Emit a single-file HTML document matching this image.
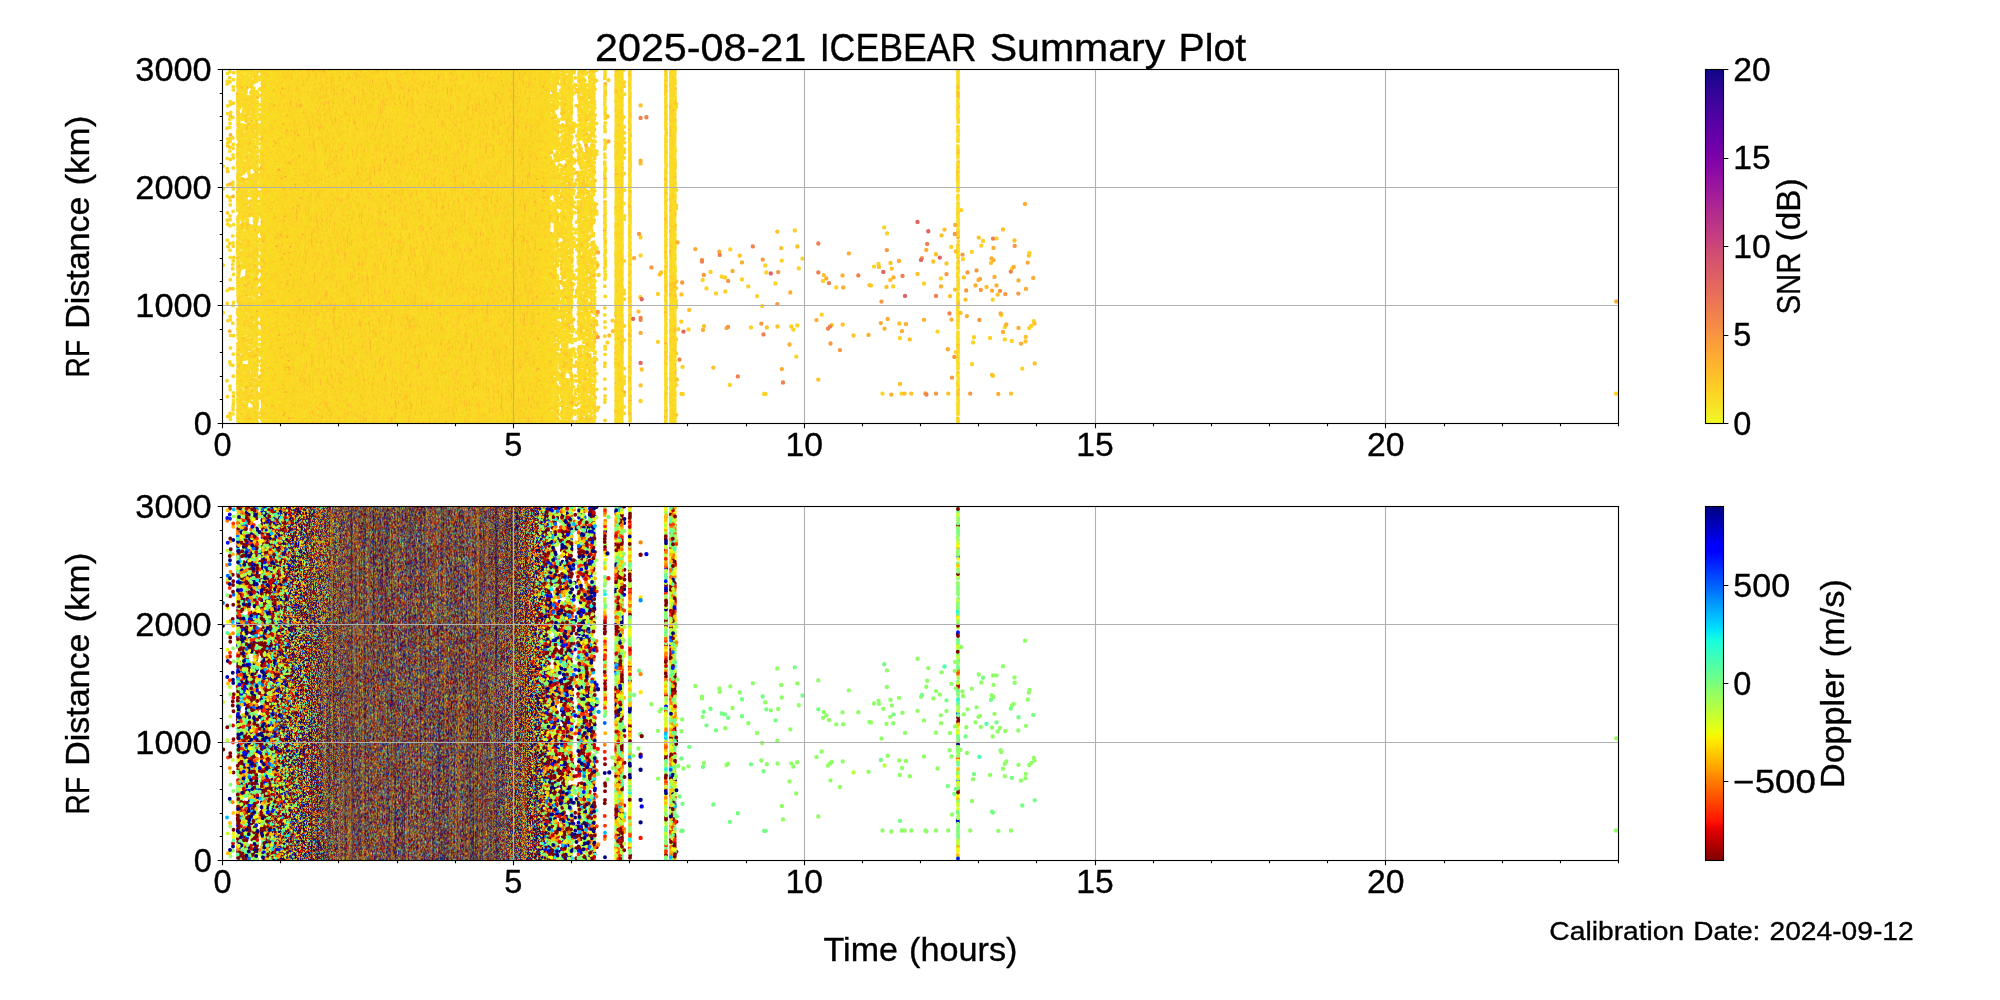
<!DOCTYPE html>
<html><head><meta charset="utf-8"><title>ICEBEAR Summary Plot</title>
<style>html,body{margin:0;padding:0;background:#fff;font-family:"Liberation Sans",sans-serif}svg{display:block}</style>
</head><body>
<svg width="2000" height="1000" viewBox="0 0 2000 1000" font-family="'Liberation Sans', sans-serif" fill="#000">
<rect width="2000" height="1000" fill="#fff"/>
<defs><clipPath id="c1"><rect x="222.5" y="69.5" width="1396.0" height="354.0"/></clipPath><clipPath id="c2"><rect x="222.5" y="506.5" width="1396.0" height="354.0"/></clipPath></defs>
<g clip-path="url(#c1)"><defs><filter id="nt" x="0" y="0" width="1" height="1" color-interpolation-filters="sRGB"><feTurbulence type="fractalNoise" baseFrequency="0.7 0.035" numOctaves="2" seed="4"/><feColorMatrix type="matrix" values="1 0 0 0 0 1 0 0 0 0 1 0 0 0 0 0 0 0 0 1"/><feComponentTransfer><feFuncR type="discrete" tableValues="0.981 0.98 0.983 0.99 0.976 0.978 0.973 0.988 0.973 0.994 0.99 0.976 0.974 0.989 0.983 0.984 0.98 0.98 0.973 0.988 0.988 0.994 0.983 0.983 0.98 0.988 0.992 0.978 0.978 0.994 0.973 0.985 0.98 0.983 0.981 0.981 0.974 0.984 0.981 0.973 0.983 0.978 0.981 0.993 0.985 0.995 0.99 0.976 0.987 0.983 0.98 0.985 0.976 0.974 0.976 0.993 0.98 0.985 0.983 0.974"/><feFuncG type="discrete" tableValues="0.848 0.855 0.842 0.803 0.868 0.861 0.881 0.816 0.881 0.717 0.797 0.868 0.875 0.81 0.842 0.835 0.855 0.855 0.881 0.816 0.816 0.705 0.842 0.842 0.855 0.816 0.784 0.861 0.861 0.747 0.881 0.829 0.855 0.842 0.848 0.848 0.875 0.835 0.848 0.881 0.842 0.861 0.848 0.778 0.829 0.729 0.803 0.868 0.822 0.842 0.855 0.829 0.868 0.875 0.868 0.778 0.855 0.829 0.842 0.875"/><feFuncB type="discrete" tableValues="0.142 0.142 0.142 0.147 0.143 0.143 0.145 0.144 0.145 0.177 0.148 0.143 0.144 0.145 0.142 0.143 0.142 0.142 0.145 0.144 0.144 0.183 0.142 0.142 0.142 0.144 0.151 0.143 0.143 0.164 0.145 0.143 0.142 0.142 0.142 0.142 0.144 0.143 0.142 0.145 0.142 0.143 0.142 0.153 0.143 0.172 0.147 0.143 0.144 0.142 0.142 0.143 0.143 0.144 0.143 0.153 0.142 0.143 0.142 0.144"/></feComponentTransfer><feConvolveMatrix order="3" kernelMatrix="0 2 0 1 4 1 0 2 0" edgeMode="duplicate" preserveAlpha="true"/></filter><filter id="nb" x="0" y="0" width="1" height="1" color-interpolation-filters="sRGB"><feTurbulence type="fractalNoise" baseFrequency="0.9 0.27" numOctaves="2" seed="11"/><feColorMatrix type="matrix" values="1 0 0 0 0 1 0 0 0 0 1 0 0 0 0 0 0 0 0 1"/><feComponentTransfer><feFuncR type="discrete" tableValues="0.5 0 1 0.5 0 0.971 1 0.5 1 0.794 0 0 0.5 0 0.5 1 0 0.5 0 0.705 0.452 1 0.5 0 0.5 0.895 0.785 0 1 0.5 1 0 1 0.225 0.5 1 0 0 0.5 1 0 0.5 0.617 0.465 0 0.5 0.794 0 0.5 1 0 0.5 1 0.91 0 0.5 0 1 0.5 0.607 0.427 0.5 0 1 0.5 0.794 1 0 0 0 0.5 0 0.981 0.5 0.655 0 0.5 1 1 0 0.5 0 0.781 1 0 0.5 0 0.49 0.643 0.225 0.767 0 0.5 0.338 0.5 0 0 1 0.541 0.5 0 0.971 0.908 0.5 0.047 0 0.5 1 1 0 0.5 1 0.5 0 0.5 0.528 0 1 1 0.5 0.718 0 0 0.66 0.5 0.781 0 1 0.963 0.5 0 0.5 1 1 0 0 0.5 0 0.5 0.5 0 0.465 0.908 0.085 0.785 0.3 1 0.981 0.693 0.5 0 1 0.5 0 1 0.5 0 0.5 0 0.781 1 0.5 0 1 0 0.414 0 0.5 0 0.5 0 1 0.5 1 1 0.832 0.693 0 0.946 0.5"/><feFuncG type="discrete" tableValues="0 0 0.654 0 0 0.959 0.146 0 0.335 1 0 0.222 0 0 0 0.625 0 0 0 1 1 0.829 0 0 0 1 0 0 0.582 0 0.117 0 0.378 1 0 0.872 0.629 0 0 0.596 0 0 1 1 0.833 0 1 0 0 0.843 0 0 0.64 0.001 0 0 0 0.291 0 0 1 0 0 0.683 0 1 0.872 0 0 0.206 0 0 0.059 0 1 0 0 0.32 0.567 0.645 0 0 1 0.916 0.849 0 0 1 0 1 0 0 0 1 0 0 0.222 0.567 1 0 0 0.959 1 0 0.959 0 0 0.146 0.349 0 0 0.567 0 0 0 1 0 0.858 0.669 0 1 0 0 0 0 1 0 0.436 0.044 0 0 0 0.858 0.625 0 0.676 0 0 0 0 0 1 1 1 0 1 0.916 0.059 1 0 0 0.553 0 0.175 0.436 0 0 0 0 1 0.829 0 0 0.582 0 1 0.598 0 0 0 0 0.654 0 0.393 0.858 1 1 0 0.03 0"/><feFuncB type="discrete" tableValues="0 0.5 0 0 0.5 0 0 0 0 0.174 0.5 1 0 0.5 0 0 0.5 0 0.857 0.262 0.515 0 0 0.5 0 0.073 0 0.5 0 0 0 0.5 0 0.743 0 0 1 0.5 0 0 0.5 0 0.351 0.503 1 0 0.174 0.5 0 0 0.5 0 0 0 0.5 0 0.5 0 0 0 0.541 0 0.5 0 0 0.174 0 0.5 0.928 1 0 0.5 0 0 0.313 0.5 0 0 0 1 0 0.5 0.187 0 1 0 0.5 0.478 0 0.743 0 0.5 0 0.629 0 0.5 1 0 0.427 0 0.5 0 0.06 0 0.92 0.5 0 0 0 0.5 0 0 0 0.5 0 0.44 0.5 0 0 0 0.25 0.857 0.5 0 0 0.187 0.5 0 0 0 0.5 0 0 0 0.5 1 0 0.5 0 0 0.5 0.503 0.06 0.882 0 0.667 0 0 0.275 0 0.5 0 0 1 0 0 0.5 0 0.5 0.187 0 0 0.5 0 0.928 0.553 1 0 0.5 0 0.5 0 0 0 0 0.136 0.275 0.5 0 0"/></feComponentTransfer><feColorMatrix type="matrix" values="1 0 0 0 0 0 1 0 0 0 0 0 1 0 0 0 0 0 1 0" result="a"/><feTurbulence type="fractalNoise" baseFrequency="0.9 0.27" numOctaves="2" seed="37"/><feColorMatrix type="matrix" values="1 0 0 0 0 1 0 0 0 0 1 0 0 0 0 0 0 0 0 1"/><feComponentTransfer><feFuncR type="discrete" tableValues="0 0.5 0.731 0.49 0.5 0 0.857 1 0.5 0 1 0 0.91 0.5 0 0 0.288 0.5 1 0 0.5 0.541 1 0 0.714 0.5 0 0.857 0.022 0.5 0 0.984 0.981 0.5 1 0.718 0 0.5 0 0.5 1 0 0.5 0.971 0 0.781 0.237 0.5 1 0 0.465 0.75 0.5 0 0 0.5 0 1 0.963 1 0.5 0 0.5 0 1 0.655 0.5 0 0.844 0.414 0.5 0 0.984 0.5 0 1 0 0.963 0.5 0 0.5 0.643 0.844 1 0.5 0 0 1 0.5 1 0.785 0.5 1 0 0 1 0.5 0 0.503 0.769 0.313 0.5 1 0 0.91 0.5 1 0 0.5 0 0 0 0.5 1 1 0.5 0 0.87 0.643 0.996 0.5 0 0 0.667 0.5 0.478 1 0 0.5 0 0 1 0.5 0.5 0 0.984 0.908 0.262 0.5 0 1 1 0.5 0 0 0.5 0.678 0 0.629 0.503 1 0.984 0.5 0.832 0 0.5 0.981 0 0 0.5 0.085 0.5 0 1 1 0.5 1 0 0.478 0.5 0 0.5 0.844 0 0.981 0.5 1 0 0.604 0.5"/><feFuncG type="discrete" tableValues="0 0 1 1 0 0 1 0.625 0 0 0.916 0 0.001 0 0.645 0 1 0 0.698 0 0 1 0.407 0.3 0 0 0 1 0.927 0 0 0.945 0.059 0 0.567 1 0 0 0 0 0.291 0 0 0.959 0 1 1 0 0.553 0 1 0 0 0.567 0 0 0 0.901 0.044 0.625 0 0 0 0.865 0.32 1 0 0 1 1 0 0 0.945 0 0.175 0.683 0 0.044 0 0 0 0 1 0.596 0 0 0 0.887 0 0.393 0 0 0.916 0.19 0 0.291 0 0 1 1 1 0 0.611 0 0.001 0 0.829 0 0 0 0 0.52 0 0.654 0.306 0 0 1 0 0.93 0 0 0.88 1 0 1 0.567 0 0 0.237 0 0.146 0 0 0 0.945 1 1 0 0 0.669 0.32 0 0 0.535 0 0 0 1 1 0.712 0.945 0 1 0 0 0.059 0 0 0 1 0 0 0.64 0.422 0 0.843 0 1 0 0 0 1 0 0.059 0 0.669 0 1 0"/><feFuncB type="discrete" tableValues="0.5 0 0.237 0.478 0 0.5 0.111 0 0 0.999 0 0.5 0 0 1 0.5 0.68 0 0 0.5 0 0.427 0 1 0 0 0.5 0.111 0.946 0 0.5 0 0 0 0 0.25 0.5 0 0.5 0 0 0.5 0 0 0.91 0.187 0.731 0 0 0.5 0.503 0 0 1 0.5 0 0.5 0 0 0 0 0.5 0 0.996 0 0.313 0 0.5 0.123 0.553 0 0.5 0 0 1 0 0.5 0 0 0.5 0 0 0.123 0 0 0.5 0.5 0 0 0 0 0 0 1 0.5 0 0 0.5 0.465 0.199 0.655 0 0 0.5 0 0 0 0.5 0 0.874 0.5 1 0 0 0 0 0.5 0.098 0 0 0 0.5 0.984 0.3 0 0.49 0 0.5 0 1 0.5 0 0 0 0.5 0 0.06 0.705 0 0.5 0 0 0 0.5 1 0 0 0.5 0.338 0.465 0 0 0 0.136 1 0 0 0.5 0.5 0 0.882 0 0.5 0 0 0 0 0.5 0.49 0 0.5 0 0.123 0.5 0 0 0 0.5 0.364 0"/></feComponentTransfer><feColorMatrix type="matrix" values="1 0 0 0 0 0 1 0 0 0 0 0 1 0 0 0 0 0 1 0" result="b"/><feTurbulence type="fractalNoise" baseFrequency="0.9 0.27" numOctaves="2" seed="53"/><feColorMatrix type="matrix" values="1 0 0 0 0 1 0 0 0 0 1 0 0 0 0 0 0 0 0 1"/><feComponentTransfer><feFuncR type="discrete" tableValues="0 0.5 0.908 0.452 1 0.5 0 1 1 0.5 0 0.696 0.5 0 0.5 0.857 0.958 0 0.5 1 0.503 0.3 0 1 0.5 0 0.5 0 0 1 0.705 1 0.5 0 1 0.5 0.06 0 0 0.5 0.781 1 0 0.767 0.5 0.553 1 0 0.5 1 0 0.5 1 0.5 0 0.882 0.5 0 1 0.5 1 0 0.275 0.5 0.999 0.629 0 0.553 0.5 0 1 0 0.5 0.5 1 0.607 0.781 0 0 1 0.5 0 0.5 0.999 0 0 0.5 0.693 1 0 0.714 0 0.5 0.035 1 1 0 0.5 0.895 0.5 0 0.5 1 0 1 0.5 0.503 0 0 1 1 0.25 0.5 0 0.5 1 0.5 0 0.857 1 0.714 0.5 0.68 0 0.5 0 1 0.5 1 1 0.857 0 0.5 0 0 0.49 0.5 0 1 0 0.5 0 0.91 0.5 1 0 0.68 0 0.781 0.5 0 1 0.5 0 0.971 0.5 0.225 0.643 1 0.541 0 0.5 0 0.5 0.5 0 1 0.996 0.5 1 0 0.806 0.5 0 0 1 0.5 0.478 0.718 0"/><feFuncG type="discrete" tableValues="0 0 1 1 0.843 0 0 0.335 0.654 0 0 0 0 0 0 1 0.974 0 0 0.088 1 1 0 0.683 0 0.253 0 0 0 0.872 1 0.364 0 0 0.683 0 0.975 0 0.551 0 1 0.117 0 0 0 1 0.916 0 0 0.683 0 0 0.291 0 0 1 0 0 0.596 0 0.901 0 1 0 0.073 1 0 1 0 0.331 0.306 0 0 0 0.567 0 1 0 0 0.829 0 0 0 0.073 0.645 0 0 1 0.611 0.896 0 0 0 0.943 0.843 0.596 0 0 1 0 0 0 0.088 0 0.669 0 1 0.676 0 0.843 0.335 1 0 0 0 0.683 0 0 1 0.117 0 0 1 0 0 0 0.872 0 0.625 0.393 1 0 0 0.222 0 1 0 0 0.901 0.567 0 0 0.001 0 0.611 0 1 0.849 1 0 0 0.335 0 0 0.959 0 1 0 0.625 1 0 0 0 0 0 0 0.131 0.93 0 0.698 0 1 0 0 0 0.407 0 1 1 0.237"/><feFuncB type="discrete" tableValues="0.5 0 0.06 0.515 0 0 0.5 0 0 0 0.5 0 0 0.5 0 0.111 0.009 0.5 0 0 0.465 0.667 0.5 0 0 1 0 0.5 0.892 0 0.262 0 0 0.5 0 0 0.908 0.5 1 0 0.187 0 0.5 0 0 0.414 0 0.5 0 0 0.5 0 0 0 0.5 0.085 0 0.5 0 0 0 0.5 0.693 0 0 0.338 0.5 0.414 0 1 0 0.5 0 0 0 0 0.187 0.5 0.874 0 0 0.5 0 0 1 0.5 0 0.275 0 0.971 0 0.5 0 0.933 0 0 0.5 0 0.073 0 0.5 0 0 0.5 0 0 0.465 1 0.5 0 0 0.718 0 0.5 0 0 0 0.5 0.111 0 0 0 0.288 0.5 0 0.5 0 0 0 0 0.111 0.5 0 1 0.5 0.478 0 0.999 0 1 0 0.5 0 0 0 0.5 0.288 1 0.187 0 0.5 0 0 0.5 0 0 0.743 0 0 0.427 0.5 0 0.5 0 0 0.5 0 0 0 0 0.5 0.161 0 0.91 0.5 0 0 0.49 0.25 1"/></feComponentTransfer><feColorMatrix type="matrix" values="1 0 0 0 0 0 1 0 0 0 0 0 1 0 0 0 0 0 1 0" result="c"/><feComposite in="a" in2="b" operator="arithmetic" k1="0" k2="0.64" k3="0.36" k4="0" result="ab"/><feComposite in="ab" in2="c" operator="arithmetic" k1="0" k2="0.8" k3="0.2" k4="0"/><feConvolveMatrix order="3" kernelMatrix="0 3 0 1 9 1 0 3 0" edgeMode="duplicate" preserveAlpha="true"/></filter><filter id="st" x="0" y="0" width="1" height="1" color-interpolation-filters="sRGB"><feTurbulence type="fractalNoise" baseFrequency="0.45 0.003" numOctaves="2" seed="9"/><feColorMatrix type="matrix" values="0 0 0 0 0.05 0 0 0 0 0.02 0 0 0 0 0.35 2.6 0 0 0 -1.3"/></filter><filter id="sy" x="0" y="0" width="1" height="1" color-interpolation-filters="sRGB"><feTurbulence type="fractalNoise" baseFrequency="0.45 0.003" numOctaves="2" seed="31"/><feColorMatrix type="matrix" values="0 0 0 0 0.95 0 0 0 0 0.62 0 0 0 0 0.05 2.6 0 0 0 -1.3"/></filter><filter id="nc" x="0" y="0" width="1" height="1" color-interpolation-filters="sRGB"><feTurbulence type="fractalNoise" baseFrequency="0.52 0.2" numOctaves="2" seed="71"/><feColorMatrix type="matrix" values="1 0 0 0 0 1 0 0 0 0 1 0 0 0 0 0 0 0 0 1"/><feComponentTransfer><feFuncR type="discrete" tableValues="0 0.5 0.275 1 0 0.5 0 0.882 0.705 1 0.5 0.591 0 1 0.047 0.478 0 0.5 1 0 0.66 0.5 0 0 0.5 1 1 0 0.857 0.5 0.958 0.5 0 0.553 1 0.5 0 0.5 1 0.892 0 0.678 1 0.5 0 0.92 0.617 0.5 0 0.604 1 0 0.5 0.262 0.49 0 1 0.5 0 1 0.5 0 0.607 0 0.946 0.047 0.5 1 0 1 0.5 0.655 0 0.806 1 0.566 0.5 0 0.5 0 0.999 1 0 0.5 0 1 0.5 0 0.844 0.465 0.49 0.5 0 1 0.5 0.767 0.958 1 0 0.5 1 0.199 0 0.5 0.767 0 0.604 0.5 0 0.515 0 0.5 1 0.946 0 0.5 1 1 0 0.5 0.806 0.5 0 0.604 1 0.996 0.732 0.5 0 0.604 0.5 1 0 0 0.5 0.882 1 0 0.5 1 0 1 0.5 0 0.503 0.5 0 0 0.022 0.262 0.49 0.5 1 1 0 0.5 1 0.731 0.832 0.678 1 0 0.5 0 0.5 0 1 0.5 0 1 0 0.49 0.5 0 1 0.5 1 0.895 0 0.643 0.528 0.5 0.984 0.5 0 0.047 1 0.5 0 0.68 0.503 0 0.882 1 0.5 0 1 0.5 1 0"/><feFuncG type="discrete" tableValues="0 0 1 0.131 0.551 0 0 1 1 0.596 0 1 0 0.916 0.959 1 0.316 0 0.436 0 0 0 0 0 0 0.64 0.146 0 1 0 0.974 0 0 1 0.364 0 0 0 0.64 0 0 0 0.843 0 0 1 1 0 0 1 0.901 0.206 0 1 1 0 0.64 0 0 0.407 0 0 0 0.598 0.03 0.959 0 0.669 0 0.901 0 1 0 1 0.436 1 0 0 0 0 0.073 0.625 0 0 0.222 0.887 0 0 1 1 1 0 0 0.669 0 0 0.974 0.32 0 0 0.64 1 0 0 0 0 1 0 0 1 0.269 0 0.553 0.03 0 0 0.829 0.393 0 0 1 0 0 1 0.567 0.93 0 0 0 1 0 0.131 0 0 0 1 0.436 0.269 0 0.901 0 0.712 0 0 1 0 0 0.661 0.927 1 1 0 0.306 0.872 0 0 0.102 1 1 0 0.553 0 0 0 0 0 0.916 0 0 0.625 0.331 1 0 0 0.407 0 0.146 1 0 0 1 0 0.945 0 0 0.959 0.567 0 0 1 1 0.551 1 0.306 0 0 0.146 0 0.916 0"/><feFuncB type="discrete" tableValues="0.5 0 0.693 0 1 0 0.5 0.085 0.262 0 0 0.376 0.5 0 0.92 0.49 1 0 0 0.5 0 0 0.963 0.5 0 0 0 0.5 0.111 0 0.009 0 0.5 0.414 0 0 0.5 0 0 0 0.5 0 0 0 0.5 0.047 0.351 0 0.5 0.364 0 1 0 0.705 0.478 0.946 0 0 0.5 0 0 0.5 0 1 0 0.92 0 0 0.5 0 0 0.313 0.5 0.161 0 0.402 0 0.5 0 0.928 0 0 0.5 0 1 0 0 0.5 0.123 0.503 0.478 0 0.5 0 0 0 0.009 0 0.5 0 0 0.769 0.5 0 0 0.5 0.364 0 0.5 0.452 1 0 0 0 0.5 0 0 0 0.5 0 0.161 0 0.5 0.364 0 0 0 0 0.5 0.364 0 0 0.857 0.5 0 0.085 0 1 0 0 0.5 0 0 0.5 0.465 0 0.5 1 0.946 0.705 0.478 0 0 0 0.5 0 0 0.237 0.136 0 0 0.5 0 0.5 0 0.981 0 0 0.5 0 1 0.478 0 0.5 0 0 0 0.073 0.5 0 0.44 0 0 0 0.5 0.92 0 0 0.5 0.288 0.465 1 0.085 0 0 0.5 0 0 0 0.91"/></feComponentTransfer><feConvolveMatrix order="3" kernelMatrix="0 1 0 0 10 0 0 1 0" edgeMode="duplicate" preserveAlpha="true"/></filter><linearGradient id="mgl" gradientUnits="userSpaceOnUse" x1="262" y1="0" x2="362" y2="0"><stop offset="0" stop-color="#fff" stop-opacity="1"/><stop offset="0.4" stop-color="#fff" stop-opacity="1"/><stop offset="0.68" stop-color="#fff" stop-opacity="0.5"/><stop offset="1" stop-color="#fff" stop-opacity="0"/></linearGradient><linearGradient id="mgr" gradientUnits="userSpaceOnUse" x1="470" y1="0" x2="549.5" y2="0"><stop offset="0" stop-color="#fff" stop-opacity="0"/><stop offset="0.55" stop-color="#fff" stop-opacity="0.6"/><stop offset="0.85" stop-color="#fff" stop-opacity="1"/><stop offset="1" stop-color="#fff" stop-opacity="1"/></linearGradient><mask id="mkl" maskUnits="userSpaceOnUse" x="262" y="506.5" width="100" height="354.0"><rect x="262" y="506.5" width="100" height="354.0" fill="url(#mgl)"/></mask><mask id="mkr" maskUnits="userSpaceOnUse" x="470" y="506.5" width="79.5" height="354.0"><rect x="470" y="506.5" width="79.5" height="354.0" fill="url(#mgr)"/></mask><path id="d0" d="m909 2708h0m42-18h0m1 21h0m0-219h0m1-63h0m5 969h0m1-356h0m5-764h0m13 363h0m1 418h0m26-492h0m1 868h0m10-637h0m1 467h0m34-1115h0m1 687h0m6-358h0m10 270h0m1-675h0m2 867h0m0-275h0m1127-285h0m5-196h0m19 642h0m12-793h0m4 1159h0m12-1066h0m6 844h0m3 385h0m9-420h0m17-779h0m1 1054h0m1-595h0m8 679h0m6-697h0m13-44h0m5-18h0m10 544h0m5-776h0m5 941h0m7-190h0m11-524h0m8 450h0m5-154h0m10-98h0m85-681h0m0 638h0m1-191h0m0 377h0m0-607h0m15 317h0m40 248h0m0-107h0m145-448h0m19 306h0m15-144h0m1 133h0m0 551h0"/><path id="d1" d="m919 3072h0m3-588h0m0-197h0m10 246h0m19-410h0m1 904h0m6-216h0m11 154h0m6-48h0m1 449h0m0-265h0m2-883h0m7 708h0m1-550h0m2-279h0m8 953h0m1 284h0m8-1101h0m1 1096h0m3-430h0m16 93h0m0-558h0m5 167h0m8 655h0m1-740h0m8 404h0m1 268h0m14-222h0m4-370h0m1 281h0m0-32h0m5-122h0m17-241h0m0 471h0m1103 154h0m5 58h0m4-541h0m1 567h0m1-509h0m1 195h0m5-9h0m2 567h0m0-514h0m0 158h0m3-964h0m0 865h0m10 146h0m6-849h0m6-26h0m4 198h0m9 567h0m2 358h0m4-1177h0m1 1017h0m2-862h0m0 583h0m7-528h0m3 973h0m1-1040h0m1-187h0m3 8h0m0 617h0m4 279h0m1-582h0m10 881h0m19-496h0m8-227h0m4-490h0m3-50h0m2 1294h0m2-611h0m3-294h0m9-212h0m0-70h0m6 126h0m1 6h0m0 875h0m3-922h0m10 890h0m1 174h0m1-249h0m4-53h0m2-443h0m11 593h0m2-120h0m1 260h0m39-668h0m1-207h0m1-379h0m43 1307h0m1-946h0m0 835h0m0-269h0m0 28h0m0 100h0m7-623h0m0-72h0m1 658h0m7 88h0m0 117h0m1-181h0m0-939h0m1 885h0m0-559h0m5 802h0m0-392h0m1-841h0m0 338h0m9 897h0m22-377h0m1 392h0m0 17h0m0-256h0m143-97h0m0-372h0m0 790h0m0-292h0m1 33h0m0-1085h0m19 475h0m0 380h0m1-333h0m0-300h0m7 1077h0m1-199h0m0-255h0m6 320h0m0-27h0m1-751h0m1-355h0m1132 868h0m0-272h0"/><path id="d2" d="m1116 2318h0m1 413h0m2-600h0m5-38h0m4 422h0m10-97h0m9-157h0m20 181h0m17 592h0m2 64h0m0 112h0m37-303h0m916-738h0m14 878h0m5 24h0m9-221h0m13 302h0m3-305h0m0 212h0m3-204h0m0 126h0"/><path id="d3" d="m1054 2400h0m11 929h0m10-827h0m4 15h0m0 591h0m4 214h0m3-709h0m7 325h0m6 218h0m7 30h0m3-481h0m1 497h0m3-370h0m16-761h0m1 822h0m5 214h0m18-1069h0m1 936h0m1014-33h0m3-429h0m1 695h0m2-945h0m1 954h0m5-159h0m3-281h0m2-39h0m10-425h0"/><path id="d4" d="m1101 3241h0m40-34h0m1039-1117h0m12 1028h0m4-87h0"/><path id="d5" d="m1084 2090h0m1 643h0m2 113h0m6-513h0m4-274h0m0 464h0m1 292h0m1 166h0m1-397h0m3-475h0m0 960h0m1-427h0m1-599h0m2 1049h0m2 264h0m2-390h0m1-500h0m3-187h0m5 910h0m3-695h0m1 354h0m1 553h0m1-477h0m1-119h0m0-17h0m3 381h0m0-70h0m0-516h0m0-244h0m2 408h0m1 100h0m0-357h0m1-147h0m0 1044h0m4-1165h0m1 950h0m1-976h0m3 578h0m0-648h0m0 1147h0m1-253h0m6 103h0m1-291h0m0 458h0m4-331h0m1 224h0m1-304h0m0-361h0m1 551h0m1-142h0m0-554h0m0 667h0m2 260h0m1-1197h0m2 422h0m1 828h0m0-497h0m2 151h0m0 88h0m0-144h0m2-759h0m0-41h0m2 899h0m0 288h0m6-372h0m4 188h0m0-1024h0m1 1300h0m5-880h0m1-491h0m1 712h0m1-726h0m1 665h0m1 329h0m0 395h0m4-376h0m2-792h0m0 267h0m2-252h0m0 607h0m0-86h0m5-684h0m0 92h0m0-81h0m2 395h0m2 267h0m5-203h0m1 60h0m4 224h0m6 410h0m0-575h0m14 239h0m900-516h0m0 430h0m1 503h0m2-1013h0m7 844h0m1-520h0m1 132h0m1-752h0m1 1226h0m4-471h0m0-290h0m1 414h0m3-896h0m2 1157h0m0-723h0m0 158h0m1 340h0m2-155h0m1 261h0m1 59h0m1-357h0m2-241h0m0-169h0m1-18h0m0-222h0m0-69h0m2 1272h0m1-214h0m1-868h0m2 412h0m0 588h0m2-738h0m2 803h0m0-1251h0m2 648h0m1 545h0m3 59h0m2-1085h0m1 450h0"/><path id="d6" d="m911 2331h0m1 699h0m7-309h0m32-97h0m2-10h0m2 479h0m0 77h0m2-352h0m1 99h0m1-192h0m5-653h0m0 820h0m3 340h0m1-512h0m6-63h0m5 452h0m0-156h0m5-214h0m2-430h0m1 303h0m1 58h0m0 658h0m6-864h0m1 367h0m1-101h0m3-562h0m16-10h0m9 577h0m1-212h0m2 396h0m20-132h0m10-38h0m1 131h0m8 339h0m11-350h0m1105-220h0m4 659h0m16-888h0m2 525h0m0-178h0m1 385h0m17-1012h0m0 1275h0m5-697h0m1-393h0m2 969h0m10-735h0m15-178h0m1 631h0m11-689h0m3 498h0m12-561h0m6 206h0m29 438h0m1-243h0m5-99h0m11-200h0m3 354h0m6 27h0m1 186h0m2-624h0m12 263h0m1 302h0m0-693h0m0 1138h0m5-971h0m4 605h0m6-310h0m1 481h0m11-528h0m34 711h0m1-513h0m0 11h0m43 200h0m1-18h0m0-597h0m1 237h0m7 765h0m0-1006h0m1 552h0m7 66h0m0-696h0m6 757h0m1 341h0m0-98h0m0-624h0m31 218h0m1-290h0m0-19h0m0-172h0m143 427h0m1-212h0m19 689h0m0 8h0m8-348h0m0-490h0m1-383h0m0 97h0m0 101h0m6 990h0m1-850h0m1 744h0m0-926h0m0 147h0m1132 622h0m0-344h0"/><path id="d7" d="m1060 3286h0m10-202h0m19 207h0m1-996h0m21-189h0m31 701h0m1 371h0m5-597h0m1022 148h0"/><path id="d8" d="m1052 3421h0m11-794h0m13 420h0m5-706h0m9 447h0m8 71h0m19-715h0m5 952h0m39-685h0m1013 825h0m6-269h0m0-179h0m3 151h0m2-98h0m1-775h0m1 398h0m2 260h0"/><path id="d9" d="m1059 2872h0m0 48h0m4-655h0m7 378h0m7-130h0m3-203h0m4 802h0m5 245h0m3-561h0m5 600h0m2-791h0m10 502h0m16 43h0m4-379h0m0-288h0m8-170h0m3-216h0m6 190h0m5 546h0m10-100h0m1006-390h0m11 428h0m2-637h0m13 157h0m1 342h0m2-270h0"/><path id="d10" d="m1054 3144h0m3-36h0m6 292h0m5 4h0m1-171h0m0-439h0m1-444h0m1 763h0m0-917h0m1 951h0m1-171h0m0-443h0m3-406h0m2 588h0m3 106h0m0-564h0m1-54h0m0 958h0m1-460h0m2-629h0m4 408h0m1-209h0m2 735h0m2-434h0m1 149h0m3 455h0m3-846h0m1 917h0m4 38h0m3-182h0m6-592h0m4 297h0m11 167h0m5-451h0m2 878h0m0-85h0m2-514h0m4 94h0m2-200h0m0 640h0m3-1058h0m7 947h0m8 94h0m1003-480h0m2 574h0m5-694h0m0-51h0m5 545h0m1-7h0m2-1082h0m3 1048h0m2-903h0m2 311h0m6-240h0m2 254h0m0-530h0m1 1023h0m0 89h0"/><path id="d11" d="m920 2075h0m31 471h0m4-322h0m0 546h0m14-669h0m27-34h0m11 1153h0m11 136h0m11-1002h0m30-224h0m1164 1131h0m25-541h0m40-56h0m18-196h0m41 250h0m12-683h0m113 620h0m1 581h0m0 57h0m8-703h0m6-127h0"/><path id="d12" d="m1061 2321h0m2-244h0m3 529h0m0-490h0m1 650h0m6 297h0m7 320h0m0-1266h0m9 1196h0m1-185h0m0-510h0m1 212h0m2-635h0m4 806h0m6-246h0m0 468h0m3-448h0m4-732h0m0 981h0m1-397h0m2 589h0m1 40h0m2-807h0m6 567h0m7 169h0m1-20h0m1-1020h0m2 440h0m0 273h0m2-553h0m3 773h0m1-212h0m2-213h0m0-393h0m1020 539h0m10 591h0m8-4h0m2-1267h0m4 174h0m1 1025h0m6-997h0m2 586h0m2 50h0m0 423h0m0-62h0"/><path id="d13" d="m1087 3228h0m8-1188h0m0 716h0m2-654h0m4 155h0m1 1052h0m7-369h0m2 85h0m2 393h0m3-958h0m2-216h0m2 667h0m1-842h0m4 1093h0m2-777h0m0 159h0m3 562h0m9-1010h0m5 882h0m3-191h0m1-162h0m0 174h0m3 436h0m5-135h0m3-240h0m2 441h0m1-1178h0m12 460h0m2 520h0m13-265h0m5 518h0m12-73h0m8-1115h0m16-124h0m5 436h0m887 837h0m17 91h0m1-808h0m4-194h0m12 104h0m3-395h0m2 599h0m1 96h0m5 376h0m8-535h0m3 352h0m2-875h0m10 363h0m2-42h0"/><path id="d14" d="m1058 2772h0m0-624h0m4 590h0m3 543h0m0-209h0m2 198h0m5-520h0m1-613h0m4 115h0m0 844h0m1-774h0m1 710h0m0 97h0m3-38h0m1-839h0m1 315h0m2 823h0m1-178h0m2-802h0m1-24h0m2 476h0m2 204h0m9-567h0m5-11h0m4 245h0m1-154h0m0-110h0m1 538h0m0-508h0m1 844h0m0 59h0m0-1213h0m2 1037h0m1-296h0m0-594h0m1 454h0m2-464h0m1 390h0m0 191h0m1 417h0m2-1240h0m3 1321h0m2-668h0m1-188h0m2 652h0m2 173h0m0-967h0m3 345h0m1-85h0m0 191h0m0-119h0m6-233h0m0-106h0m2 281h0m10-492h0m1005 860h0m1-33h0m5-243h0m5-679h0m1 112h0m5 974h0m1-302h0m0 473h0m1-331h0m0-44h0m0-112h0m3 53h0m1-47h0m3-211h0m1 628h0m1-88h0m0-935h0m1 248h0m0 151h0m1 688h0m0-626h0m1 462h0m0-40h0m1-490h0m2 743h0m0-1317h0m1 1326h0"/><path id="d15" d="m1061 3225h0m2-336h0m7 436h0m1-974h0m2 566h0m4 42h0m1-125h0m7-384h0m1 657h0m0-47h0m1-633h0m5 12h0m1 124h0m1-430h0m2 733h0m7-278h0m3-169h0m7-168h0m2 418h0m2 389h0m5-276h0m1-498h0m7-88h0m1 1042h0m1-641h0m3-188h0m17 123h0m1 141h0m7 10h0m1005 750h0m7-602h0m2 605h0m1-873h0m3 572h0m6-519h0m7 0h0m1 119h0m0 269h0m5 225h0"/><path id="d16" d="m1058 2290h0m1 687h0m7-511h0m37 794h0m24-615h0m8-385h0m1046 203h0"/><path id="d17" d="m1094 3433h0m9-1060h0m10 352h0m16 286h0m8-903h0m26 628h0m10 658h0m3-1135h0m20 358h0m3 426h0m941 254h0m9-84h0m1-499h0m10 337h0m9-448h0m2 282h0m4-191h0m10 171h0m2-509h0"/><path id="d18" d="m1100 2313h0m3 127h0m6 394h0m2-76h0m3-121h0m3 689h0m4 54h0m2-311h0m4-484h0m4-389h0m2 105h0m0 523h0m1-46h0m0 189h0m1 398h0m5-686h0m1-511h0m6 1038h0m0-27h0m2-993h0m3 116h0m2 661h0m4 185h0m2 217h0m1-287h0m2 24h0m5 129h0m1-69h0m6-520h0m1 171h0m1 592h0m1-1353h0m10 85h0m16 45h0m3 846h0m0 277h0m1-948h0m17-71h0m7 903h0m901-597h0m8 683h0m1-1056h0m3 1180h0m6-475h0m4 466h0m1-641h0m2 105h0m1-253h0m6 473h0m1 86h0m3 99h0m3-134h0m1-375h0m2-244h0m3 496h0m1-444h0m3 853h0m1-1307h0m2 910h0m6-2h0"/><path id="d19" d="m1098 2682h0m2-281h0m2-257h0m9 581h0m4-415h0m1 894h0m1 49h0m2-655h0m1-84h0m1-149h0m0 1003h0m1-1046h0m14 570h0m1-558h0m15 169h0m2-184h0m0 917h0m1-854h0m1-299h0m4 1263h0m1-635h0m1 215h0m6 428h0m7-1044h0m0 182h0m2 384h0m2-800h0m3 708h0m0-422h0m4 466h0m5-176h0m1-35h0m2 669h0m5-1045h0m5 53h0m922 865h0m13-516h0m5 454h0m2-227h0m3-808h0m1 683h0m6 363h0m0-532h0m4 368h0m1 286h0m1-11h0m3-308h0m5 361h0m2-171h0m1-159h0m3 441h0m1-708h0m0 408h0m5-933h0m6-31h0m3 909h0m1-857h0"/><path id="d20" d="m954 2417h0m1 379h0m3 640h0m0-608h0m6 557h0m3-118h0m7-976h0m2 836h0m8-351h0m14-13h0m7 108h0m12 178h0m2-996h0m6 998h0m3-1015h0m18 1228h0m1138 82h0m8-816h0m8 284h0m4 482h0m16-1121h0m3 369h0m19 524h0m22 143h0m12-254h0m11-254h0m48-68h0m4-566h0m1 486h0m34 636h0m0-134h0m5-12h0m40-153h0m54-40h0m210 252h0m1 78h0m1147-328h0m1 270h0"/><path id="d21" d="m1066 3388h0m10-460h0m15 46h0m1 345h0m0-214h0m3-1064h0m18 70h0m24 732h0m1048-591h0m1 384h0m6-102h0"/><path id="d22" d="m1139 2615h0m8 797h0m5-1191h0m2 239h0m11-331h0m8 930h0m9-391h0m42 76h0m928-3h0m8-15h0m1-627h0m18 874h0m8-834h0m1 46h0"/><path id="d23" d="m920 2626h0m12 276h0m1-111h0m19-497h0m1 781h0m2-228h0m3-716h0m6 824h0m0-45h0m14 300h0m16-1029h0m0 60h0m11 1142h0m3-292h0m7-230h0m0-275h0m1-172h0m2 187h0m6 109h0m1 301h0m1-458h0m2 288h0m0-89h0m11-199h0m7-494h0m3 1014h0m0-426h0m2 595h0m8-866h0m2 61h0m16 906h0m20-44h0m1096 124h0m1-1380h0m2 670h0m0-59h0m3-195h0m6 397h0m5-395h0m3 602h0m6 119h0m4 142h0m4-237h0m1-485h0m1 469h0m2 234h0m1 6h0m0 36h0m10-272h0m7 83h0m1-69h0m0 67h0m1-645h0m7 926h0m0-469h0m1 335h0m1-829h0m7-370h0m2 977h0m1-780h0m4 686h0m0-808h0m1 112h0m1 1050h0m0-488h0m2 543h0m1-1169h0m4 166h0m4 500h0m27-102h0m3 344h0m12-183h0m4 471h0m0-574h0m4 286h0m17-507h0m0 420h0m0-831h0m1 978h0m4-28h0m5-323h0m1-371h0m12 768h0m1-19h0m0-398h0m1 354h0m41-143h0m1-314h0m0 26h0m44 246h0m0-212h0m15 10h0m1 593h0m6-42h0m0-652h0m1-374h0m9 906h0m23-868h0m0 245h0m143-400h0m1 442h0m19 716h0m1-1016h0m0-150h0m7 243h0m0 850h0m1 35h0m0-168h0m7-248h0m0 445h0m1-1092h0m0 146h0m6 885h0"/><path id="d24" d="m1110 2983h0m21-122h0m8-473h0m4 846h0m3-259h0m6-170h0m4-500h0m16-41h0m1 365h0m3-190h0m2-324h0m44 914h0m925-985h0"/><path id="d25" d="m931 2476h0m0 346h0m0-523h0m1 41h0m2 617h0m0 133h0m1-313h0m16 102h0m1-416h0m0-21h0m0 965h0m1-39h0m0 30h0m0-896h0m2 426h0m0-457h0m2 143h0m2-303h0m0 751h0m5-617h0m2 425h0m1-221h0m0 373h0m1-265h0m0-726h0m6 1143h0m0-362h0m2 408h0m0-971h0m1 783h0m0 313h0m0-181h0m0-833h0m0 72h0m1 598h0m0-409h0m0-476h0m1 1308h0m0-1265h0m0 408h0m5 442h0m2-649h0m1 891h0m0-391h0m0 275h0m1-434h0m0 258h0m0-20h0m0-617h0m0 782h0m0-470h0m1 269h0m5-707h0m1 83h0m0 545h0m0-495h0m0 371h0m0-315h0m1-44h0m0 749h0m0-680h0m0 260h0m0-449h0m1 457h0m1 499h0m1-492h0m6 609h0m0-490h0m1-215h0m0 451h0m0-770h0m0 1155h0m1-975h0m1 962h0m0-814h0m1-380h0m0 32h0m0 25h0m0 1083h0m6-519h0m0-699h0m0 1149h0m1-1215h0m0 224h0m0 188h0m1-124h0m0-28h0m1-147h0m1 633h0m0-271h0m5 89h0m1 481h0m1-665h0m1-388h0m1 1316h0m0-1097h0m0 1062h0m1-956h0m1 180h0m8 717h0m0-688h0m0-296h0m1-56h0m0 583h0m0 154h0m6-415h0m0 691h0m0-13h0m1-632h0m0 246h0m0-207h0m1 375h0m0-930h0m1 447h0m1 52h0m1-362h0m1-57h0m0 1228h0m1-305h0m4-467h0m1 659h0m0 8h0m0-697h0m0-523h0m3 1106h0m0-990h0m0-130h0m1 1132h0m0-706h0m7 186h0m0 106h0m1 404h0m0-671h0m0 573h0m1-631h0m6 9h0m2 364h0m0 463h0m0-926h0m1 654h0m0 105h0m7 84h0m1 80h0m2-159h0m0 301h0m7-1027h0m5 181h0m1086-550h0m0 127h0m3 1041h0m1-1149h0m0 228h0m0 119h0m0 352h0m0 265h0m1-753h0m0 1089h0m0-437h0m4 421h0m4-1139h0m1 173h0m0 102h0m0-260h0m1 988h0m0 144h0m0-945h0m1 197h0m3-210h0m3-284h0m3 994h0m1-1046h0m1 700h0m0-671h0m1 1324h0m3-252h0m1-294h0m0-799h0m2 720h0m0-447h0m0 926h0m1-1102h0m0 819h0m0 372h0m1-398h0m1-537h0m0-138h0m0 427h0m3 514h0m2-772h0m0-386h0m1 1080h0m1 242h0m1-338h0m0-718h0m0 37h0m1 147h0m0 384h0m0 140h0m1-562h0m7 189h0m1 343h0m0 252h0m1 19h0m0-507h0m3-290h0m0 325h0m0 152h0m0-278h0m1-256h0m0-224h0m1 231h0m0-316h0m0 1278h0m0-814h0m0 296h0m1-741h0m0 871h0m1-401h0m1 313h0m1 106h0m3-135h0m0-528h0m0 65h0m1 565h0m2-698h0m1-166h0m0 336h0m1 378h0m0-77h0m4 278h0m0-958h0m1 805h0m0-343h0m1 575h0m0-562h0m0 539h0m0 241h0m0-429h0m1-684h0m0 303h0m1 438h0m0-733h0m0 821h0m0 3h0m1 216h0m1-629h0m0-125h0m0 501h0m0-761h0m3-122h0m0 578h0m1-325h0m2 268h0m1-353h0m1 273h0m0 230h0m0-313h0m1-142h0m5 236h0m2-390h0m2 283h0m0 862h0m1-587h0m0 295h0m6-479h0m0 273h0m6 404h0m0-1192h0m4 1374h0m1-898h0m1 374h0m0 397h0m6-161h0m1-769h0m1 846h0m1-1014h0m0 1183h0m1-209h0m0-688h0m1-280h0m5 7h0m1-162h0m0-34h0m1 1189h0m0 143h0m0-640h0m0-209h0m0 471h0m1 453h0m0-851h0m0 419h0m0-405h0m1 702h0m0 102h0m2-1172h0m4 288h0m1 10h0m0 500h0m1-997h0m1 950h0m1-759h0m1-121h0m5 145h0m0-138h0m1 855h0m0-529h0m0-199h0m0 185h0m0 559h0m1 167h0m1-257h0m1-70h0m1 7h0m0 55h0m1 395h0m1-249h0m3 9h0m1-220h0m0-26h0m3-359h0m0 351h0m1-141h0m0 626h0m0-221h0m1-348h0m0 643h0m4-1044h0m1 573h0m0 95h0m0-373h0m1-151h0m3 694h0m0-345h0m1-262h0m1-240h0m4 397h0m1 607h0m1-192h0m1-529h0m1 845h0m0-976h0m1 140h0m0 650h0m1-1019h0m7 1181h0m33-256h0m0 67h0m0-708h0m44 561h0m0-401h0m0 412h0m1-209h0m0-672h0m0 590h0m0-25h0m0-574h0m0 331h0m1 305h0m6-391h0m2-102h0m6 574h0m0-274h0m1-9h0m1 268h0m5-718h0m0 820h0m0-906h0m0 365h0m0 568h0m0-129h0m1-708h0m0 698h0m0 282h0m8-846h0m2 749h0m0-772h0m21 387h0m1 240h0m0-624h0m1 1139h0m142-934h0m0-331h0m1 424h0m0 689h0m0-789h0m0 544h0m0-520h0m0 917h0m0-640h0m19-143h0m0 477h0m0-87h0m1-407h0m7-58h0m0-419h0m0 399h0m0 27h0m1 222h0m0-741h0m0 1215h0m0 147h0m6-501h0m1 138h0m0-127h0m0-178h0m6 219h0m1127-224h0m0 130h0m0-768h0m1 778h0"/><path id="d26" d="m1052 3328h0m2-1163h0m3 493h0m2 53h0m2 673h0m0-1014h0m1 81h0m3 399h0m2 405h0m0 141h0m1-1069h0m0 540h0m1-763h0m2 1247h0m0-359h0m4-543h0m2 825h0m1-54h0m3-868h0m1 791h0m0-1003h0m0 1289h0m1-1297h0m1 349h0m0 174h0m1 682h0m1-1309h0m0 511h0m0 254h0m0-211h0m1-286h0m2 555h0m0-822h0m1 973h0m0 115h0m2 145h0m0-931h0m1 47h0m0 839h0m1-526h0m1 363h0m1 202h0m1-215h0m0-342h0m2 258h0m0-340h0m0 564h0m1-231h0m2 242h0m3-328h0m1-425h0m0 254h0m1-11h0m0-138h0m6 439h0m0 429h0m2-1107h0m0 1002h0m1-459h0m2 522h0m1-1038h0m4 774h0m2-473h0m1 241h0m0-317h0m1-442h0m4 1297h0m1-649h0m0 200h0m2 430h0m6 4h0m0-1287h0m0 19h0m7 406h0m1 132h0m0-507h0m1 1009h0m4-772h0m4-203h0m1009 343h0m1-227h0m0 894h0m2-278h0m1-869h0m1 1209h0m2-213h0m0-184h0m1 430h0m3-304h0m1-390h0m0 707h0m2-56h0m0-460h0m1-720h0m1 1283h0m1-309h0m0-832h0m0 696h0m0-265h0m0 233h0m1-532h0m0 81h0m1-284h0m1 842h0m0-144h0m1-284h0m1 520h0m0-328h0m0 522h0m3-387h0m0-344h0m0 704h0m3-261h0m2-914h0m2 734h0"/><path id="d27" d="m922 3089h0m12 259h0m21-245h0m3-957h0m6 1168h0m4-1055h0m0 1179h0m1-808h0m6 294h0m3-404h0m6 767h0m10-583h0m3-94h0m2 817h0m7-1137h0m0 827h0m1-768h0m2 564h0m6-302h0m0 142h0m1-307h0m22-279h0m7 120h0m1 388h0m1 182h0m0-272h0m4 125h0m6-167h0m0 399h0m0 337h0m4-611h0m1 591h0m4-788h0m2 163h0m10-292h0m1 486h0m0-193h0m1 568h0m0-1177h0m7 1073h0m3 327h0m1095-1327h0m9 943h0m1-577h0m0-262h0m2 1161h0m0-1192h0m2 748h0m2 152h0m3 17h0m2-1042h0m8 165h0m1-137h0m3 374h0m4 215h0m2 101h0m3-473h0m2-170h0m4 535h0m0-116h0m9 679h0m5-962h0m3-158h0m1 191h0m6 1076h0m1-170h0m1-514h0m8 4h0m2-470h0m7 961h0m2-146h0m1-269h0m4 239h0m3-960h0m0 1114h0m21-235h0m9-781h0m0 708h0m2-131h0m4 85h0m3 453h0m2-579h0m6 231h0m4-363h0m1-268h0m1 780h0m5 90h0m3-42h0m1-746h0m7 827h0m1-312h0m1 63h0m0-355h0m6 751h0m4-1117h0m1 1108h0m0-776h0m7-65h0m2 917h0m42-962h0m1-173h0m1-43h0m43 1212h0m1-1209h0m0 1187h0m0-1248h0m7 559h0m0-612h0m0 808h0m0 349h0m0-433h0m0-268h0m1-85h0m0 669h0m0-1112h0m1 701h0m6-383h0m0 344h0m0-445h0m1 735h0m0-890h0m0 842h0m0-224h0m1-118h0m0-489h0m5 1284h0m1-1141h0m0 511h0m0-107h0m0-204h0m9 170h0m22-182h0m0 214h0m0-418h0m0 501h0m0-661h0m1 90h0m0 985h0m0-1027h0m0 1117h0m1-832h0m0 725h0m142-400h0m0 484h0m1-1181h0m0 838h0m19-559h0m0 50h0m0 497h0m1-441h0m0-152h0m0 1042h0m0-823h0m0 162h0m1 514h0m0 211h0m6-1012h0m0 881h0m0-372h0m0 249h0m0-538h0m1 745h0m0-704h0m0 465h0m0 137h0m6-123h0m0-887h0m1 19h0m1 239h0m1131 712h0m0-607h0m1 460h0m0-136h0m0 308h0m0 190h0"/><path id="d28" d="m1103 2035h0m1 1391h0m1-177h0m1-779h0m18 394h0m8-409h0m9 101h0m9-186h0m0 29h0m3 550h0m0-374h0m2 429h0m2-896h0m3 513h0m1-599h0m4 490h0m7-206h0m8-265h0m3 464h0m1 692h0m3-1107h0m13 869h0m16-66h0m918-359h0m32 331h0m11-552h0m1 301h0m5-204h0m5-318h0m2 201h0m2 790h0"/><path id="d29" d="m1080 2654h0m10 287h0m3-646h0m0 807h0m4-802h0m0 216h0m2 476h0m2-530h0m2 969h0m3-1073h0m8 412h0m3-696h0m4 556h0m7 497h0m0 302h0m2-533h0m2-206h0m5 647h0m3 72h0m0-254h0m0 273h0m2-1169h0m8-25h0m3 1077h0m0-593h0m3-219h0m3 791h0m2-543h0m4 690h0m5-363h0m0-664h0m10 815h0m6-138h0m6-960h0m11 1047h0m3-637h0m2-495h0m1 27h0m3 172h0m1 449h0m3 514h0m6-233h0m9-913h0m901 436h0m5 598h0m4-736h0m5 274h0m20 477h0m2-379h0m0 398h0m1-557h0m3 843h0m2-982h0m2-219h0m1 713h0m2-544h0m0-8h0m10 935h0m1-259h0"/><path id="d30" d="m1083 2416h0m2-267h0m0 72h0m3 681h0m2 71h0m2-479h0m1 516h0m4-893h0m1 213h0m1 857h0m4-619h0m0 639h0m0-869h0m3 419h0m1-350h0m0 165h0m0 711h0m2-1107h0m0 447h0m1 115h0m0-144h0m3-470h0m0 356h0m1-342h0m1 334h0m1 567h0m1-930h0m0 564h0m0-81h0m0-416h0m0 795h0m1-40h0m0-779h0m0 190h0m0 592h0m3-806h0m0 518h0m1-227h0m1 882h0m1-448h0m0-779h0m1 449h0m1-321h0m1 36h0m0 1044h0m0-505h0m0 368h0m0-118h0m2-953h0m0 982h0m0-261h0m1 352h0m2-528h0m4-175h0m0 456h0m1-644h0m0-221h0m1 886h0m0-825h0m1-61h0m0 280h0m3 714h0m0-934h0m0 988h0m1-768h0m1 997h0m0 52h0m1-15h0m0-1226h0m1 805h0m1-720h0m0 285h0m0 528h0m1-371h0m0 213h0m1 94h0m0-245h0m1-413h0m0 814h0m1 223h0m0-1290h0m0 39h0m1 726h0m1-364h0m1 873h0m0-1094h0m2 312h0m0-357h0m0 897h0m1-1015h0m0 205h0m3-151h0m0 1003h0m1-923h0m2 692h0m2-775h0m0 167h0m1 281h0m1 570h0m0-382h0m1-661h0m0 1107h0m3-521h0m1 18h0m0-11h0m1-70h0m0 560h0m3-319h0m0-630h0m1 220h0m1 939h0m0-171h0m1 35h0m0-48h0m3-768h0m2 0h0m0-58h0m9 390h0m1 31h0m0-523h0m3-175h0m8 619h0m1-222h0m0-31h0m1 88h0m0 849h0m5-636h0m0 156h0m4 403h0m8-1195h0m2-21h0m1 878h0m0-305h0m1-382h0m0-197h0m906 306h0m1 242h0m2 469h0m0-93h0m3 186h0m0-768h0m1 950h0m4 28h0m1-1295h0m2-16h0m0 807h0m2-319h0m1-23h0m1 744h0m4-921h0m1 1010h0m1-37h0m1-1286h0m1 671h0m0 301h0m0-607h0m0-245h0m4 705h0m0 277h0m1-831h0m0 485h0m1 209h0m0 308h0m0-148h0m2-852h0m1 144h0m0 356h0m1-25h0m0-249h0m1-212h0m1 184h0m0 181h0m1 80h0m2 385h0m2 10h0m2-44h0m0-449h0m2-38h0m0 44h0m1 93h0m1 224h0m2-287h0m1 591h0m0-1149h0m0-129h0m1 732h0m1-190h0m0-251h0m3-316h0m0 1149h0"/><path id="d31" d="m1087 2339h0m6-71h0m3 136h0m2 234h0m1 60h0m1-607h0m10 667h0m2 476h0m2-82h0m1-167h0m4-945h0m1 123h0m1 850h0m1-292h0m2-62h0m2-513h0m1 226h0m6 793h0m1-294h0m1 432h0m1-569h0m0 589h0m0-235h0m5-155h0m1 267h0m3 33h0m2-1148h0m5 817h0m1 3h0m7-459h0m0 106h0m1-324h0m4 1189h0m3-6h0m1-540h0m1-49h0m2 606h0m4-396h0m12-719h0m0 653h0m2 18h0m1 151h0m2-924h0m8 158h0m3 962h0m0-547h0m11-580h0m2 514h0m2-231h0m2 433h0m914 214h0m6-207h0m7 206h0m1 258h0m1 42h0m9-255h0m0-859h0m1 1074h0m2-34h0m4 16h0m2-98h0m1-591h0m2-650h0m1 683h0m0-616h0m5 740h0m3 111h0m0-557h0m0 627h0m0-245h0m5 95h0"/><path id="d32" d="m1105 2788h0m1-299h0m5 242h0m4-115h0m3 764h0m2-676h0m2 514h0m15-884h0m37 163h0m2 847h0m12-574h0m3 521h0m17-685h0m13-456h0m908 588h0m23-131h0m6-311h0m22-248h0m4 689h0m7 410h0"/><path id="d33" d="m1056 2501h0m1 558h0m5 134h0m3-751h0m1 271h0m1-146h0m2 389h0m2-907h0m8 155h0m0 855h0m2 253h0m0-323h0m1-826h0m1 884h0m1-757h0m7 247h0m8 851h0m0-133h0m1 111h0m2-1136h0m4 262h0m5 840h0m10-541h0m2-64h0m9-356h0m3 49h0m1 161h0m2 749h0m4-230h0m9-85h0m6-321h0m1009-587h0m5 1065h0m7-349h0m0-354h0m6 168h0m1 511h0m4 195h0m0-1108h0m7 22h0"/><path id="d34" d="m921 3306h0m0-529h0m1 648h0m10-832h0m0 810h0m20-664h0m0 106h0m1-10h0m1-308h0m0 673h0m1-318h0m0-401h0m1-182h0m8 901h0m0-302h0m2-651h0m0 1043h0m1-891h0m1 922h0m6 74h0m1-889h0m0-467h0m1 1256h0m2-1027h0m0 459h0m0 72h0m1-711h0m7 269h0m1 672h0m1 190h0m1-473h0m6-244h0m10 570h0m2-600h0m1-345h0m1-50h0m6 1021h0m2 27h0m0-220h0m1-53h0m1 83h0m1-263h0m5 215h0m0 332h0m3 216h0m10-429h0m1-293h0m7 200h0m1-636h0m2 215h0m7 874h0m0-1041h0m0 894h0m2-420h0m0 262h0m0-611h0m2-20h0m2-197h0m0 58h0m3 38h0m1-224h0m1 689h0m2-413h0m3-63h0m5 790h0m2-824h0m9 939h0m0-479h0m4 602h0m0-310h0m1095 193h0m0-362h0m0-661h0m6 769h0m0-419h0m1 356h0m2-478h0m3 149h0m1-368h0m0 544h0m1 608h0m2-315h0m2-757h0m1 1034h0m3-237h0m1-571h0m1 725h0m0-292h0m2-655h0m0 269h0m0 828h0m1-384h0m1 284h0m7-486h0m2 404h0m3-7h0m0-172h0m1-272h0m1-617h0m0 1230h0m4-1239h0m4-88h0m8 1173h0m1-599h0m2-514h0m2 363h0m1 586h0m4-103h0m2 135h0m1 97h0m2 49h0m7 97h0m2-1272h0m1 752h0m3-566h0m1 433h0m0 21h0m3-15h0m2 316h0m3-482h0m1-286h0m0 111h0m1-258h0m2 1083h0m2-1098h0m1 420h0m11-104h0m1 786h0m5-345h0m1-163h0m8 327h0m3-302h0m1-163h0m4 906h0m5-335h0m1-408h0m0-145h0m4-487h0m3 1230h0m0-83h0m3-365h0m1 81h0m4 439h0m3-869h0m2 59h0m9 576h0m0-478h0m1-29h0m7-506h0m2 874h0m5-170h0m1-508h0m0 300h0m0-434h0m0 794h0m1-340h0m0-392h0m1 91h0m0 5h0m1 456h0m0-669h0m0 1242h0m0-444h0m1 436h0m42-1323h0m1 824h0m43-268h0m0 129h0m0-12h0m0 677h0m0-1260h0m0 1072h0m1-457h0m0-340h0m0 715h0m0-176h0m0-56h0m7 474h0m1-1116h0m0 298h0m0 361h0m0 293h0m0-12h0m0-1025h0m1-34h0m6 367h0m0-147h0m0 442h0m0 199h0m1 364h0m0-793h0m0 849h0m0-906h0m0 532h0m6-464h0m0 68h0m1 118h0m0-340h0m0-65h0m8 219h0m23-79h0m0 25h0m0 198h0m0-208h0m1 694h0m0-335h0m0-582h0m0 1049h0m0-118h0m0-574h0m143 597h0m0-134h0m0-650h0m0 801h0m0-161h0m0-630h0m1-165h0m0 182h0m0 101h0m1 387h0m0-718h0m18-93h0m0 562h0m0-545h0m0 709h0m1 257h0m0-391h0m0 401h0m7-729h0m0 781h0m0 226h0m0-409h0m0-488h0m1-11h0m0 458h0m0-161h0m0-523h0m1 1092h0m0-1180h0m5 436h0m0 445h0m0-277h0m0-9h0m1 50h0m0 162h0m0-691h0m0 858h0m1132-841h0m0-181h0m0 61h0m1 269h0m0 832h0m0 46h0m0-869h0m0-81h0m0 972h0m0-543h0m0-341h0m0-337h0m0 794h0m0-300h0m1 698h0m0-520h0m0-689h0"/><path id="d35" d="m1060 3352h0m2-1136h0m4 602h0m7 520h0m2-439h0m1-593h0m2 1036h0m0 17h0m13-1082h0m17-51h0m8-170h0m2 825h0m3-218h0m10 48h0m26 626h0m1011-20h0m14-795h0m11-384h0"/><path id="d36" d="m908 3270h0m27-1232h0m19 255h0m2 580h0m2-556h0m39-54h0m41 162h0m0 159h0m23 105h0m29 375h0m0-189h0m1101-719h0m13 834h0m11-837h0m4 1253h0m12-490h0m28-646h0m65 605h0m2-734h0m1 921h0m7-383h0m2-547h0m27 446h0m12 259h0m90-142h0m198 256h0m22 146h0m6-822h0m0-109h0"/><path id="d37" d="m922 3139h0m0 67h0m11-42h0m18-407h0m0 240h0m0-544h0m1 692h0m0-556h0m0 46h0m1 415h0m1 131h0m4-237h0m1-281h0m0 450h0m5 289h0m4-1242h0m0 702h0m1-56h0m5-263h0m2 595h0m1 92h0m7-1099h0m1 678h0m2 417h0m2-841h0m6-250h0m1 230h0m8-127h0m1 83h0m2 849h0m8-626h0m1-328h0m2 755h0m9-184h0m0 495h0m1-57h0m1 146h0m0-598h0m19 524h0m3 68h0m4-898h0m3 820h0m0-142h0m1-434h0m1 163h0m8-397h0m1 726h0m0-639h0m8-37h0m1 755h0m3 51h0m0-664h0m5-135h0m2 76h0m1099-314h0m6 398h0m0 111h0m1 41h0m2-345h0m0-448h0m4 1263h0m0-385h0m4 51h0m1-258h0m0-649h0m1 269h0m2 252h0m2 569h0m1-984h0m1-129h0m6 465h0m1 709h0m3-583h0m7 728h0m2-695h0m2 214h0m0-543h0m1 561h0m0 188h0m7-39h0m9 69h0m5-1031h0m4 6h0m10 1247h0m1-199h0m3 136h0m1-923h0m0 539h0m2-816h0m0 1150h0m10-145h0m2-347h0m6 141h0m12-153h0m11-331h0m1 896h0m0-993h0m5 481h0m1-266h0m1 577h0m1 247h0m0 38h0m7-985h0m1 509h0m1-120h0m0 392h0m0-60h0m1 229h0m0-375h0m7-101h0m5 124h0m0 415h0m10-447h0m1-766h0m6 676h0m2 503h0m0-762h0m1-384h0m9 536h0m8 269h0m34-690h0m46 135h0m0 442h0m0 396h0m0-711h0m7-336h0m0-223h0m1 1300h0m0-146h0m1-1108h0m0 129h0m6 705h0m0-731h0m0 487h0m1 729h0m0-546h0m0-535h0m6-212h0m0 769h0m1-461h0m0 515h0m1-670h0m0-8h0m31 453h0m0 695h0m0-786h0m143 773h0m0-1297h0m0 1263h0m0-36h0m1-259h0m0-18h0m19-937h0m1 663h0m1-478h0m6 729h0m0-212h0m0-393h0m0 52h0m1 598h0m6-749h0m1 615h0m0-325h0m0-17h0m0 132h0m0-621h0m1 536h0m0-520h0m0 62h0m1131 68h0m1-225h0m0 284h0m0 771h0m0 344h0m0-869h0m0-186h0m0 6h0m1 413h0m0-667h0"/><path id="d38" d="m955 2167h0m12 781h0m8 389h0m4-1242h0m9 789h0m1-404h0m77 55h0m2-508h0m1160 956h0m5-48h0m13-563h0m10 430h0m9-143h0m5-345h0m3 987h0m3 48h0m3-562h0m7-690h0m33 814h0m24 327h0m13-263h0m1 274h0m22 169h0m7-176h0m79 121h0m219 77h0"/><path id="d39" d="m1099 3208h0m4-242h0m2-707h0m2 331h0m0 698h0m4-701h0m4-335h0m5 658h0m0-622h0m3 19h0m0 667h0m0-867h0m1 1156h0m1-910h0m7-175h0m3 374h0m0 401h0m22 176h0m12-533h0m1-174h0m0-330h0m2 27h0m2 175h0m7 175h0m19 663h0m5-571h0m940-67h0m2 774h0m16-154h0m4-780h0m2-134h0m11 629h0m3-404h0m0-254h0m2 483h0"/><path id="d40" d="m1089 2873h0m1-329h0m1-43h0m2 756h0m2 78h0m0-289h0m3-44h0m1 82h0m3-129h0m5 432h0m4-76h0m1-643h0m1-111h0m1 777h0m0-425h0m0 397h0m0-932h0m5 1008h0m1-646h0m0-325h0m0 579h0m2-834h0m1 519h0m0-120h0m0 16h0m2 190h0m2-701h0m0 355h0m2 951h0m1-135h0m1-1158h0m2 907h0m1 251h0m3-484h0m1 194h0m1-81h0m4 573h0m1-294h0m1-1082h0m2 280h0m0 507h0m1 191h0m0-978h0m0 55h0m0 1098h0m1-131h0m0-301h0m0-591h0m1 1204h0m1-1327h0m1 532h0m0-56h0m1-13h0m0 524h0m0-571h0m1 135h0m1-289h0m7 660h0m1 239h0m1-71h0m3-973h0m0 961h0m1-552h0m1 379h0m1-56h0m1 312h0m3-934h0m1 173h0m2 533h0m0-649h0m2 1010h0m0-1274h0m1 1082h0m1-187h0m1 352h0m2-726h0m0 634h0m5-500h0m2 142h0m2 143h0m3-225h0m0 589h0m0-511h0m4-59h0m2 152h0m3-569h0m21 787h0m1-261h0m9-13h0m3-794h0m884 277h0m1 1009h0m9 30h0m12-1292h0m9 702h0m0-512h0m4 107h0m0 279h0m2-644h0m1 158h0m3 327h0m0 83h0m2-614h0m2 593h0m2 187h0m1 488h0m1-70h0m1-912h0m0 788h0m0 321h0m1-1044h0m1 29h0m1 831h0m1-310h0m0-452h0m1 927h0m2-497h0m2-585h0m1 816h0m1-590h0m2 866h0m0-345h0m1 32h0m1-600h0m0 553h0m1-344h0m0-20h0m3 241h0m0 290h0"/><path id="d41" d="m952 2984h0m0 171h0m6 198h0m6-371h0m4 292h0m1-921h0m15-122h0m3 662h0m1 518h0m0-1353h0m11 1110h0m5-182h0m0-435h0m0 208h0m14-15h0m7-93h0m1 211h0m13 37h0m11 504h0m30-302h0m11-942h0m1140 567h0m25-241h0m3-69h0m18 579h0m2-487h0m7 742h0m31-1175h0m18 1007h0m1-793h0m7 514h0m0-576h0m4 287h0m1-161h0m15 614h0m109-282h0m1-361h0m14 1097h0m0-300h0m1 10h0m176-817h0m0 1005h0m20-559h0m0 8h0m0-515h0m7 632h0m8-307h0m0 82h0m1-9h0"/><path id="d42" d="m1101 2427h0m2 837h0m1-661h0m0 263h0m2-445h0m4 217h0m4 532h0m1-157h0m2 163h0m0 89h0m1-321h0m5 471h0m0-1225h0m3 1185h0m1-1263h0m5 602h0m11-492h0m3 314h0m4-251h0m1 1001h0m0-146h0m5-898h0m0 1108h0m1-756h0m6 282h0m2-628h0m8 480h0m8-217h0m1 841h0m3-458h0m15-857h0m1 1182h0m30-822h0m920 599h0m8-453h0m1 63h0m1 541h0m5-856h0m5 1137h0m8-834h0m1 763h0m5-135h0m1-589h0m2 354h0"/><path id="d43" d="m1064 3027h0m3 168h0m1-611h0m3 126h0m3-424h0m3 553h0m2-78h0m4-303h0m1 833h0m1-25h0m4-183h0m2-611h0m1-21h0m0 977h0m3-1196h0m3 819h0m1-968h0m3 856h0m1-36h0m2-589h0m4-276h0m13 116h0m1 414h0m4-226h0m2 314h0m27-15h0m0 344h0m3-764h0m1025 577h0m1 107h0m3-516h0m0 38h0m0 82h0m1 166h0m5 118h0m4 575h0"/><path id="d44" d="m893 2808h0m17-606h0m10 1212h0m31-847h0m0-291h0m1 371h0m2 696h0m0-183h0m0-1021h0m2 1150h0m10-962h0m0 677h0m10 327h0m2-72h0m0 115h0m0-334h0m6-610h0m1 723h0m1-858h0m3 501h0m6 145h0m3 456h0m1-46h0m5-1295h0m1 812h0m10 251h0m2-49h0m1-299h0m0-362h0m7 383h0m13-528h0m0 482h0m1 295h0m6 242h0m2-330h0m1-646h0m0 1079h0m1-627h0m1 126h0m0-711h0m1 1262h0m1-1209h0m7-126h0m6 1194h0m11-51h0m0-212h0m2-37h0m3-701h0m9 717h0m1092-482h0m1 498h0m8-44h0m3-315h0m1 164h0m1 52h0m3 419h0m1-1273h0m1 1353h0m2-829h0m7-457h0m2 1134h0m3-733h0m6-124h0m1-332h0m1 140h0m1 886h0m1-829h0m3 891h0m2-826h0m1 568h0m2-309h0m6 90h0m4 337h0m0-307h0m5-529h0m3-68h0m4 1295h0m2-755h0m3 780h0m1-1247h0m13 405h0m1 104h0m4-613h0m3 789h0m4 225h0m1-681h0m9 169h0m0 833h0m18-186h0m0-478h0m0-166h0m22 164h0m3 280h0m4 251h0m4-143h0m1-1001h0m0 369h0m1-223h0m17 641h0m4 371h0m5-553h0m44 52h0m45 362h0m0-84h0m1 325h0m0-1140h0m1 18h0m6 618h0m1-238h0m0-54h0m0 333h0m0 110h0m0 40h0m1-706h0m6-281h0m0 173h0m0 104h0m1 388h0m0 325h0m0-940h0m6 711h0m0 101h0m1 292h0m31 28h0m0-1100h0m1 322h0m0-144h0m0 103h0m1 537h0m142-459h0m0 387h0m0 435h0m0-1207h0m0 266h0m1 459h0m0-60h0m0 92h0m0-693h0m0 617h0m0 485h0m1-31h0m18-284h0m0-565h0m0 845h0m1-594h0m0-277h0m7 633h0m0-519h0m0 546h0m1 393h0m0-1227h0m6-120h0m1 941h0m0-472h0m1-178h0m0-110h0m1131 662h0m1-113h0"/><path id="d45" d="m1055 2236h0m6 330h0m0 254h0m2 421h0m0-27h0m7-692h0m0 374h0m1-754h0m3 246h0m5 1045h0m3-308h0m1-118h0m12-901h0m2 265h0m3 164h0m1-246h0m4 441h0m2-410h0m0 1067h0m2-866h0m2 437h0m4-83h0m0 256h0m6 287h0m3-661h0m2-33h0m5 21h0m13 63h0m1-569h0m19 218h0m1004 261h0m3-650h0m0 1136h0m3-1163h0m5 1046h0m4-759h0m4 915h0m6-1078h0m0 274h0m1 416h0m1-279h0m1 36h0m1 650h0"/><path id="d46" d="m911 3413h0m1-679h0m7-196h0m14 714h0m19-47h0m4-595h0m0 350h0m9 138h0m2-830h0m0 224h0m1 618h0m7 163h0m3 109h0m10-571h0m0 496h0m8-915h0m2 565h0m8-267h0m1-605h0m0 804h0m8 267h0m11-683h0m2-316h0m0 558h0m0 232h0m10 392h0m11 14h0m6-112h0m3-1149h0m2 253h0m2 1006h0m0-613h0m6 321h0m2 302h0m11-598h0m1 166h0m7-10h0m1107-818h0m4 147h0m10 521h0m1-479h0m2 535h0m0-391h0m2 320h0m3 91h0m0-729h0m2 970h0m3-273h0m7-199h0m3 332h0m9-483h0m1 24h0m2 336h0m11-318h0m3-442h0m1 976h0m4-366h0m10-135h0m1 381h0m7-475h0m1 545h0m1-655h0m1 909h0m1-58h0m1 111h0m0-611h0m7 48h0m1 410h0m10-973h0m1 1101h0m1-980h0m7-16h0m1 975h0m1-1197h0m9 141h0m2 672h0m6 449h0m0 10h0m4-565h0m1 202h0m1-10h0m0 210h0m1-1127h0m3 332h0m0 855h0m5-160h0m11-855h0m0 153h0m4 331h0m1-592h0m1 826h0m54-475h0m1-176h0m44 178h0m1-20h0m1 406h0m0-352h0m6 589h0m0-1046h0m0 1257h0m1-556h0m0 73h0m0 625h0m1-965h0m6 736h0m1-38h0m0-945h0m1 880h0m0-575h0m5-335h0m1 827h0m0-155h0m0-83h0m9 16h0m22-404h0m0 987h0m1-586h0m0-652h0m0 796h0m0-529h0m143 602h0m0-920h0m0 1112h0m1-518h0m19 511h0m0-297h0m0-247h0m0 528h0m8 128h0m0-1214h0m0 1315h0m0-768h0m0 714h0m1-1281h0m0 799h0m0-249h0m0-243h0m6 711h0m1 348h0m0-111h0m1-192h0m0-647h0m5 97h0m1-417h0m0 736h0m1125-435h0m0 955h0"/><path id="d47" d="m952 2581h0m0 310h0m3-114h0m1-690h0m1 850h0m1 56h0m6 133h0m2-397h0m0-183h0m0-213h0m0 190h0m0 617h0m0 84h0m3-942h0m5 1039h0m0-923h0m2 117h0m1 454h0m0-407h0m1-248h0m6 719h0m1-498h0m0-312h0m1 291h0m0 631h0m1 19h0m0-329h0m1-124h0m0 10h0m0 126h0m1-598h0m5 1142h0m0-156h0m2 57h0m2-737h0m0-238h0m6 824h0m3-534h0m0-471h0m0 643h0m0-425h0m1-192h0m7 491h0m1-618h0m1 490h0m0-274h0m0 532h0m1 461h0m1-677h0m0 310h0m0 534h0m1-1347h0m5 1207h0m0-1217h0m1 141h0m1 1215h0m0-1296h0m2 258h0m0 768h0m0-136h0m0-175h0m10 327h0m7-798h0m1 851h0m2-999h0m1-131h0m0 1264h0m1-1071h0m4 376h0m2 793h0m2-1391h0m0 437h0m2-229h0m1 837h0m4-885h0m0-150h0m0 117h0m3 553h0m1 261h0m0-157h0m2-419h0m4-231h0m1 596h0m1-635h0m9 618h0m2-730h0m0 56h0m1095 965h0m4-920h0m6 213h0m2 888h0m0-876h0m1 601h0m2-330h0m1 505h0m0-313h0m0 198h0m3-515h0m5-373h0m1 648h0m1 367h0m2-246h0m1-42h0m0-544h0m1-4h0m1 714h0m4-767h0m1 375h0m0 499h0m1-996h0m0 164h0m1 686h0m1-768h0m7 302h0m2 437h0m1-318h0m9 609h0m3-102h0m0-807h0m1 1021h0m1-1004h0m1-325h0m0 849h0m1-322h0m0-368h0m1 57h0m5 347h0m1 314h0m1-288h0m1-539h0m1 250h0m0 718h0m0 9h0m1-380h0m0 179h0m5 409h0m0 152h0m0-1165h0m1 905h0m1-912h0m1 557h0m1-750h0m0 699h0m1 194h0m4 272h0m0-936h0m1 58h0m2 817h0m0-846h0m1 792h0m5-356h0m3-553h0m0-13h0m1 1216h0m1-615h0m0 49h0m0 199h0m1-673h0m10-26h0m1-86h0m7 1097h0m5-131h0m2-690h0m9 489h0m0-826h0m2 372h0m1-420h0m2 526h0m1 661h0m6-432h0m2-409h0m1 294h0m15-314h0m1-352h0m2 115h0m0 159h0m1 1042h0m0-34h0m0-840h0m1 366h0m5-873h0m0 1030h0m2 241h0m0-100h0m1-576h0m1 287h0m0-667h0m2-229h0m4 173h0m1-92h0m3 627h0m2-672h0m41 1362h0m1-1304h0m43 237h0m0 9h0m1-17h0m16 411h0m6-286h0m10-122h0m0-265h0m23 746h0m143 326h0m1-807h0m0 81h0m28-121h0m0 860h0m0 27h0m1139 76h0"/><path id="d48" d="m1050 2787h0m2-69h0m3 437h0m0-1084h0m3 469h0m1-449h0m0 108h0m1 949h0m1-182h0m2 402h0m0-946h0m2 946h0m1-709h0m1 490h0m3-142h0m0-17h0m1 14h0m0 43h0m3 376h0m0-1023h0m1 334h0m1-501h0m0 351h0m0 368h0m4-760h0m1 210h0m0 532h0m3-223h0m0 31h0m1-420h0m0 167h0m1 857h0m0-378h0m3 183h0m0-721h0m2 793h0m0-915h0m0 222h0m3 412h0m1 433h0m2-1142h0m1 464h0m1 296h0m1-966h0m1 1178h0m1 234h0m1-889h0m2-426h0m1 890h0m2-13h0m1 304h0m4-195h0m1-412h0m1 279h0m0-660h0m1 438h0m5 675h0m4-738h0m2-335h0m0 818h0m1-1152h0m3 1281h0m1-631h0m5-460h0m0-38h0m6-118h0m8 813h0m0 134h0m4 43h0m3 194h0m1010 188h0m3-1214h0m2 330h0m0-84h0m4 914h0m1-892h0m2 210h0m1 496h0m2-1085h0m1 885h0m4-461h0m1 867h0m1-305h0m0 190h0m1-110h0m2-584h0m0-464h0m3 633h0m1 629h0m1-305h0"/><path id="d49" d="m922 2165h0m9 52h0m2-110h0m18 1281h0m4-1133h0m1 764h0m1-860h0m8 902h0m3 62h0m7-632h0m13 163h0m1-309h0m8 640h0m1 210h0m0-438h0m7-447h0m3-110h0m7 716h0m1 97h0m1-87h0m2-279h0m8-409h0m0 850h0m2-106h0m9-182h0m7-692h0m3 1281h0m1-639h0m6 85h0m5 276h0m8-824h0m1 635h0m1-391h0m0-300h0m1 654h0m1-209h0m6 628h0m1-97h0m7 184h0m11-862h0m1085 550h0m21 140h0m7-731h0m5 475h0m0 304h0m4-900h0m2 994h0m2 29h0m9-964h0m14 676h0m6 168h0m4-269h0m1-488h0m1 194h0m2 446h0m0 167h0m5-314h0m0-157h0m3-491h0m1 848h0m1-24h0m0-563h0m4 579h0m1-992h0m2 701h0m8-28h0m3-770h0m0 826h0m11-447h0m2 242h0m12 168h0m5 297h0m0-520h0m16-215h0m3 103h0m2 57h0m5 154h0m3 556h0m7-1018h0m12 225h0m8-21h0m2 617h0m2-183h0m2-636h0m39 505h0m0-758h0m2 872h0m43-168h0m0-87h0m0 394h0m0-968h0m1-10h0m0 1239h0m8-164h0m1-413h0m6-383h0m0-196h0m0 757h0m0 109h0m1-807h0m1 489h0m0 47h0m5-177h0m1-369h0m0 808h0m0-943h0m0 422h0m0 763h0m0-1166h0m9 1218h0m22-209h0m1-170h0m0-702h0m0-46h0m0 811h0m0 8h0m0-800h0m0 662h0m0-118h0m143-515h0m0-130h0m1 489h0m19 696h0m1-257h0m0-40h0m0 392h0m0-485h0m0 496h0m7-461h0m1-44h0m0-651h0m0 426h0m6-625h0m1 308h0m1 470h0m1132-640h0m0 1005h0m0 190h0"/><path id="d50" d="m1108 3395h0m2-684h0m2 37h0m24 389h0m3-511h0m36 695h0m35-260h0m931-769h0m3 297h0m5 565h0m8-681h0m2-79h0m9 837h0m3-346h0m7 485h0"/><path id="d51" d="m921 2385h0m30 362h0m1 374h0m4 12h0m0-689h0m2-344h0m6 1205h0m1-59h0m0-713h0m19 725h0m10-222h0m4 23h0m0-711h0m0 461h0m8 217h0m0 155h0m3 48h0m18-810h0m1 112h0m1 829h0m0-152h0m10-602h0m8 521h0m3-286h0m8-416h0m1 699h0m0-367h0m2 320h0m29-354h0m0 453h0m1106-179h0m1-859h0m14 1103h0m1-552h0m0-418h0m1-8h0m2 730h0m13-937h0m1 676h0m19 563h0m0 107h0m1-1240h0m1 875h0m11-205h0m3-709h0m1 80h0m1 832h0m0-57h0m1-215h0m7-668h0m4 159h0m1-35h0m3 416h0m5 403h0m18-932h0m13 62h0m0-66h0m4 1047h0m7-947h0m15 560h0m3 551h0m7-246h0m1-767h0m1 560h0m3-263h0m4 817h0m5-818h0m1 122h0m1 577h0m3-1008h0m3 340h0m1 352h0m3-234h0m7 301h0m32-407h0m1-439h0m1 401h0m44-281h0m8 719h0m8-403h0m0 471h0m0-72h0m6 17h0m11-108h0m21-856h0m1 284h0m164 240h0m14 89h0m1 669h0m0-354h0m7 391h0"/><path id="d52" d="m1053 3430h0m17-1265h0m1 1037h0m2-1030h0m7 1219h0m12-1318h0m9 85h0m4 624h0m10 607h0m7-1h0m1052-1179h0m6 621h0m4-643h0m0 835h0"/><path id="d53" d="m1098 3421h0m1-95h0m3-944h0m15 564h0m15-504h0m1 881h0m4-187h0m3-659h0m3-344h0m21 888h0m36 142h0m32-846h0m933 1056h0m0-599h0m12 106h0m0-856h0m1 726h0m6 123h0"/><path id="d54" d="m1052 2673h0m6-62h0m13-515h0m1 480h0m1-315h0m1 1152h0m0-1006h0m4 262h0m3 165h0m2-163h0m1 741h0m2-102h0m0-866h0m1 704h0m2-797h0m10 961h0m1-600h0m1-25h0m0 524h0m2 131h0m2-356h0m1-622h0m2 565h0m0 132h0m6-692h0m0 825h0m3-967h0m1 538h0m7 573h0m4-1147h0m3 898h0m0-949h0m20 654h0m1012 454h0m1-1034h0m1 79h0m1 389h0m5 608h0m2-148h0m2 163h0m3-669h0m5-447h0m2 621h0m3 602h0m2-394h0m6-683h0m1 585h0"/><path id="d55" d="m910 2599h0m1-166h0m0 54h0m23 846h0m17-937h0m0 383h0m0-264h0m2-177h0m0 879h0m11-756h0m5 183h0m7-498h0m2 842h0m7-425h0m4 515h0m0 32h0m5-338h0m3-527h0m0 471h0m0-113h0m12-111h0m0 817h0m7-934h0m1 435h0m0 459h0m1-798h0m1 832h0m6-493h0m0 434h0m1-986h0m0 613h0m0 423h0m0-1050h0m2 796h0m0 42h0m18 225h0m0-892h0m2-21h0m2 758h0m1-1026h0m7 1274h0m1-392h0m0-605h0m1 164h0m1 161h0m5 299h0m2-122h0m1 77h0m1 105h0m8-180h0m1116-451h0m6 320h0m2 462h0m1 138h0m7-432h0m10 84h0m1-116h0m11-227h0m15-156h0m0 291h0m0 168h0m1-716h0m2 383h0m0 261h0m1 322h0m1-1030h0m0 646h0m9-713h0m5 1058h0m1 195h0m1-973h0m2 859h0m4 41h0m1-255h0m10 244h0m1-428h0m1-341h0m0 249h0m7 235h0m5-632h0m2 715h0m13-935h0m0 215h0m1 77h0m1-349h0m1 945h0m7-132h0m1-511h0m2 1001h0m0-847h0m1 164h0m7 570h0m0-836h0m8 876h0m0-550h0m1-307h0m1 348h0m1-494h0m1 645h0m0 429h0m1-879h0m17 883h0m4-526h0m8 411h0m1-1041h0m41 346h0m1-56h0m1 156h0m0-596h0m43 221h0m0 865h0m0-18h0m1-971h0m0-146h0m0 964h0m0-121h0m0-717h0m7 399h0m1-228h0m0 430h0m7-587h0m1-180h0m0 442h0m6-21h0m0 130h0m1-359h0m0 1069h0m0-502h0m31 430h0m0-259h0m0-81h0m0 387h0m1-84h0m0-108h0m0-859h0m0 304h0m1-225h0m142 466h0m0-727h0m1 787h0m0-159h0m0 526h0m0 21h0m0-313h0m0-798h0m0 816h0m0-799h0m19 821h0m0-705h0m1 678h0m0-669h0m0 338h0m0-371h0m8 940h0m7-589h0m0 599h0m1-648h0m0-277h0m0-76h0m6 722h0m1126 257h0m0 108h0m0-967h0m1-96h0"/><path id="d56" d="m1090 3215h0m5-1136h0m5 527h0m1-314h0m35 496h0m13-167h0m3 138h0m2-517h0m2 86h0m1 389h0m7 40h0m33 617h0m20-1185h0m935 150h0m36 133h0"/><path id="d57" d="m1060 2207h0m9 82h0m0-2h0m1 441h0m5 603h0m1-964h0m1 818h0m0-149h0m5-38h0m7-28h0m5-241h0m4 678h0m1-826h0m4 518h0m2-380h0m11-68h0m5 327h0m14-91h0m11-566h0m1034-289h0m2 777h0m6-351h0m8-419h0"/><path id="d58" d="m1090 2774h0m2-649h0m4-94h0m1 419h0m0-81h0m2 943h0m1-31h0m6-394h0m1-364h0m0 820h0m1-218h0m2-721h0m1-256h0m1 498h0m1-584h0m0 1306h0m1-1044h0m2 509h0m1-804h0m3 640h0m1 311h0m5 195h0m1-1038h0m0 138h0m1 44h0m5 188h0m4-152h0m3-153h0m1 482h0m4 679h0m1-193h0m1-1020h0m1 261h0m2 837h0m3-1046h0m1 304h0m2-188h0m2 367h0m1 736h0m4-253h0m0-359h0m2-185h0m0 151h0m2 554h0m1-294h0m0-201h0m1 34h0m3 36h0m2 35h0m7-742h0m1 503h0m1-222h0m1-260h0m1 74h0m3 835h0m1-793h0m0 220h0m1 611h0m1 59h0m2-210h0m1-795h0m7 709h0m13-591h0m1 452h0m14-751h0m901 345h0m2 525h0m6-287h0m4 182h0m1 600h0m1-1136h0m0 183h0m2 487h0m6-666h0m5 1080h0m7-625h0m2-248h0m1 500h0m5 215h0m1-552h0m1-529h0m3 48h0m1 478h0m2 267h0m1 353h0m3-981h0m0 415h0m1-436h0m1 926h0m2-1022h0m1 272h0"/><path id="d59" d="m1094 2373h0m7 675h0m4-239h0m3-332h0m6 325h0m0-245h0m0 98h0m6 346h0m2-503h0m1-460h0m2 1319h0m1-1018h0m8 455h0m0 56h0m0-538h0m4 544h0m6-287h0m0 236h0m1-729h0m0 1049h0m1 73h0m4-344h0m5-802h0m12 513h0m1 768h0m2-410h0m4 421h0m11-947h0m11 1017h0m8-216h0m16-226h0m15-366h0m897 35h0m2-266h0m1-117h0m11 779h0m7-342h0m4 65h0m7-275h0m0 718h0m4-989h0m6 879h0m0-485h0m8 74h0m2-215h0m2 291h0m0 651h0"/><path id="d60" d="m920 2302h0m14-236h0m17 470h0m0-457h0m1 849h0m1 450h0m1-803h0m0 103h0m0 564h0m0 93h0m0-476h0m2-366h0m0-61h0m1-350h0m1 1234h0m6-1179h0m1 483h0m0 311h0m2-713h0m7 82h0m0-107h0m0 190h0m1 551h0m0-495h0m1-380h0m8 934h0m1-74h0m0-370h0m2 142h0m1-424h0m1 359h0m8 299h0m2 259h0m5-244h0m2-892h0m0 22h0m8 635h0m2 685h0m1-211h0m1 19h0m7-1065h0m1 563h0m1-113h0m11 145h0m0-245h0m0 471h0m0-768h0m1-83h0m6 907h0m1-974h0m1 1387h0m3-1357h0m9 1355h0m2-493h0m1 320h0m4-274h0m3-12h0m0 247h0m2 33h0m6 189h0m1-710h0m0-58h0m0-92h0m4-26h0m8 392h0m1096-205h0m8 474h0m0-665h0m9-298h0m2 766h0m1-173h0m9-499h0m0 976h0m3-1028h0m1 394h0m1-150h0m4 34h0m4-222h0m0 362h0m4-575h0m0 1037h0m6-685h0m4-101h0m1 979h0m3-356h0m3-65h0m1 347h0m6-39h0m0 68h0m1-392h0m3-429h0m4 78h0m2 815h0m4-1229h0m7 31h0m2-143h0m0 1346h0m0-1055h0m3-17h0m1 359h0m0-467h0m1-45h0m2 893h0m8-724h0m1-214h0m11 516h0m8 162h0m1 355h0m2-803h0m0 419h0m1 174h0m0-912h0m1 616h0m7 234h0m1 327h0m1-835h0m0-270h0m6 538h0m0-563h0m3 611h0m1-190h0m0 338h0m8 83h0m3 240h0m1-28h0m0-733h0m5-230h0m1 557h0m3-458h0m0 955h0m4 220h0m2-640h0m4-283h0m6-270h0m3 750h0m0-203h0m0-631h0m1 14h0m0 665h0m7-604h0m33 165h0m1 273h0m1-500h0m43 200h0m0 36h0m1 46h0m0 264h0m0 600h0m7-992h0m0 734h0m1-77h0m0-352h0m0-494h0m7 269h0m1-281h0m0-70h0m0 1169h0m1-377h0m5 382h0m0-148h0m0-271h0m1 134h0m0 18h0m0-168h0m0 639h0m0-535h0m0-615h0m0 549h0m31 238h0m0 202h0m0-714h0m1 15h0m0 415h0m0-657h0m143 721h0m0 226h0m0-614h0m0 758h0m1-1212h0m0-80h0m0 1218h0m0-861h0m1 304h0m18 38h0m0-653h0m0 212h0m0 574h0m1 232h0m0-520h0m0 568h0m0-402h0m7 583h0m0-393h0m0 26h0m1-669h0m0 434h0m6 478h0m0-681h0m1 353h0m0-905h0m0 95h0m1 326h0m0-318h0m6 331h0m1125-395h0m1-28h0m0 1252h0m0-327h0m0-386h0m0 401h0m0-378h0m0 609h0m0-141h0m0-15h0m0 174h0m0-909h0m1-288h0m0 636h0m0 435h0m0 117h0"/><path id="d61" d="m1054 2076h0m9 37h0m1 1232h0m19-58h0m17-269h0m3 212h0m14-941h0m1 944h0m23 152h0m9-1188h0"/><path id="d62" d="m1071 2219h0m8-109h0m0 588h0m1 299h0m3-693h0m1 106h0m3-198h0m4 1154h0m24-1110h0m9 525h0m1052-216h0m2 816h0m10-31h0"/><path id="d63" d="m1086 2312h0m0 1061h0m2-493h0m5-433h0m1 458h0m2 40h0m1-512h0m3-186h0m0 78h0m1 599h0m1 379h0m2-1270h0m1 1381h0m1-744h0m1 130h0m2-702h0m0 794h0m2 115h0m5-30h0m1 67h0m0-177h0m0-482h0m2 472h0m1-789h0m0 346h0m0-187h0m7 200h0m0 605h0m1-185h0m1-233h0m2 656h0m3 76h0m2-85h0m1-350h0m4-112h0m0-349h0m2 139h0m2 563h0m0-402h0m0-593h0m1 903h0m0-387h0m1 416h0m1-658h0m0-273h0m1 16h0m1 1234h0m1-705h0m1-152h0m1 421h0m5 432h0m1-376h0m1 75h0m0-450h0m1-532h0m0 1040h0m2 195h0m0-947h0m0 62h0m1 470h0m1-239h0m0-204h0m0 849h0m0-1016h0m1 702h0m1-393h0m1-96h0m4-337h0m0-48h0m1 575h0m0 355h0m1-710h0m1-134h0m0 9h0m0 1013h0m1-454h0m1-124h0m0 327h0m1-420h0m0-78h0m3 131h0m0 465h0m0-929h0m0 56h0m2 215h0m6 913h0m1-147h0m0-442h0m1 552h0m2-139h0m0-762h0m2-5h0m4 889h0m3-950h0m2 1077h0m2-1016h0m1 938h0m0-268h0m2-189h0m5 458h0m2-1154h0m2 900h0m5-442h0m6 370h0m13 400h0m5-607h0m884-716h0m7 353h0m2 447h0m0 403h0m2-786h0m0 483h0m2-782h0m6-199h0m2 1080h0m1-929h0m1 605h0m0-435h0m3 1065h0m1-391h0m0 113h0m0 255h0m0-999h0m1 365h0m0-88h0m0-61h0m0-348h0m4 556h0m1 577h0m1-943h0m0 779h0m0 75h0m1-66h0m0-110h0m0-979h0m1 472h0m0-241h0m2 722h0m1 129h0m1-600h0m0 760h0m0-174h0m1 127h0m2-777h0m6 605h0m1-607h0m2 57h0m3 727h0m0-312h0m1-103h0m2-37h0m2 478h0"/><path id="d64" d="m1055 3210h0m6-259h0m0-880h0m1 1087h0m4-619h0m2-511h0m1 472h0m1-205h0m3 981h0m0-82h0m2-44h0m0 288h0m0-354h0m1-886h0m1 186h0m1 862h0m1 152h0m3-513h0m0 520h0m1-236h0m0-615h0m5 200h0m2 443h0m5 153h0m0-324h0m1-69h0m2-435h0m2-140h0m0 1049h0m1-1105h0m1 344h0m3-457h0m5 190h0m2 631h0m7-951h0m0 275h0m2 783h0m1-937h0m3 837h0m1-368h0m1 263h0m2 448h0m2-991h0m1 184h0m1-508h0m2 1179h0m7 111h0m3-51h0m8-877h0m1 957h0m1012-1213h0m2 943h0m3-546h0m3 372h0m1-47h0m0 59h0m1-758h0m3 79h0m3 459h0m0-535h0m1 370h0m2 263h0m0 335h0m1-349h0m1 495h0m0-724h0m0 425h0m2 318h0m0 91h0m0-160h0m1-775h0m3-34h0m0-366h0m2 777h0"/><path id="d65" d="m1067 3060h0m0-483h0m4-31h0m3 113h0m1 60h0m1 292h0m0-793h0m2-52h0m13 472h0m0-432h0m3 443h0m0-528h0m4 48h0m4 738h0m1 259h0m3-618h0m12 575h0m7-579h0m41 228h0m1008 417h0m1-683h0m11 720h0m3 7h0m3-361h0m2 333h0m3-363h0"/><path id="d66" d="m1110 2815h0m5 410h0m19-247h0m15-421h0m26 796h0m45-1213h0m953 839h0"/><path id="d67" d="m952 2680h0m3-446h0m11 335h0m2-55h0m10 303h0m6-712h0m4 88h0m0 1160h0m18-525h0m2 236h0m20-598h0m38 847h0m2-1242h0m21 661h0m1105-422h0m6 1111h0m2-509h0m2-781h0m1 125h0m9 306h0m4-235h0m6 105h0m6 196h0m17 434h0m14 323h0m33-1111h0m5 1077h0m18-265h0m47-779h0m102 555h0m14 492h0m204-803h0m1148 883h0"/><path id="d68" d="m1050 2882h0m5-202h0m5 115h0m1 298h0m0 88h0m6-629h0m1-136h0m1 872h0m0-1079h0m1 491h0m0 131h0m0 211h0m1-727h0m0 961h0m0-1205h0m2 526h0m0 184h0m1 209h0m0-402h0m1 233h0m1 375h0m1-743h0m1-104h0m0 935h0m0-475h0m4-376h0m0 696h0m1 127h0m0-575h0m0 134h0m1-634h0m0 645h0m1-746h0m2 523h0m0 793h0m2-644h0m0-267h0m0-146h0m0 1072h0m2-22h0m2-251h0m1-1089h0m1 774h0m4-427h0m0 531h0m0-683h0m1 722h0m0-185h0m1-228h0m0-148h0m0 688h0m0 183h0m1-929h0m0 986h0m0-256h0m0-634h0m1 687h0m0-504h0m0 180h0m2 314h0m0-885h0m2-32h0m2 357h0m0 109h0m4 355h0m0-729h0m0 599h0m1 61h0m1 192h0m1-872h0m1-173h0m0 941h0m4 201h0m2-127h0m1 236h0m0-1330h0m1 576h0m2 548h0m0-349h0m1 116h0m1-526h0m0 1032h0m0-1180h0m5 989h0m0-503h0m1-636h0m3 950h0m0-561h0m1 715h0m1-1107h0m0 327h0m10 996h0m0-706h0m1 502h0m7-447h0m7-54h0m1000 332h0m3-252h0m2 68h0m1 470h0m2-82h0m3-437h0m2 601h0m2-822h0m1 183h0m0 428h0m0-773h0m1-116h0m0 316h0m1-492h0m1 1306h0m0-893h0m4-144h0m0 459h0m0 103h0m1 82h0m0-93h0m0-540h0m1 661h0m1-448h0m0 649h0m3-884h0m1 27h0m0 538h0m1-504h0m1 970h0"/><path id="d69" d="m1084 2355h0m13 451h0m15-437h0m2-233h0m3 1098h0m4-973h0m1 1166h0m4-138h0m4-717h0m1 670h0m0-540h0m2-663h0m4 609h0m4-456h0m2 886h0m0 107h0m2-379h0m9-554h0m1 1014h0m6-1217h0m2 1314h0m1-722h0m1 48h0m2 605h0m4-505h0m4 303h0m10-152h0m4 405h0m20-376h0m9-643h0m10 1026h0m8-723h0m907-519h0m5 584h0m1 442h0m0-47h0m1-967h0m25 276h0m9-210h0m0 624h0m5-621h0m0 15h0m1-125h0m0 1220h0"/><path id="d70" d="m952 2195h0m15 1211h0m1-942h0m9-255h0m12 1132h0m0-698h0m6 5h0m14 686h0m9-130h0m8-808h0m30 392h0m12-209h0m10-390h0m12 939h0m1095-559h0m9 70h0m12-282h0m14 734h0m9 305h0m1-821h0m30 210h0m24 405h0m0-782h0m5 499h0m0 526h0m40-1394h0m47 360h0m2 715h0m103 94h0m0-1164h0m202 1025h0m16-401h0m1133 132h0"/><path id="d71" d="m892 2412h0m42-33h0m17-234h0m8 118h0m10 421h0m17 305h0m0-706h0m23 997h0m0-746h0m1-16h0m6 312h0m11 325h0m0-817h0m18 200h0m5 201h0m8 349h0m2-190h0m12 34h0m0-280h0m1122-565h0m28 146h0m9-189h0m17 938h0m25-101h0m9 353h0m7-966h0m33 917h0m15-81h0m11-942h0m11 1138h0m5-45h0m4-527h0m19 23h0m85-86h0m8-511h0m204 408h0m15 655h0m1134-990h0"/><path id="d72" d="m1087 2404h0m12 480h0m2-826h0m2 1154h0m3-233h0m1 454h0m1-1326h0m3 1305h0m2-1249h0m4 1050h0m1 189h0m2-1121h0m1 818h0m1-24h0m0 161h0m5 86h0m2-453h0m0-157h0m3 538h0m1-110h0m2-385h0m1 525h0m1-598h0m10-431h0m1 209h0m1 79h0m3-211h0m8 413h0m4-395h0m0 490h0m2 561h0m1-178h0m3-455h0m3-389h0m0 187h0m3-229h0m2 120h0m3 125h0m6-37h0m0 720h0m11-655h0m13 320h0m0 489h0m6-865h0m6-113h0m5 297h0m904 493h0m3-791h0m2 146h0m8 570h0m4-851h0m6-181h0m3-12h0m6 228h0m1 697h0m2 310h0m1-125h0m1-205h0m1-317h0m2 74h0m0-410h0m6 81h0m1 412h0m3-362h0m5 235h0m1 82h0m1-460h0"/><path id="d73" d="m920 2611h0m12 359h0m1-876h0m22 358h0m2 632h0m1-908h0m1 794h0m18-489h0m0 313h0m2 518h0m5-77h0m3-449h0m7-637h0m2 714h0m0-658h0m0 813h0m23 26h0m7-116h0m2-617h0m0-158h0m0 341h0m1 127h0m9-344h0m0 688h0m8-187h0m2 261h0m1-1007h0m0 860h0m10-476h0m2 1015h0m5-421h0m11-280h0m1-691h0m1109 1105h0m15-172h0m1 370h0m2-1037h0m0 741h0m3-201h0m5 268h0m5 326h0m2-559h0m1-186h0m2 363h0m8 206h0m1-518h0m4-205h0m7-431h0m3-62h0m4 1132h0m0 134h0m4-54h0m11-1148h0m0 220h0m4 256h0m7-14h0m2-453h0m1-98h0m3 1398h0m2-408h0m2-952h0m13 26h0m2 848h0m13 132h0m1-936h0m1 307h0m11 608h0m1-935h0m9 259h0m0 493h0m1-548h0m0-136h0m0 1040h0m6-179h0m4-629h0m2 605h0m4-110h0m2-243h0m11-471h0m0 176h0m3-283h0m8 1359h0m1-505h0m7 144h0m1 223h0m0-940h0m32-232h0m1 568h0m0-71h0m44-318h0m1 157h0m0 874h0m7 65h0m1 28h0m0-1263h0m0 948h0m0-179h0m0-746h0m1 833h0m7 106h0m0-706h0m6-397h0m1 1290h0m0-1016h0m9 136h0m22 481h0m0 468h0m0-710h0m1-583h0m0 1242h0m0-977h0m0 253h0m143-52h0m1 423h0m0-265h0m0 408h0m0-864h0m20 187h0m0 344h0m7 513h0m1-1212h0m1 825h0m12-747h0"/><path id="d74" d="m1086 2638h0m1 573h0m5-84h0m5 76h0m0-1115h0m8 128h0m3-10h0m2 561h0m1-116h0m1 147h0m2 633h0m1-475h0m5-296h0m0-92h0m3 255h0m1-417h0m1 436h0m0-129h0m5 393h0m1-184h0m4 33h0m7-165h0m5-619h0m0 189h0m1 918h0m3-522h0m1 125h0m1 341h0m4 30h0m1-396h0m12-144h0m3-237h0m1 284h0m1 166h0m2-158h0m0-286h0m6 733h0m11-33h0m0 47h0m2-1034h0m6 129h0m5-42h0m2 1045h0m9-756h0m4 80h0m905 234h0m6-411h0m4-209h0m1 234h0m13-96h0m4-306h0m0 277h0m2 719h0m2 21h0m0-178h0m4 362h0m3-586h0m0 247h0m1 200h0m0-252h0m0-365h0m8 488h0m0 107h0m0 166h0m8-322h0m3-480h0m0 219h0m4-310h0m1-289h0"/><path id="d75" d="m908 2260h0m1 368h0m22 581h0m20-1076h0m0-98h0m4 523h0m0 843h0m3-176h0m6-735h0m2 872h0m1-781h0m7-263h0m1 21h0m0-285h0m2 1091h0m1-1035h0m8 447h0m1-59h0m0-218h0m18 113h0m0 426h0m2-111h0m2-301h0m5-231h0m4 901h0m1-832h0m7-201h0m0 777h0m1-189h0m12 641h0m0 127h0m11-290h0m5-557h0m1 262h0m2 335h0m1-629h0m1-160h0m1-250h0m0 153h0m1 774h0m7-142h0m2 499h0m8-779h0m1-416h0m2 1180h0m9-1212h0m6 919h0m1099-37h0m1 171h0m3-267h0m2-673h0m2 410h0m5 509h0m3-313h0m1-187h0m0 198h0m1-647h0m4 377h0m5 41h0m1 626h0m6-230h0m0 297h0m9-615h0m7 580h0m0-21h0m3-1266h0m1 732h0m4-132h0m6 539h0m6-683h0m2 811h0m0-642h0m5 43h0m4 305h0m2-460h0m3 426h0m1-548h0m0 40h0m13 247h0m19-132h0m1 590h0m10 155h0m1-133h0m1-559h0m7-536h0m1 474h0m1 681h0m7-1130h0m3 806h0m0 331h0m1-886h0m7 326h0m4 307h0m4 189h0m1-961h0m1 42h0m0 1081h0m1-261h0m0-706h0m20 168h0m33 792h0m0-377h0m1-319h0m44 171h0m0-539h0m1 682h0m0-918h0m0 27h0m0 815h0m8 521h0m0-1215h0m1 846h0m0 322h0m7-932h0m1-19h0m0 696h0m0-948h0m0 793h0m6 253h0m0-881h0m0 199h0m0 136h0m1 401h0m30-621h0m0 224h0m1-293h0m143 332h0m0 479h0m0-505h0m1-71h0m0 311h0m0-667h0m0 658h0m19 120h0m1-904h0m0 687h0m0-662h0m0 629h0m0-735h0m0 1368h0m7-126h0m1-400h0m0 66h0m0-226h0m0 382h0m6-246h0m1-754h0m0 189h0m1 415h0m0 141h0m0-8h0m6-284h0m1127 113h0"/><path id="d76" d="m920 2902h0m2-691h0m29 509h0m1 95h0m0 350h0m3-372h0m0 355h0m2 62h0m0-14h0m0-504h0m1 67h0m9-665h0m0 562h0m1 710h0m6-900h0m3 278h0m0 302h0m1-158h0m7 410h0m1-1038h0m8 619h0m4-559h0m0 1100h0m1-844h0m6 737h0m1-29h0m0-268h0m1 90h0m8 64h0m1 169h0m2-109h0m2-563h0m5 501h0m0-660h0m1 807h0m0-1090h0m3 921h0m1-1009h0m16 284h0m2 391h0m1-178h0m1-333h0m1 422h0m6 186h0m2-106h0m7 111h0m0 409h0m5-13h0m8-45h0m11 109h0m2-820h0m5-384h0m1089 1188h0m14-744h0m3 228h0m5-444h0m2-176h0m1 511h0m1 543h0m1-672h0m4 250h0m0 519h0m3-785h0m0-127h0m9-381h0m0 539h0m14 255h0m4 372h0m1-711h0m3 817h0m0-567h0m4 379h0m0-1094h0m1 1134h0m1-593h0m4-443h0m7 999h0m0-713h0m6-58h0m0 245h0m0 404h0m0-109h0m3-449h0m1 873h0m4-138h0m2-298h0m2 51h0m1-408h0m1 801h0m17-930h0m10 159h0m3 383h0m0 181h0m0 261h0m5-349h0m1 96h0m1-443h0m8-52h0m4 590h0m9 161h0m2-256h0m0-46h0m11-986h0m1 1094h0m4 57h0m2-294h0m0-198h0m0-385h0m9 440h0m5-381h0m7 538h0m77 152h0m0-583h0m1-546h0m0 82h0m1 312h0m0 727h0m6-1079h0m0 176h0m1 638h0m0 321h0m0-562h0m0-368h0m1 938h0m6 43h0m1-11h0m0 86h0m0-68h0m6-153h0m1-976h0m0 959h0m31-11h0m0-513h0m0-308h0m0-217h0m1 758h0m0 596h0m0-395h0m0-28h0m0 326h0m143-840h0m1 924h0m0-867h0m19 363h0m0-133h0m0-79h0m0-497h0m1 89h0m0 466h0m1-38h0m7-39h0m1-465h0m5 705h0m0 168h0m1-457h0m0-445h0m0 1084h0m0-172h0m1-140h0m0 476h0m0-526h0m1131-439h0m1-9h0m0 345h0m0-422h0m0 963h0m0-902h0m0-285h0m0-13h0m0 608h0m0 599h0m0-509h0m0-218h0m0-250h0m0 324h0m0-579h0m1 866h0m0 345h0m0-910h0"/><path id="d77" d="m892 2503h0m27 692h0m1-954h0m11 450h0m1 28h0m19 147h0m1-681h0m0 640h0m1-354h0m0 185h0m1 326h0m1-779h0m0 483h0m2-404h0m1 587h0m0 507h0m0-1336h0m6 11h0m1 501h0m1 829h0m0-819h0m0-437h0m1 6h0m8 531h0m0 356h0m0-831h0m1 506h0m1-434h0m1 294h0m1 217h0m8-720h0m0-26h0m7 1050h0m1-71h0m0-700h0m0-244h0m0 1021h0m1 227h0m1-1082h0m0 684h0m0-41h0m0-832h0m1 882h0m1-762h0m0 1049h0m6-726h0m0-180h0m1 376h0m1-144h0m1-318h0m1 485h0m7-374h0m2 101h0m0 564h0m1 36h0m6 100h0m2-167h0m0-665h0m0 1104h0m2-1278h0m9 335h0m0-326h0m1 91h0m0 752h0m6-172h0m1 135h0m1-614h0m1 621h0m0 222h0m2-1080h0m0 176h0m2 1170h0m4-1192h0m1 1153h0m0-750h0m1 279h0m0 30h0m2-889h0m1-26h0m0 1286h0m1-1138h0m4 626h0m2 268h0m0 77h0m3 78h0m1-487h0m8 217h0m1-579h0m1 475h0m8-577h0m1095 616h0m2-698h0m0 388h0m4 250h0m0-187h0m3 487h0m2-693h0m1 840h0m0-1213h0m3 640h0m0 573h0m0-161h0m1 49h0m0-856h0m1 916h0m0-196h0m0 361h0m1-439h0m0 146h0m0-688h0m0-126h0m1 601h0m5 367h0m0-215h0m2-232h0m3 409h0m0 120h0m4-605h0m0 688h0m2-861h0m0 715h0m0-124h0m1 36h0m2-427h0m0-261h0m5 905h0m0-651h0m0 564h0m1-65h0m0 166h0m0-868h0m0-174h0m2-221h0m1 615h0m6-330h0m0 730h0m0 146h0m0-232h0m1-828h0m2 701h0m1-234h0m3-282h0m0 288h0m2 112h0m1-208h0m1-493h0m1-79h0m0 1282h0m2-175h0m4-61h0m0-885h0m5 302h0m3-437h0m1 1346h0m1-661h0m2-161h0m2-143h0m0 172h0m3 233h0m2 422h0m1 128h0m1-44h0m0-1005h0m1 774h0m0 80h0m1-390h0m1-606h0m4 967h0m1-690h0m0-393h0m0 416h0m4-291h0m0 1050h0m6-908h0m1 100h0m3 855h0m1-69h0m16-589h0m0-639h0m2 1296h0m5-847h0m0-82h0m3 115h0m2 224h0m1 94h0m4-302h0m0-315h0m1 1153h0m1-1267h0m3 1028h0m1-888h0m1 7h0m3 988h0m0 192h0m3-1315h0m0 1095h0m1-269h0m1-165h0m5-197h0m1 335h0m3-667h0m1 189h0m0 325h0m1 51h0m1-70h0m3 371h0m2-34h0m0-684h0m0-16h0m0 110h0m2 415h0m0 441h0m0-125h0m1-1123h0m1 55h0m5 1133h0m1-873h0m3-46h0m1 525h0m0 63h0m7-934h0m1 790h0m78-561h0m0-216h0m0 779h0m1 450h0m7-427h0m7-450h0m2 454h0m5-359h0m11-412h0m21 1024h0m1-37h0m144-698h0m0-201h0m20 1067h0m7-123h0m0 280h0m2-1060h0m1139 649h0"/><path id="d78" d="m1094 2546h0m5 491h0m16 122h0m13-678h0m8 760h0m2-92h0m7-64h0m15-554h0m0 749h0m13-342h0m5-99h0m3-227h0m960-215h0m16 314h0m21 707h0"/><path id="d79" d="m1091 2893h0m6 449h0m6-404h0m4 289h0m4 95h0m5-782h0m0 65h0m3-509h0m8 967h0m12 48h0m1-50h0m1 118h0m6-224h0m2 9h0m0-223h0m13 665h0m3 25h0m3-731h0m2-629h0m14 177h0m4 949h0m6-472h0m0 139h0m10 320h0m22-167h0m915-501h0m5 881h0m7-194h0m2 88h0m3-1258h0m4 296h0m17 664h0m3 394h0m3-1267h0m0 326h0m3 841h0"/><path id="d80" d="m919 2058h0m32 270h0m1 528h0m0 447h0m2-51h0m13-514h0m18 279h0m1-258h0m1-590h0m10 993h0m9-905h0m10 631h0m12-126h0m19-711h0m0 167h0m9 1191h0m2-690h0m2 660h0m11-1118h0m8 195h0m3 58h0m1105 317h0m4 599h0m39-548h0m2 114h0m6-589h0m4 999h0m4-197h0m3 223h0m15-854h0m10 698h0m3-1144h0m39-62h0m8 1341h0m13-541h0m1 118h0m6 387h0m1-465h0m12-73h0m9-687h0m9-16h0m2 214h0m1 33h0m94 865h0m8-684h0m7-91h0m177-121h0m1168 939h0"/><path id="d81" d="m1059 3263h0m7-1032h0m1 904h0m6-391h0m0 56h0m2 221h0m2-783h0m2 635h0m2-723h0m0 179h0m2 1005h0m2-306h0m1-334h0m5 67h0m4-558h0m2 626h0m0 64h0m2-596h0m4 1003h0m3-922h0m4-210h0m5 576h0m0 26h0m3 328h0m11-987h0m3-30h0m17 395h0m1025 500h0m4 119h0m2-483h0m1-81h0m9 627h0m3-1043h0m3 714h0"/><path id="d82" d="m909 2961h0m1 373h0m1-1015h0m10 547h0m10 174h0m20-667h0m1-133h0m6 268h0m18-478h0m0 867h0m3-520h0m5 956h0m1 39h0m0-502h0m10 247h0m1 16h0m0-328h0m0-616h0m3 371h0m7 324h0m0-857h0m2 126h0m7 54h0m1-81h0m13 779h0m9 241h0m0-476h0m0 746h0m0-92h0m13-818h0m1-314h0m7 1037h0m0 105h0m1-1059h0m16 662h0m2 68h0m1 396h0m0-982h0m3 368h0m3-137h0m1101-620h0m1 910h0m5-774h0m3 409h0m0-445h0m6 1119h0m1-1099h0m0 40h0m3 255h0m7 734h0m0-547h0m1-502h0m1 592h0m0 488h0m8-292h0m1-857h0m1 734h0m4 392h0m0-1009h0m2 1160h0m6-1279h0m6 81h0m1 1160h0m12-151h0m14-357h0m1-390h0m5 1032h0m2-17h0m2-1380h0m5 1291h0m17-117h0m5-1123h0m8 945h0m0-328h0m4 25h0m5-129h0m0-438h0m1 725h0m1-505h0m3 443h0m0-556h0m6 148h0m0 192h0m0 625h0m1-523h0m1-202h0m0 525h0m7 44h0m2-1041h0m1 114h0m0 679h0m2 256h0m6 268h0m0 80h0m1-191h0m3-154h0m0-797h0m6 916h0m3-700h0m12 1h0m7-440h0m1 282h0m32 44h0m2-75h0m43 321h0m0 574h0m1-7h0m7 47h0m1 52h0m0-531h0m0-642h0m0 77h0m7 1180h0m1-942h0m0-127h0m0 385h0m1 264h0m5-467h0m0 98h0m0 574h0m1 118h0m0-645h0m0 142h0m0-584h0m0 345h0m31-10h0m0 228h0m1 463h0m0-683h0m0 634h0m143-1137h0m0 381h0m0 811h0m0 101h0m1-1116h0m0 504h0m0 140h0m1 432h0m0-1018h0m0 264h0m18-171h0m0 865h0m0-712h0m1 594h0m7-418h0m0-302h0m1-107h0m7 1035h0m0-1294h0m0 171h0m1 1067h0m0-133h0m0-1060h0m1131 651h0m1-222h0m0 627h0m0 227h0m0-142h0m0-1055h0m0 137h0"/><path id="d83" d="m1064 2033h0m5 1004h0m1-283h0m6-186h0m13 613h0m3 116h0m1 85h0m10-898h0m0-272h0m5-157h0m0 119h0m3 220h0m38-314h0m1022 1294h0"/><path id="d84" d="m1063 2944h0m0-160h0m1-258h0m2 112h0m4-449h0m1 699h0m1-476h0m0-185h0m3 1094h0m3-892h0m1-334h0m2 373h0m2 430h0m2 150h0m0-658h0m4 159h0m2 446h0m2-83h0m7-137h0m6 193h0m3-359h0m12-198h0m4 520h0m26 361h0m1021-1238h0m6 905h0m3-57h0m6 357h0m0-776h0m2-393h0m2 977h0m4 264h0"/><path id="d85" d="m909 2532h0m43 383h0m5 213h0m19-444h0m10-99h0m10 630h0m0-193h0m24-406h0m5-22h0m3 467h0m10-594h0m0-262h0m0 50h0m8 620h0m5 322h0m0 173h0m6-914h0m5-157h0m0-157h0m8 283h0m2 571h0m7-132h0m7 530h0m1106-271h0m17 2h0m2 243h0m4-956h0m6-25h0m19 191h0m3-304h0m12-97h0m5 487h0m29 67h0m25 127h0m2-242h0m7 566h0m3-548h0m3-557h0m8 44h0m2 533h0m25 412h0m2-507h0m0 558h0m13-204h0m40-549h0m46 803h0m7-1067h0m1 1126h0m1 154h0m15-484h0m9 359h0m23 110h0m143-1059h0m20-181h0m1 1027h0m6-1017h0m1 213h0m7-151h0m1 760h0m0 10h0m1132-159h0"/><path id="d86" d="m954 2715h0m1 557h0m4-1157h0m0 130h0m7 545h0m1 19h0m19-653h0m31 310h0m1 272h0m7 240h0m44 444h0m19-1198h0m1095 160h0m26-237h0m0 1176h0m1-1152h0m5 700h0m3 349h0m0-497h0m11 80h0m4-308h0m9-110h0m9 997h0m6-1062h0m9 973h0m1-588h0m29-608h0m11 154h0m10 1077h0m20-238h0m7 229h0m136-95h0m0-1188h0m1 16h0m202 1377h0m17-203h0"/><path id="d87" d="m1055 2052h0m4 1367h0m3-80h0m4-152h0m1-415h0m1-285h0m0 20h0m0 622h0m1-887h0m2 451h0m3-136h0m1-403h0m1 266h0m1 438h0m4 370h0m1-503h0m0 572h0m1-287h0m1-945h0m0 878h0m0-841h0m0 141h0m8-184h0m0 680h0m2 135h0m1-287h0m0-21h0m3 546h0m1 29h0m1-620h0m6-65h0m0 912h0m0-50h0m1-1042h0m4 228h0m4-82h0m11 826h0m3-173h0m5-846h0m12 838h0m0 166h0m1-733h0m4-12h0m8 563h0m1006-71h0m5-656h0m3 567h0m0 364h0m2-721h0m7 308h0m7-788h0m2 379h0m1 169h0m0-336h0m3 107h0m1 303h0m1-573h0m0 49h0"/><path id="d88" d="m1083 2668h0m3 452h0m2-235h0m3-545h0m11 993h0m11-642h0m5-267h0m2 657h0m1 215h0m2-969h0m7 875h0m8-161h0m2 194h0m3-239h0m0-126h0m0-625h0m2 724h0m8-441h0m6 912h0m2-246h0m0 122h0m2-856h0m2 8h0m6 292h0m7-569h0m10 334h0m14 463h0m949-436h0m2 108h0m1 210h0m2-504h0m1 604h0m2-458h0m2 881h0m0-774h0m5-410h0m5 1104h0m4 7h0m5-616h0m0 650h0m3-1047h0m1 757h0m2 8h0"/><path id="d89" d="m1088 2779h0m6 143h0m2-176h0m0-517h0m3 703h0m3-74h0m3-381h0m0-64h0m1 532h0m3-116h0m2-209h0m0-336h0m1 414h0m0 275h0m1-658h0m0-115h0m0 1069h0m0-723h0m1-439h0m0 1144h0m0-483h0m0 59h0m1 283h0m0-415h0m1-90h0m2 415h0m1-260h0m1 129h0m1 447h0m0-25h0m0-160h0m1-848h0m0 1101h0m1-709h0m0 694h0m1-268h0m1-177h0m1-805h0m0 883h0m1-881h0m1-42h0m2 827h0m2 68h0m0-544h0m0 77h0m0 823h0m1 15h0m1-776h0m1 243h0m1 177h0m0-200h0m0-353h0m0 121h0m0-124h0m2-208h0m1 772h0m0-357h0m0 326h0m0-606h0m0 389h0m1 187h0m0-681h0m1 457h0m1-357h0m1 523h0m2 402h0m0-34h0m1-756h0m0 258h0m1 625h0m0-1343h0m1 674h0m1-135h0m0 683h0m2-922h0m0 1012h0m1-1318h0m3 935h0m0-161h0m1-657h0m1 1067h0m0-132h0m2-1061h0m0 454h0m1 168h0m1-573h0m0 856h0m1 435h0m1-203h0m0-542h0m0 550h0m2-561h0m1 131h0m2-225h0m2 75h0m0-402h0m2 774h0m5-356h0m4 426h0m0-580h0m1 468h0m0 139h0m2-497h0m2-417h0m0 128h0m1 755h0m2-351h0m2 641h0m1-1034h0m2 808h0m2 245h0m2-1098h0m1 1079h0m0-35h0m4-663h0m1-188h0m9 153h0m1 24h0m8-72h0m1-248h0m1 265h0m10 97h0m6-381h0m1 154h0m4 122h0m882-82h0m3 637h0m3 209h0m0-216h0m1-909h0m4 511h0m1 726h0m0-1081h0m0 828h0m3-1074h0m2 230h0m1 817h0m1-680h0m1-444h0m1 1379h0m1-125h0m1-1045h0m1 250h0m2 16h0m1-54h0m0-154h0m0 379h0m1-214h0m1 529h0m3 87h0m0-620h0m0-182h0m1 626h0m1 483h0m1-123h0m3-315h0m1-758h0m1 47h0m2-97h0m2-82h0m1 981h0m2-587h0m1 491h0m1-382h0m2-431h0m0 359h0m1-284h0m0 573h0m3 149h0m1 173h0m1-534h0m1 632h0m1-870h0m0 524h0m0 52h0m1 524h0m0-449h0m1-761h0m2 1221h0m0-877h0m2-446h0"/><path id="d90" d="m1089 2277h0m9-79h0m6 84h0m0-203h0m1 906h0m1 216h0m1-550h0m1-254h0m2-123h0m2 577h0m3 563h0m1-80h0m5-1199h0m6 345h0m0 859h0m3-988h0m0 1065h0m0-1079h0m5 57h0m2 1032h0m2-137h0m0-293h0m1 262h0m0-1228h0m2 383h0m2-142h0m0 508h0m6-400h0m5 915h0m2-498h0m10 527h0m1-58h0m3-955h0m2 638h0m8-23h0m7 417h0m5-1014h0m15 327h0m10-400h0m10 21h0m8 815h0m887 134h0m6-160h0m4-191h0m13-787h0m2 1090h0m1-650h0m0-170h0m6 703h0m6-88h0m3-548h0m2 897h0m2-1067h0m2 545h0m0-29h0m3 65h0m6-421h0m0 465h0m0-629h0m4-36h0m0 672h0m1 202h0m1 27h0m1-576h0m4 249h0"/><path id="d91" d="m1050 2037h0m23 629h0m1 629h0m4-132h0m9-217h0m5 71h0m8 367h0m1-531h0m5 35h0m0-234h0m3-505h0m49 655h0m3-464h0m1008-149h0m8 929h0m9-799h0m4 580h0m1-618h0m1 489h0m3 235h0"/><path id="d92" d="m1087 2572h0m5 237h0m2 547h0m10-632h0m3-658h0m1 909h0m0 116h0m3-849h0m0 1040h0m2-88h0m2-454h0m0-204h0m1 856h0m1-815h0m1-145h0m2 258h0m2-111h0m2 149h0m1 353h0m1-199h0m6 384h0m0-235h0m2-81h0m1-285h0m7-23h0m14-488h0m10 187h0m1 969h0m5-656h0m5 413h0m4 233h0m1-459h0m2-587h0m2 637h0m5-688h0m3 244h0m5-330h0m2 461h0m5-248h0m18 681h0m910-528h0m6 408h0m6-390h0m2 78h0m6 668h0m3-270h0m2-914h0m0 814h0m3-833h0m1 1015h0m0-612h0m1-128h0m1 1104h0m0-880h0m7-365h0m6 107h0m1 755h0m3-942h0m0 888h0m3-43h0m2-125h0m5-382h0"/><path id="d93" d="m1054 2708h0m8-17h0m38-371h0m7 413h0m8-307h0m6 258h0m1065-304h0m2 157h0"/><path id="d94" d="m909 2909h0m10-685h0m1-190h0m1 979h0m0-859h0m11 213h0m2 478h0m17 436h0m0-479h0m1 491h0m0 138h0m0-666h0m0 26h0m0-125h0m1 35h0m1-672h0m1 879h0m0-544h0m0 931h0m0-284h0m0 65h0m1 347h0m1-13h0m1-1051h0m0 875h0m1-182h0m7-438h0m2 441h0m0 288h0m0-1118h0m6 1208h0m1-826h0m0-385h0m1 1138h0m2-493h0m1 378h0m0-299h0m0 125h0m5-955h0m0 67h0m1 1206h0m1-437h0m0-619h0m0 1028h0m2-1298h0m1 760h0m5-798h0m1 403h0m0 162h0m2 722h0m0-943h0m1-277h0m0 1044h0m1-880h0m5 81h0m1 501h0m0-261h0m0 351h0m3-891h0m1 1203h0m0-399h0m0 293h0m0-768h0m0 420h0m5 399h0m0 99h0m0-573h0m1-134h0m1 510h0m1-552h0m0 615h0m1-255h0m0 332h0m0 177h0m0 19h0m1-1024h0m0 911h0m0 42h0m0-659h0m5-7h0m0-465h0m1 879h0m1-929h0m0-98h0m1 118h0m1 71h0m0 42h0m0 305h0m1 269h0m0-74h0m9-32h0m1 311h0m0-761h0m6 51h0m1 604h0m0 40h0m0-544h0m0 842h0m0-737h0m0 592h0m0-650h0m1-62h0m0 687h0m1-711h0m1-298h0m2 488h0m0-19h0m1-127h0m0-360h0m4 57h0m0 1139h0m1 59h0m0-109h0m2-93h0m0-314h0m1-549h0m0 46h0m0 183h0m0 36h0m6 445h0m0 250h0m0-999h0m0 129h0m0 208h0m1 87h0m1-106h0m1 575h0m2-1028h0m0 578h0m1 469h0m4-1030h0m1 383h0m1 453h0m1-229h0m0 139h0m0-55h0m1-778h0m1 433h0m1 816h0m3-148h0m1097-625h0m5 720h0m1-585h0m3 579h0m1-570h0m0-195h0m1 691h0m1-411h0m1 641h0m0-587h0m0 420h0m1-846h0m0 461h0m1 86h0m3-375h0m0 10h0m1 519h0m1-927h0m0 1270h0m0-282h0m0-833h0m1 1073h0m1-531h0m0 246h0m1 301h0m0-1079h0m4 148h0m5 939h0m4-818h0m1 286h0m0-583h0m1-218h0m1 859h0m0-821h0m0 339h0m2 732h0m4-914h0m2-213h0m4 1050h0m3-819h0m1 739h0m1 141h0m0-816h0m1 134h0m1 410h0m0-391h0m1 646h0m2-119h0m2-496h0m1 560h0m1-656h0m2 776h0m1 186h0m1-924h0m3 452h0m2-124h0m0 429h0m2 79h0m1-1120h0m0 1186h0m0-361h0m0-297h0m0 403h0m1-345h0m0 20h0m1-555h0m3 344h0m1 379h0m2-699h0m1 414h0m2 370h0m0-938h0m3 956h0m0 223h0m1-477h0m0-237h0m1-484h0m0 319h0m4 300h0m3-651h0m2 228h0m0-84h0m0 424h0m1 72h0m1-291h0m1 718h0m1-287h0m0-407h0m0 257h0m1 365h0m7 31h0m9 242h0m0 46h0m1-687h0m8 608h0m0-356h0m1-92h0m1 212h0m0-885h0m1 1064h0m0-237h0m0 323h0m2-331h0m3 1h0m1 224h0m0-535h0m2 95h0m0-644h0m0 1159h0m1-1073h0m1 1116h0m0-1274h0m7 217h0m3 780h0m1-1035h0m1 1292h0m0-337h0m5-275h0m2-433h0m0 353h0m0-381h0m1-86h0m1 854h0m0-842h0m1 392h0m1 711h0m7 88h0m1-1136h0m0 654h0m0-739h0m1-107h0m0 403h0m0 151h0m1 807h0m3-933h0m2 794h0m0 70h0m1-1286h0m0 1343h0m0-769h0m2 464h0m2-663h0m0-294h0m3 310h0m0 480h0m0 213h0m1-615h0m0-436h0m0 374h0m0 559h0m0-832h0m1 170h0m1 704h0m0-175h0m0-475h0m1-19h0m0-367h0m0 1182h0m1-859h0m1 990h0m40-129h0m0-697h0m0-348h0m1 358h0m0 208h0m0 323h0m0-554h0m0-315h0m1 955h0m43-814h0m0 775h0m0-313h0m0-35h0m0 484h0m1-7h0m0 16h0m0-1048h0m1 326h0m6-117h0m1-103h0m0 553h0m0-461h0m1-218h0m0 1156h0m0-1039h0m7 355h0m0-571h0m0 1194h0m0 40h0m0-652h0m1 219h0m0-790h0m5 616h0m0 542h0m0-256h0m0-819h0m1 548h0m0-8h0m0 644h0m0-1000h0m0-299h0m0 1290h0m31-1054h0m0 902h0m0-1127h0m1 387h0m0 505h0m143 70h0m1 244h0m0-176h0m0-682h0m1-9h0m18 220h0m0-272h0m0-300h0m1 541h0m0 350h0m1 68h0m6-568h0m0 807h0m0-45h0m1-457h0m0-288h0m0-203h0m0-87h0m6 578h0m0 585h0m1-1007h0m0 360h0m0 687h0m0 8h0m0 38h0m1-717h0m0 57h0m1131-230h0m1 624h0m0-864h0m0 207h0"/><path id="d95" d="m1062 2458h0m2-259h0m2 827h0m7-58h0m1 195h0m0-386h0m1-249h0m3 736h0m4-166h0m2-327h0m2-676h0m1 671h0m0-34h0m2-668h0m1 646h0m3-351h0m0-143h0m1 126h0m3 335h0m0-107h0m3 170h0m3-268h0m3 41h0m2 726h0m0-969h0m1-162h0m5 422h0m2 441h0m0-731h0m7 1014h0m8-270h0m0 347h0m1-1041h0m0 265h0m3-399h0m8 74h0m3 930h0m1018-168h0m2-445h0m5-64h0m3 164h0m3-509h0m2 210h0m0 42h0m5 799h0m1-887h0m3 523h0m1 310h0m5-360h0"/><path id="d96" d="m1087 3268h0m1 13h0m1 146h0m5-413h0m3-323h0m1 612h0m3-270h0m2-288h0m0-642h0m1 1014h0m3-562h0m1 784h0m0-837h0m0 571h0m1-546h0m3-42h0m1-199h0m2-197h0m0 247h0m0 63h0m1 51h0m1 73h0m3-327h0m0-25h0m1 80h0m0 103h0m0-9h0m2 214h0m0 391h0m1 402h0m1-145h0m0-1030h0m0 250h0m2 683h0m0-531h0m0 364h0m0-271h0m1 406h0m0-561h0m1-295h0m0 853h0m2-321h0m0-110h0m0 400h0m1-148h0m0-568h0m0-207h0m2 524h0m1-363h0m0-66h0m1 144h0m0 48h0m1-20h0m1 55h0m2-297h0m0 141h0m1 807h0m0-415h0m1-438h0m0-68h0m1 208h0m1 754h0m2 191h0m1-1024h0m0-31h0m1 720h0m1-8h0m2-95h0m0 506h0m1-931h0m0-171h0m1-150h0m1 24h0m0 1042h0m0-436h0m0-462h0m0 747h0m0-801h0m2 310h0m0 284h0m1-682h0m2 1097h0m1 108h0m1-408h0m1-789h0m0 100h0m2 974h0m0 133h0m0-1239h0m1 405h0m0 104h0m1 174h0m0 485h0m0-247h0m1-994h0m1 72h0m1 1254h0m1-1076h0m1 956h0m3-638h0m0-489h0m0 122h0m0 904h0m2-458h0m2-667h0m0 1101h0m2-931h0m1 405h0m1 260h0m1 514h0m0-1268h0m1 651h0m1-667h0m4 946h0m1-1027h0m3 1371h0m1-1147h0m0 118h0m3 869h0m1-202h0m1-768h0m3-23h0m1 516h0m0-101h0m2 329h0m1-257h0m2-152h0m0-125h0m2 925h0m2-1157h0m0 659h0m1 444h0m8-872h0m4 557h0m2 230h0m11-1110h0m883 564h0m2 564h0m2-614h0m5 612h0m0-578h0m8-263h0m4-332h0m0 1193h0m2 53h0m3-384h0m0-364h0m3-240h0m0 773h0m1-329h0m0-368h0m0 630h0m2 222h0m0-659h0m0 696h0m1-727h0m0 317h0m0 509h0m1-945h0m2-273h0m2 1130h0m0-915h0m0 241h0m0 160h0m0 302h0m0-96h0m2-926h0m1 1113h0m3-25h0m2-139h0m0-707h0m0 343h0m1-193h0m0 537h0m0-496h0m1 677h0m3-1054h0m2-16h0m1 211h0m0-88h0m1 904h0m0-582h0m1-187h0m1 463h0m0-337h0m3 766h0m1-879h0m0-34h0m1 63h0m1 371h0m1-382h0m1 914h0m0-703h0m1 324h0m1-910h0m1 10h0m1 1294h0m1-1321h0m1 1138h0m0-80h0"/><path id="d97" d="m954 2538h0m35 518h0m5 46h0m11 99h0m24-880h0m28 778h0m1147 43h0m17 287h0m2-1353h0m25 94h0m37-30h0m33 1136h0m6-336h0m5 87h0m18 253h0m10-787h0m9-68h0m54-48h0m60 634h0m17 259h0m22 88h0m1-187h0m143-227h0m1 133h0m35-131h0m1132-497h0"/><path id="d98" d="m1096 3109h0m11 53h0m2-1005h0m4 63h0m0-169h0m4 666h0m1 96h0m5 321h0m4-243h0m3 508h0m1-1012h0m4 704h0m0-574h0m2-332h0m6 695h0m2 231h0m4-1087h0m12 949h0m0-183h0m6 50h0m1 0h0m16-179h0m2 473h0m1-925h0m0 863h0m2 341h0m2-1160h0m8-190h0m1 763h0m6 17h0m8 224h0m4-804h0m5 231h0m12 871h0m905-1203h0m5 554h0m4 523h0m5-280h0m3-467h0m7-189h0m1-244h0m0 1217h0m1 12h0m1-535h0m1 341h0m1-1015h0m3-31h0m0 635h0m1 464h0m0-416h0m1-575h0m7 50h0m0 410h0m6 59h0m2 58h0"/><path id="d99" d="m1115 2550h0m1 518h0m4 73h0m7 34h0m9-672h0m2 619h0m4-233h0m0 217h0m5 60h0m13 258h0m5-204h0m5 198h0m7-1111h0m2 115h0m6 891h0m1-305h0m0-832h0m17 522h0m18 726h0m911-1171h0m19 1162h0m9-580h0m2 252h0m1 247h0m3-47h0m2-798h0m6 924h0m1-1179h0m1 430h0"/><path id="d100" d="m909 2083h0m42 9h0m1 84h0m0 42h0m0 914h0m1-1032h0m1 453h0m3 147h0m7-408h0m0 888h0m0-504h0m1-304h0m1-324h0m9 1364h0m0-1272h0m0 1109h0m2-964h0m1 143h0m8-28h0m1 566h0m7-894h0m5 782h0m5-736h0m2-23h0m1 51h0m1 592h0m6 224h0m1-471h0m0-378h0m1 647h0m1-470h0m11 745h0m10-506h0m9-88h0m3 55h0m0 562h0m0-605h0m6-375h0m1 85h0m0 697h0m0 347h0m1-989h0m13 327h0m4-289h0m2-132h0m3 554h0m8 517h0m2-1008h0m2 54h0m1101 38h0m1 864h0m2-959h0m7 817h0m0-911h0m1 939h0m2 307h0m8-290h0m1-883h0m3 1220h0m0-939h0m5-338h0m1 669h0m3 21h0m3 14h0m0-542h0m3 122h0m1-158h0m14-153h0m2 290h0m9 373h0m0-397h0m8 155h0m4 592h0m3-267h0m1-204h0m0-94h0m0 803h0m4-405h0m1 40h0m3-99h0m1 516h0m2-548h0m0-582h0m9 189h0m0-16h0m1-387h0m19 1322h0m4-1024h0m4 941h0m3-878h0m1 215h0m2 346h0m0-306h0m8-502h0m8 479h0m0-414h0m1 443h0m4 200h0m0-125h0m3 95h0m0-489h0m2 937h0m3-904h0m5 864h0m3-614h0m1 122h0m1 558h0m7-437h0m3 235h0m1 286h0m7-202h0m34-607h0m0-528h0m44 751h0m0-649h0m0 1198h0m1-258h0m0-819h0m7 677h0m0 207h0m0-75h0m0 315h0m1-1270h0m0 482h0m0-139h0m0 203h0m1 139h0m7 426h0m0-96h0m0-54h0m0 127h0m1-1073h0m5 54h0m0 85h0m0-181h0m1 421h0m0 519h0m0-642h0m31-208h0m0 1080h0m0-236h0m1-641h0m0-366h0m0 396h0m143 555h0m0-205h0m0-220h0m1-346h0m0 931h0m19-420h0m0-411h0m0 1031h0m0-1060h0m1 529h0m0 580h0m0-1284h0m0 954h0m7-826h0m1 151h0m0-322h0m1 160h0m7 131h0m0 68h0m0-285h0"/><path id="d101" d="m1093 2667h0m3 549h0m12-881h0m2 919h0m19-989h0m4 420h0m5 18h0m7 586h0m3 11h0m3-371h0m1-491h0m28 560h0m5-206h0m11 136h0m38-360h0m936 91h0m8-363h0"/><path id="d102" d="m1112 2507h0m12-440h0m6 1269h0m4-9h0m1-840h0m23 889h0m1 59h0m0-1043h0m15-267h0m7 1017h0m8 215h0m14-1078h0m6 396h0m13-155h0m908-466h0m4 229h0m14 484h0m12-228h0m10-278h0"/><path id="d103" d="m951 2406h0m1 12h0m1 622h0m1-141h0m1 484h0m0-1110h0m1 794h0m2-684h0m6-318h0m1 1090h0m0 33h0m1-482h0m0-559h0m1 1140h0m1-1202h0m0 261h0m6-177h0m1 364h0m10 233h0m2 276h0m11-48h0m1 262h0m5-604h0m1 271h0m2 73h0m1-49h0m7-870h0m4 561h0m7 629h0m0-247h0m3-575h0m9 213h0m0 626h0m1-838h0m10 649h0m0-933h0m1 535h0m1 369h0m8-48h0m1-893h0m5 579h0m3 64h0m10 401h0m4-80h0m9-942h0m1101 526h0m4 340h0m3-485h0m6 902h0m4-744h0m5-100h0m0-183h0m13 758h0m2-626h0m1 573h0m0-437h0m16 665h0m1-990h0m3 318h0m4-447h0m2 885h0m1-1049h0m0 1235h0m4-1003h0m3 345h0m1-257h0m0 100h0m3 517h0m3 415h0m4-1203h0m10 175h0m11-346h0m18 1204h0m2-351h0m3-408h0m4 666h0m5-1098h0m0 21h0m1 1307h0m0-940h0m0 853h0m5-518h0m0 45h0m2-219h0m0-6h0m7 380h0m1-396h0m12 83h0m3 145h0m10-232h0m0 491h0m1-317h0m5 62h0m1-708h0m0 489h0m0-506h0m3 1197h0m42-1036h0m0 571h0m43 488h0m0 103h0m0-438h0m1-415h0m7 276h0m0-769h0m0 821h0m0 452h0m0-543h0m1-84h0m0-359h0m0 935h0m7-1050h0m0 156h0m1 669h0m1 100h0m5 35h0m0-340h0m0-22h0m0 435h0m0-937h0m0 220h0m0-493h0m1 1145h0m0 73h0m31-1230h0m0 878h0m0-227h0m0-528h0m1 1221h0m0-492h0m0-366h0m0 10h0m0 690h0m1-476h0m142-150h0m0 261h0m0 155h0m20-25h0m0-664h0m0-283h0m0 785h0m0-424h0m0-192h0m1 122h0m7 524h0m0 501h0m0 38h0m0-394h0m0-924h0m1 768h0m0 146h0m0 63h0m7-760h0m0-10h0m0-239h0m0 1351h0m1132-1214h0m1 744h0m0 469h0m0-217h0m0-1125h0m0 1052h0m0-635h0m1-235h0"/><path id="d104" d="m919 2352h0m39 111h0m6 419h0m0 93h0m1-276h0m2-675h0m1 970h0m1-614h0m0 362h0m5-28h0m0-633h0m1 825h0m19-7h0m4-448h0m8 109h0m1-384h0m8-76h0m5 458h0m8-381h0m10 343h0m13-376h0m6 697h0m0-13h0m0-53h0m5 271h0m4 1h0m3-795h0m3 920h0m4 179h0m11-661h0m2 92h0m1107 504h0m8-538h0m1-300h0m4 266h0m9-301h0m3 832h0m1-246h0m0-123h0m2-623h0m4 940h0m1-776h0m3 592h0m5-251h0m10 194h0m1-430h0m0 123h0m8-86h0m2 13h0m1 699h0m0-288h0m6-558h0m10 650h0m0-441h0m1-358h0m12 329h0m0 207h0m1-313h0m25 918h0m2-1153h0m1 556h0m0-211h0m1 494h0m5-393h0m3 274h0m1-128h0m0-598h0m2 101h0m8 793h0m2-493h0m4-70h0m2 808h0m0-550h0m3 51h0m9-493h0m1 676h0m1-982h0m8 80h0m10 43h0m3 650h0m39 392h0m0-257h0m1-441h0m0 779h0m0-724h0m0 211h0m0-791h0m0 64h0m1 366h0m44-338h0m0 168h0m0 104h0m1 819h0m6-457h0m0 159h0m2 35h0m6 119h0m1-407h0m0 700h0m0 49h0m1-730h0m6-544h0m32 549h0m143-462h0m0 140h0m1 1006h0m0 24h0m19-1309h0m1 367h0m7-432h0m0 694h0m8 634h0m0-74h0m1-941h0"/><path id="d105" d="m1093 2322h0m2-214h0m3 513h0m4-229h0m2 453h0m13 242h0m3-245h0m0-793h0m1 1091h0m5-680h0m1 322h0m2-682h0m3 143h0m0 483h0m1-363h0m0 923h0m1 120h0m2-644h0m2-130h0m0-20h0m3-158h0m1 772h0m3 89h0m2-367h0m0-679h0m1-61h0m2 487h0m0 187h0m4 537h0m0-202h0m1-28h0m1 36h0m1-312h0m1-155h0m1-358h0m2 445h0m1-111h0m4 70h0m0 280h0m6-506h0m9-93h0m0 12h0m6 620h0m4-547h0m2-283h0m2-140h0m2 224h0m4 576h0m1-408h0m0-373h0m1 6h0m7 512h0m6 445h0m924-575h0m3 47h0m3 333h0m0-553h0m2 82h0m5 539h0m0 102h0m0 118h0m4 47h0m5-522h0m8-255h0m0 96h0m2-495h0m0 417h0m4 27h0m1-76h0m1 51h0m3 503h0m2 287h0m2-515h0"/><path id="d106" d="m1054 2514h0m4-254h0m0 642h0m3-863h0m4 473h0m1-89h0m1 297h0m0 660h0m2 54h0m1-756h0m0-615h0m0 115h0m4 289h0m3-423h0m1 725h0m1 47h0m0-700h0m5 52h0m2 1188h0m0-137h0m6-563h0m2 385h0m3-533h0m4-398h0m1 731h0m3-372h0m0-237h0m1 335h0m4 175h0m1-487h0m5-91h0m1-60h0m1 576h0m1-192h0m6-115h0m0-295h0m0 53h0m2 263h0m1 57h0m1 495h0m5 190h0m5-441h0m0-180h0m8-473h0m0 1162h0m2 42h0m0-481h0m1016-197h0m4 838h0m1-1289h0m7-78h0m1 1005h0m1-366h0m6 541h0m8-15h0m3-308h0m0 409h0m1-27h0"/><path id="d107" d="m1063 2444h0m21-407h0m2 711h0m14-381h0m0 551h0m3 432h0m2-436h0m4-336h0m0-249h0m16 1067h0m1056-798h0m6 607h0m4-13h0"/><path id="d108" d="m931 2488h0m33 111h0m23-516h0m10 655h0m11 508h0m16-703h0m15 189h0m0 462h0m20-861h0m2 346h0m25-546h0m1105 15h0m2 1249h0m7-1295h0m2 1164h0m40-620h0m15 130h0m18-318h0m20 400h0m11-279h0m12 259h0m5 127h0m3 264h0m10-182h0m22 153h0m15-510h0m7-586h0m7 693h0m33 534h0m45-671h0m54 368h0m144-94h0"/><path id="d109" d="m1105 3330h0m5-643h0m3 557h0m3-836h0m0-187h0m3 761h0m2-771h0m1 981h0m1-686h0m5 505h0m0-408h0m4 653h0m16-617h0m3 31h0m0-35h0m2 802h0m2-1123h0m0-246h0m4 1271h0m5-749h0m12-480h0m4 1125h0m6-398h0m1 138h0m1-174h0m1-437h0m1 364h0m2 391h0m7-932h0m1 566h0m3 417h0m2-814h0m3-18h0m1 95h0m10 494h0m915-247h0m5 48h0m0 339h0m1-847h0m3 145h0m4-141h0m11 160h0m3 475h0m6 309h0m3-863h0m2 402h0m3 606h0m2-128h0m0-764h0m2 510h0m0 499h0m2-1320h0m1 1329h0m9-1042h0"/><path id="d110" d="m1098 3047h0m4-412h0m12 387h0m6-708h0m15 459h0m10 225h0m0-369h0m13-280h0m3 940h0m10-1112h0m1-122h0m2 476h0m6 367h0m23 355h0m5-866h0m1 826h0m10-140h0m929-921h0m33 615h0m8 448h0m1-757h0m0 907h0"/><path id="d111" d="m909 2381h0m25 265h0m17-298h0m1 177h0m1-479h0m0 11h0m0 1042h0m2-1036h0m1 521h0m1-62h0m0 211h0m7-315h0m0 502h0m0-494h0m1 642h0m1-57h0m9-943h0m0 808h0m0 401h0m1-699h0m0-214h0m1 418h0m2-423h0m6 1074h0m1-36h0m0-132h0m3 116h0m7-635h0m1-458h0m1 494h0m7-63h0m0-389h0m3 1075h0m1-242h0m0-974h0m7 797h0m0 381h0m1-980h0m0-269h0m1 882h0m8-622h0m1 873h0m1-177h0m0-513h0m10-337h0m0 367h0m1-561h0m0 1095h0m6-567h0m3-223h0m1-13h0m9 678h0m2-620h0m1 129h0m1 836h0m4-88h0m4-765h0m7-84h0m5 570h0m14 47h0m1089-123h0m11 471h0m4-574h0m3-100h0m1-225h0m0 43h0m2 79h0m2 419h0m2-545h0m1 322h0m2 579h0m2-859h0m4 189h0m3 372h0m0 230h0m0-284h0m0 122h0m2-600h0m4 427h0m0-189h0m2 457h0m2-1069h0m0 1012h0m2-952h0m6 1204h0m7 7h0m0-1113h0m0 1086h0m5-947h0m7 760h0m1-781h0m6-148h0m1 218h0m1-124h0m1-189h0m1 526h0m5-111h0m1 243h0m1-67h0m1 476h0m1-827h0m0 72h0m0 893h0m4-586h0m0 127h0m1 428h0m1-1320h0m0 364h0m2 542h0m2-366h0m0-44h0m5 600h0m7 160h0m12-1060h0m1 107h0m1 384h0m1-461h0m0 525h0m0 144h0m1-890h0m1 698h0m8 488h0m1-575h0m0-138h0m1-283h0m6 1189h0m1-1350h0m0 1274h0m1-83h0m1 127h0m0-601h0m1-633h0m5 1025h0m3-758h0m1-353h0m0 563h0m0-46h0m1-461h0m5 532h0m2-553h0m1 879h0m0 148h0m1-663h0m1 58h0m0 437h0m5-199h0m1 247h0m1-948h0m2 588h0m1 516h0m1-150h0m5-774h0m1 761h0m3 234h0m41-1003h0m1 82h0m1 85h0m0 230h0m0 196h0m43 461h0m0-223h0m0-136h0m0-350h0m1-252h0m0-104h0m0 325h0m1 65h0m6-74h0m1 453h0m0-750h0m0 194h0m0 92h0m0 202h0m7-216h0m0 269h0m0 494h0m0-1011h0m1 616h0m0 16h0m1-456h0m5-71h0m0-260h0m0 1038h0m1-526h0m0 274h0m0-304h0m0 413h0m0-215h0m8-593h0m1 39h0m1-131h0m21 921h0m0 269h0m0-168h0m0-587h0m1 729h0m0-1104h0m0 595h0m143-239h0m0 716h0m0 92h0m1 26h0m0-990h0m1-328h0m18 1291h0m0-873h0m0-404h0m1 466h0m0 676h0m1-1070h0m6 1042h0m1-1065h0m0 526h0m1 50h0m5-322h0m0 878h0m0-573h0m1 417h0m0 67h0m0 105h0m0-70h0m1-172h0m0-881h0m0 674h0m0-232h0m0-55h0m1131 456h0m0 7h0m0 99h0m0-92h0m0-575h0m1 869h0m0-1225h0m0 208h0m0 338h0m0 589h0m0-986h0m0-18h0m0 953h0m0-814h0m0 430h0m1 246h0m0-262h0m0-467h0"/><path id="d112" d="m1060 2544h0m0 218h0m5 327h0m2-146h0m4 266h0m0-421h0m12-289h0m3-101h0m4-4h0m3 695h0m2-964h0m5 1232h0m3-540h0m4-673h0m2 1227h0m2-959h0m3-203h0m2 1219h0m2-770h0m1 698h0m3-438h0m0-607h0m3 1092h0m4-1081h0m6 26h0m1036 511h0m4-429h0m6-1h0m1 432h0m4-662h0m2 7h0m9 555h0"/><path id="d113" d="m1065 2736h0m2 183h0m3 203h0m3 179h0m1-619h0m1 490h0m5-925h0m1 272h0m0 406h0m6-608h0m6 538h0m7-67h0m3-221h0m5 610h0m5-576h0m1-447h0m5 1051h0m2-621h0m1-74h0m1-296h0m3 601h0m3 11h0m11-363h0m0 24h0m9 74h0m1021 711h0m5-200h0m11-95h0m1-739h0m0 260h0m1-340h0m1 546h0m5-474h0m1-22h0m2 730h0"/><path id="d114" d="m1063 3010h0m7-744h0m16 356h0m5 11h0m2-387h0m0 964h0m25-245h0m1-734h0m5-6h0m0-155h0m26 1274h0m1021-971h0"/><path id="d115" d="m1050 3341h0m4-1012h0m1 217h0m4 6h0m3 152h0m0 75h0m3-623h0m0 455h0m1-202h0m1 218h0m1 442h0m7 173h0m0-1101h0m0 762h0m0 505h0m0-285h0m1-779h0m1-67h0m0 342h0m2-351h0m1 213h0m2-327h0m0 366h0m2 198h0m2-241h0m0-191h0m0 867h0m3-910h0m3 806h0m2-796h0m0 1188h0m1-635h0m2-155h0m0 666h0m1-960h0m0 78h0m0 206h0m1-221h0m1 242h0m0 54h0m1-537h0m1 415h0m3 675h0m2-450h0m2-108h0m0-86h0m2-553h0m3 516h0m1-150h0m1 84h0m0-383h0m0 1187h0m5-1282h0m2 354h0m2-59h0m6 818h0m1-247h0m0-42h0m1 193h0m0 196h0m5-710h0m2 478h0m0-703h0m3 634h0m5 409h0m0-624h0m8-228h0m1007 415h0m3-53h0m3-398h0m1-209h0m0 10h0m12 734h0m2-300h0m0 619h0m0-1209h0m2 850h0m1-558h0m0 698h0m2-1036h0m1 479h0m0 209h0m1-456h0m0-135h0m2 230h0m0 154h0m1 408h0m0 29h0m0-897h0m0 1062h0m0-109h0m2-904h0m0 802h0m0-526h0m1 888h0m1-183h0"/><path id="d116" d="m952 3007h0m0 80h0m0-859h0m0 57h0m0 198h0m0 247h0m0 457h0m4-433h0m3 608h0m7-217h0m0-361h0m1-378h0m9 1001h0m2-223h0m7-59h0m2 57h0m0-771h0m7 431h0m11-425h0m1 792h0m0-203h0m1-150h0m2-190h0m5-353h0m1 1121h0m2-751h0m1-445h0m6 248h0m3-129h0m11-291h0m1 1101h0m0-171h0m0 109h0m0-610h0m10 311h0m3 376h0m15-44h0m1 205h0m1 39h0m0-1288h0m2 1181h0m5-578h0m1 39h0m2-251h0m3-178h0m5 73h0m1098 361h0m1-117h0m4 447h0m3-591h0m1-157h0m0 18h0m1 993h0m4-1236h0m9 181h0m3 298h0m1 710h0m1-962h0m2 866h0m2-1142h0m1 429h0m11 381h0m2-602h0m1 878h0m0-132h0m0-310h0m10-607h0m5 607h0m8-42h0m2 227h0m1-280h0m1 127h0m5 289h0m6 350h0m3-179h0m3-210h0m2 47h0m0-645h0m4 731h0m2-484h0m0 73h0m5-570h0m5 537h0m1 402h0m5 338h0m0-242h0m1-913h0m13 1184h0m3-951h0m6 677h0m0-984h0m1 747h0m0-21h0m5 136h0m0-917h0m6 618h0m2-304h0m2 314h0m4-301h0m0-251h0m2 313h0m0 667h0m3-172h0m8-916h0m3-15h0m6 1322h0m2-205h0m1-377h0m0-476h0m7 222h0m44 305h0m0-556h0m2 120h0m51-199h0m1 750h0m0-358h0m0-556h0m1 934h0m0-916h0m6 746h0m0 352h0m0-1020h0m1 747h0m0 110h0m6-399h0m0 813h0m0-1196h0m0 146h0m1 722h0m31-307h0m0 365h0m1-906h0m0 212h0m143 969h0m0-126h0m0-1011h0m0 230h0m1 513h0m19-966h0m0 625h0m1 387h0m1 195h0m6-1158h0m0 590h0m0-28h0m1 112h0m0 540h0m0-763h0m6 420h0m1 261h0m0 57h0m1-328h0m1131-224h0m0 484h0m1-1202h0m0 528h0m0 372h0m0-380h0m0 485h0m0 9h0m0-393h0m0 678h0m1-704h0m0 221h0"/><path id="d117" d="m1061 2269h0m20 622h0m2-297h0m5 258h0m17-269h0m12 815h0m6-914h0m1041 480h0m18 434h0m5-1363h0m3 63h0"/><path id="d118" d="m1087 2914h0m11-10h0m4 161h0m1-400h0m4 352h0m6-122h0m1-443h0m4-181h0m3 204h0m0-94h0m6-119h0m6 396h0m1-602h0m1 1312h0m1-485h0m3 274h0m1-622h0m7 107h0m0 494h0m1-43h0m0-238h0m5-380h0m5-33h0m1 476h0m1 495h0m3-267h0m1-823h0m5-290h0m2 32h0m7 851h0m2 64h0m2 149h0m2-443h0m2-220h0m3 953h0m2-1349h0m0 906h0m1-350h0m1-135h0m1 339h0m3-343h0m1-397h0m3 436h0m12 568h0m1-267h0m6-52h0m10 346h0m7-444h0m899-227h0m0 224h0m4-295h0m13-68h0m2 326h0m2 366h0m2-439h0m0 135h0m0-320h0m4 998h0m4-476h0m5-270h0m3 635h0m1 19h0m9-627h0m3 461h0m1 153h0m1-582h0m0-453h0m2 294h0m0-187h0"/><path id="d119" d="m1060 2725h0m1-596h0m0 31h0m5 753h0m2 406h0m1-440h0m6-89h0m1 153h0m1-650h0m6 507h0m0 168h0m2-9h0m4 116h0m0 199h0m0-679h0m2 656h0m2-475h0m4 194h0m5 301h0m1-649h0m3 505h0m0-88h0m3 385h0m0-85h0m1-443h0m0 484h0m1-533h0m6-500h0m1-178h0m5 1176h0m2-644h0m9-659h0m11 879h0m13-831h0m1004 795h0m4 302h0m10-614h0m3 432h0m3-908h0m0 1318h0m1-1081h0m10 76h0m1-206h0m1 43h0m1 994h0m0-722h0m1 391h0"/><path id="d120" d="m893 2998h0m16-576h0m12 145h0m0-17h0m0 476h0m2-829h0m8 609h0m2-481h0m0 94h0m1 900h0m17 36h0m0-292h0m0 115h0m0 94h0m0-12h0m1-309h0m0 276h0m0 88h0m0-758h0m1-253h0m0 892h0m0-1082h0m1 293h0m0 592h0m1 28h0m0 284h0m1-1100h0m0 214h0m0 835h0m1 23h0m2-904h0m0 219h0m5 72h0m0-77h0m0-118h0m0 615h0m1-697h0m0 815h0m1-1037h0m0 335h0m0 917h0m0-377h0m1 288h0m1-1021h0m1 125h0m0-233h0m0 1209h0m6-815h0m1 365h0m0-340h0m2-445h0m0 556h0m6-573h0m0 1273h0m2-925h0m1-90h0m0-348h0m0 505h0m1 695h0m0-61h0m1-815h0m5-315h0m1 892h0m0-445h0m0 746h0m1-1131h0m0 1123h0m0-318h0m2-58h0m1 432h0m6-569h0m1 46h0m1 252h0m1-74h0m0-247h0m0 356h0m0 170h0m6-972h0m0 744h0m2-303h0m0 604h0m1-536h0m1-751h0m1 910h0m0-442h0m0 552h0m0-560h0m0-48h0m0 680h0m0 81h0m0-1068h0m5 1242h0m2-47h0m0-228h0m3 217h0m0-1058h0m0 696h0m1-67h0m0 37h0m9-364h0m0 340h0m6 411h0m2-331h0m1 139h0m0-48h0m0-703h0m0 279h0m3-415h0m6 915h0m0-570h0m0 398h0m0-404h0m2-375h0m1-59h0m2 1030h0m0-418h0m5-4h0m1 579h0m0-54h0m0-660h0m1 190h0m0-436h0m1 656h0m0 321h0m1-708h0m6-381h0m1 182h0m1 808h0m0-105h0m1-647h0m2-410h0m5 900h0m1-526h0m8-250h0m3 988h0m1082-321h0m2 47h0m2-320h0m0 389h0m2-484h0m0-469h0m3 561h0m1 420h0m0 231h0m1-1034h0m0-108h0m1 968h0m1-875h0m0 299h0m1-38h0m0-103h0m1 690h0m5-320h0m1-310h0m0-160h0m4 516h0m0-294h0m3 815h0m0-172h0m1 267h0m1-606h0m0 290h0m0-854h0m1 385h0m1-548h0m0 376h0m0 730h0m2-975h0m3 704h0m0 199h0m0-366h0m1-127h0m0 500h0m1 59h0m1-515h0m1-75h0m0-547h0m0 936h0m1 368h0m1-396h0m0-344h0m3 423h0m1-170h0m0 479h0m1-971h0m2 617h0m1 107h0m4-762h0m0 470h0m2-182h0m0 486h0m2 110h0m2-1040h0m0 165h0m0 596h0m0 191h0m3-503h0m1 592h0m1-605h0m1-303h0m0 205h0m0 238h0m0-670h0m0 860h0m1-345h0m0 694h0m1-967h0m0 785h0m0-236h0m2 272h0m4-378h0m0 666h0m0-72h0m1-812h0m0-413h0m1 24h0m0 1277h0m0-84h0m1-218h0m1-681h0m0 684h0m0-226h0m4-157h0m1-551h0m1 160h0m0 387h0m1-293h0m1 873h0m0-437h0m0-392h0m2-319h0m0 757h0m0-57h0m4 339h0m1-476h0m0-567h0m1 254h0m0 526h0m1 144h0m1-643h0m2 302h0m3 274h0m1 295h0m2-367h0m0-658h0m0-120h0m1 402h0m1-279h0m0 986h0m6-760h0m1-281h0m1 268h0m16 63h0m1-249h0m1 1063h0m2-1018h0m1 286h0m0-206h0m1 790h0m5-791h0m0 18h0m2-110h0m0-148h0m2 289h0m0 335h0m0 302h0m0-743h0m2 518h0m4 33h0m1 71h0m1-804h0m3 1220h0m0-368h0m0 129h0m0-306h0m0 345h0m6-614h0m1 55h0m0-497h0m1 503h0m1-585h0m0 661h0m1-57h0m0-237h0m0 231h0m1-165h0m4-156h0m0 902h0m2-857h0m0 802h0m0 154h0m1-806h0m1-212h0m1 410h0m1 353h0m0-9h0m4-220h0m3-819h0m0 1185h0m1-307h0m0-905h0m1 415h0m1 226h0m0 755h0m5-1159h0m0-42h0m1 1145h0m0-1233h0m0-90h0m1 437h0m1 822h0m1-554h0m0-606h0m1 626h0m1-189h0m39-435h0m0 532h0m0-154h0m1 631h0m0-1021h0m1 613h0m43 89h0m1-330h0m7-81h0m0 91h0m0 838h0m0-857h0m1-319h0m0 310h0m0-208h0m0 137h0m0 704h0m7-505h0m1 699h0m1-507h0m0-506h0m0 332h0m5 724h0m0-382h0m0-635h0m1 1036h0m0-656h0m0 646h0m0-45h0m0-632h0m0 458h0m1-787h0m8 1030h0m1-1057h0m0-26h0m0 790h0m21-793h0m0-9h0m0-130h0m1-112h0m0 1367h0m0-1109h0m0-267h0m143 639h0m0-46h0m0 463h0m0-966h0m1 560h0m0-365h0m0 62h0m20-54h0m0 1020h0m0-858h0m7 253h0m0-303h0m0-19h0m0-286h0m0 329h0m0 753h0m1-456h0m0-228h0m0 111h0m0 612h0m0-1033h0m7 4h0m0 530h0m0-384h0m1 343h0m0 681h0m0-374h0m0-977h0m5 884h0m0 26h0m1126-369h0m1 282h0m0 281h0m0-1134h0m0 508h0"/><path id="d121" d="m910 2041h0m10 1251h0m13-789h0m18 745h0m2-863h0m3-204h0m0-133h0m0 346h0m8 639h0m1-923h0m1 968h0m2-259h0m6 470h0m2-430h0m9 238h0m2-16h0m1-20h0m1-748h0m6 126h0m0-397h0m4 477h0m8-139h0m1 808h0m9-837h0m1 277h0m0-461h0m7 1031h0m1 37h0m4-578h0m8-308h0m1-294h0m10 1160h0m3-1014h0m9 824h0m5 117h0m0-782h0m2 467h0m0-325h0m0 933h0m1-1139h0m3 323h0m9-409h0m5 1129h0m1-138h0m1-765h0m1 612h0m1-346h0m1101 373h0m0 97h0m6-178h0m4-493h0m2 567h0m0-1010h0m0 752h0m2 94h0m5 63h0m2 389h0m3-522h0m5 510h0m0-954h0m1 448h0m1 196h0m1 250h0m6-971h0m11 617h0m6-171h0m1-484h0m0-52h0m3 559h0m1-400h0m5-339h0m1 71h0m2 253h0m5 745h0m4-840h0m0 686h0m2-778h0m5 1188h0m1-1305h0m3 350h0m4 686h0m4-326h0m0 497h0m0-1124h0m1 971h0m30-788h0m1-174h0m4 131h0m11 416h0m0-512h0m1-25h0m9-122h0m20 725h0m0-107h0m0 721h0m1-893h0m3-218h0m2 877h0m50-369h0m0-190h0m0-496h0m1 117h0m43 679h0m0-604h0m1 860h0m0 143h0m0-1212h0m1 946h0m6-440h0m0 719h0m0-210h0m1 48h0m0-26h0m0-514h0m1-109h0m6-225h0m0 907h0m2-219h0m6 290h0m0-162h0m0 122h0m0-956h0m9 1035h0m22-460h0m0-91h0m0 26h0m0-108h0m0-420h0m1 585h0m0 484h0m143-553h0m0-667h0m0 892h0m0 242h0m0-446h0m1-703h0m0 527h0m20 570h0m0 116h0m0-336h0m0-439h0m0 721h0m0-977h0m0-27h0m7 380h0m0 342h0m0 220h0m1-415h0m0 90h0m7-369h0m1-438h0m0 513h0m1132 535h0m0-814h0m1 635h0"/><path id="d122" d="m920 2748h0m31 154h0m0 441h0m1-1277h0m0 201h0m2 889h0m2-1052h0m1 466h0m1 84h0m0-308h0m1-11h0m6 920h0m1-38h0m2-913h0m6 373h0m1 405h0m0-952h0m1 219h0m2 632h0m6-378h0m2 74h0m3 493h0m8-672h0m1-203h0m7 216h0m1 927h0m1-758h0m0 661h0m0-368h0m8-750h0m3 1096h0m8-471h0m0 571h0m1-694h0m3-295h0m8-43h0m7 145h0m6 237h0m7-157h0m1 8h0m11 791h0m1-1005h0m1-282h0m3 625h0m4 268h0m18-732h0m1085 5h0m1 901h0m1-38h0m2-195h0m7 197h0m2-926h0m5-158h0m0 70h0m5 1042h0m1-953h0m6 773h0m3-69h0m3-182h0m1 562h0m1-383h0m3-776h0m7 493h0m1-166h0m1 24h0m1 927h0m3-190h0m0-288h0m10 95h0m0 22h0m1-661h0m10-377h0m1 516h0m7 674h0m1-98h0m0 236h0m1-927h0m0 701h0m3-281h0m3 258h0m2-960h0m1 494h0m8 519h0m0 248h0m0-757h0m15 708h0m15-485h0m3-634h0m1-16h0m8 582h0m2 450h0m5 129h0m1-570h0m2-409h0m3-172h0m6 1145h0m0-822h0m0 622h0m5-717h0m14 672h0m2-384h0m1-616h0m2 175h0m1 142h0m5 426h0m0-385h0m4-204h0m85 660h0m0 468h0m1-247h0m0-618h0m1 566h0m7-961h0m0 211h0m0 337h0m8-435h0m0 18h0m1 208h0m0-25h0m0-72h0m0 881h0m5-529h0m0-187h0m0 842h0m0-1371h0m1 699h0m0-441h0m0 663h0m9 414h0m0-466h0m1-298h0m0-103h0m21 620h0m0-783h0m1 521h0m0 121h0m0-496h0m0-373h0m1 521h0m142-307h0m0-150h0m1 965h0m19-712h0m0 859h0m1-294h0m0-517h0m0 478h0m0-442h0m7 615h0m1-778h0m0 727h0m0 137h0m7-107h0m0 66h0m0-369h0m0-288h0m1-11h0m0 174h0m0 100h0m1131 59h0m1-783h0m0 1311h0m0-781h0m0 39h0m0 291h0m0-520h0"/><path id="d123" d="m1057 2122h0m13 312h0m1 96h0m10-408h0m9 768h0m11-833h0m24 1014h0m16-499h0m9-200h0m1031 898h0m4 93h0"/><path id="d124" d="m909 2072h0m2 99h0m54 189h0m11 402h0m0 249h0m21 212h0m1-565h0m22 291h0m5 352h0m26-312h0m8-740h0m3 883h0m7-16h0m1 134h0m19-6h0m1097-393h0m6-461h0m1-141h0m10 136h0m6 671h0m46-475h0m4-269h0m36 87h0m6 280h0m14 724h0m0-575h0m9-369h0m11 709h0m10 174h0m2-723h0m22-450h0m18 570h0m276-414h0m28 347h0m1141-143h0"/><path id="d125" d="m911 2303h0m8-46h0m67 339h0m0-104h0m3-290h0m6 201h0m1 1031h0m2-325h0m16-915h0m14 318h0m50-122h0m0 666h0m4-162h0m1123-8h0m8-437h0m1-29h0m7-324h0m8 1149h0m20-410h0m27 334h0m2-703h0m1-143h0m16 376h0m19-71h0m1-444h0m3 855h0m36-517h0m4 865h0m107-717h0m218 409h0m8-470h0"/><path id="d126" d="m911 2644h0m8-308h0m1-23h0m0 1087h0m12-14h0m1-1226h0m0 572h0m18-371h0m0 963h0m1-1119h0m0-38h0m0 82h0m0 987h0m1-298h0m2-100h0m0 115h0m0-455h0m1-430h0m0 1261h0m3-998h0m5 1018h0m3-415h0m2 237h0m5-697h0m0 140h0m0 500h0m1-697h0m1 227h0m2 63h0m6 274h0m1-772h0m0 318h0m1 896h0m0-105h0m1-464h0m0-123h0m1-586h0m0 515h0m7 677h0m0-93h0m0 162h0m1-823h0m1 463h0m0-628h0m0 862h0m1-311h0m6 151h0m0 146h0m1-803h0m0 496h0m0-583h0m3 394h0m0 284h0m1 102h0m0-974h0m6 93h0m1 597h0m1 377h0m0 148h0m0-1137h0m1 1116h0m0-1038h0m7 1086h0m2-680h0m0-408h0m2 852h0m0-511h0m1 647h0m8-386h0m1-70h0m7-504h0m0 36h0m0 428h0m0 401h0m1-183h0m0-361h0m1 649h0m2-429h0m1 368h0m1-316h0m0-268h0m4 369h0m0-162h0m1-194h0m3-389h0m0 649h0m0-937h0m2 499h0m3 427h0m4-582h0m0-93h0m1 64h0m0 172h0m1-60h0m6 868h0m11-1069h0m2 607h0m6 19h0m1086-411h0m9 289h0m3 152h0m2 409h0m4-1279h0m1 1241h0m1-75h0m2 54h0m0-528h0m1-562h0m3 983h0m2-1124h0m1 791h0m1-626h0m1 49h0m0 1140h0m6-333h0m2-837h0m1 301h0m0 726h0m2-746h0m1-222h0m5 1153h0m4-965h0m5 234h0m4 523h0m3-540h0m0-108h0m0 407h0m1-178h0m2 461h0m0-1076h0m1 1011h0m5 94h0m0-434h0m0-153h0m3 16h0m0 360h0m1-529h0m0-87h0m0-270h0m1 117h0m6 246h0m1 624h0m9-1073h0m1-29h0m1 193h0m1 486h0m1-150h0m2-274h0m1 42h0m1-92h0m2 518h0m0 608h0m1-142h0m2 74h0m5-1076h0m1 951h0m6-728h0m0 840h0m5 45h0m0-1253h0m0 1081h0m7-192h0m0-553h0m2 856h0m0-554h0m1 293h0m0-465h0m1-354h0m1 1041h0m0-756h0m6-169h0m3 712h0m6-563h0m1-352h0m0 1257h0m1-949h0m0 348h0m2 496h0m1 60h0m1-420h0m0 442h0m1-994h0m5 923h0m2-597h0m1 363h0m0-860h0m1 185h0m1 978h0m4-857h0m3-121h0m2-268h0m0-67h0m4 798h0m2-486h0m0 280h0m1-294h0m2-29h0m2-124h0m5 1121h0m1-79h0m0-1211h0m1 397h0m1 939h0m0-285h0m1-53h0m0 128h0m40-69h0m61-520h0m1 266h0m0-297h0m0 213h0m6-258h0m10 426h0m0-896h0m22 120h0m0 908h0m0-207h0m1 263h0m144 63h0m0-1000h0m19 1093h0m1-411h0m7 244h0m1-566h0m14 628h0"/><path id="d127" d="m1097 2334h0m13 107h0m0-359h0m4 661h0m9-689h0m18 830h0m0-234h0m7-453h0m4 738h0m3 242h0m1-796h0m10 544h0m18-481h0m28 495h0m934-116h0m8-234h0m4 300h0m22 59h0m2-869h0m9 925h0"/><path id="d128" d="m1057 2619h0m0 236h0m1 397h0m0-1073h0m2 755h0m4-68h0m7 229h0m5-205h0m3-13h0m1-409h0m2 377h0m1-791h0m2 725h0m1 423h0m0-923h0m3 1069h0m2-1251h0m2 408h0m12-27h0m0 709h0m4-1026h0m4 316h0m4 598h0m4-50h0m4 141h0m2-461h0m0-45h0m7 534h0m3-82h0m11 113h0m1015-536h0m11 184h0m8 165h0m3-360h0m1 574h0m1 168h0m6-893h0m0-252h0m0-85h0m2 162h0m2-192h0"/><path id="d129" d="m1054 3016h0m9-832h0m1 953h0m1 37h0m1-519h0m2-396h0m0 133h0m5 960h0m3-648h0m5 533h0m1-814h0m5 654h0m2-197h0m1-139h0m0 429h0m1-648h0m1 292h0m0 378h0m5-993h0m1 566h0m0 116h0m7-54h0m0 145h0m1-907h0m0 239h0m2 291h0m0-8h0m1 547h0m1 275h0m0-455h0m3-555h0m1 338h0m10 110h0m7-319h0m0-166h0m2 456h0m5 201h0m5-340h0m7 421h0m3 189h0m8-630h0m1003 713h0m11-467h0m2-456h0m0 968h0m6 15h0m2-52h0m2-511h0m1-718h0m3 1075h0m4-538h0m2-45h0"/><path id="d130" d="m958 2738h0m7 37h0m10 311h0m4-338h0m20-272h0m10-369h0m29 598h0m1 367h0m0-62h0m32-923h0m1121 699h0m3 618h0m13-1362h0m6 868h0m54-129h0m2-642h0m4 750h0m12 29h0m15-55h0m6-515h0m7 943h0m2-358h0m8 373h0m1-1028h0m1 162h0m7 2h0m12-170h0m2 274h0m6 511h0m14-810h0m1-121h0m1 710h0m7-236h0m4 554h0m100-411h0m17-364h0m167 447h0m34-397h0"/><path id="d131" d="m1069 2963h0m0-369h0m5 420h0m5-28h0m2-121h0m10 533h0m25-477h0m14 111h0m0 238h0m13-933h0m12-158h0m1039 919h0"/><path id="d132" d="m1050 2605h0m3-95h0m4-152h0m0 569h0m0-511h0m0 669h0m6-758h0m0-87h0m2 665h0m1-817h0m0 891h0m2-619h0m1 12h0m1-201h0m0 757h0m0 379h0m1 118h0m0-10h0m3-210h0m0-137h0m1-1004h0m1-25h0m0 600h0m0 227h0m1-541h0m1 1042h0m1-993h0m3-263h0m0 117h0m1 419h0m1-73h0m1 623h0m2-20h0m3-502h0m0-277h0m1 143h0m1-85h0m0-379h0m2 855h0m0-776h0m1 167h0m0 443h0m0-351h0m2-147h0m1 457h0m2-338h0m1 940h0m1 44h0m1-1184h0m2 751h0m1 341h0m1-517h0m0 465h0m0-1150h0m2 729h0m1 263h0m0-671h0m1 953h0m3-97h0m1-892h0m1 951h0m0-1108h0m1 636h0m0 343h0m1-614h0m0 347h0m3-669h0m1 940h0m0 99h0m1-280h0m0-50h0m1-343h0m0 154h0m1 513h0m0-279h0m4-484h0m0 87h0m1-488h0m3 1321h0m0-1110h0m6 454h0m0-670h0m0 1222h0m1-906h0m1 836h0m0-626h0m2-567h0m2 239h0m1 835h0m3-555h0m1 798h0m13-20h0m1001-403h0m3-500h0m2 502h0m1 47h0m0-240h0m1 562h0m2-586h0m0 472h0m1-603h0m0 174h0m1 487h0m1-1032h0m1 741h0m1-812h0m1 411h0m0 521h0m1 323h0m0-1099h0m2 500h0m0-617h0m0 39h0m2 355h0m0-352h0m0 1130h0m2-85h0m2-518h0m0-20h0m2 285h0m1-657h0m0-153h0m0 407h0m1 608h0m1-782h0m1 861h0m1-290h0m0-583h0m1 825h0m0-1101h0"/><path id="d133" d="m1091 2304h0m1 438h0m2-333h0m4 154h0m9-476h0m3 1046h0m3-961h0m1 929h0m2-549h0m5 128h0m0 569h0m0-195h0m1 289h0m2-331h0m2-408h0m1-170h0m0 200h0m1 647h0m7-7h0m1-493h0m1-68h0m7 301h0m1-356h0m16-594h0m4 839h0m1-690h0m5 565h0m2-260h0m1 484h0m2-217h0m7-390h0m3 773h0m1 81h0m3-1095h0m2 634h0m2-442h0m9 1057h0m2-262h0m2-505h0m14 225h0m5-553h0m5 722h0m898-378h0m11-569h0m5 1296h0m12-1187h0m8-3h0m3 270h0m6 869h0m1-56h0m1-923h0m5 127h0m2 21h0m0-145h0m0 894h0m6-99h0"/><path id="d134" d="m1094 3009h0m0 111h0m3-61h0m2-532h0m0 834h0m1-863h0m0 46h0m2-368h0m1 385h0m2 735h0m2-177h0m1-957h0m0-37h0m1-54h0m1 1252h0m0-1089h0m1 727h0m0 393h0m4-136h0m1-1001h0m2 1102h0m1-517h0m2-363h0m1-64h0m0 661h0m0-949h0m1 836h0m1 124h0m1-599h0m1 613h0m1-74h0m1-820h0m1 14h0m1 104h0m0 1022h0m1-425h0m0-115h0m3-705h0m0 1128h0m1-324h0m0-177h0m4-538h0m1 198h0m3 1072h0m4-266h0m0 219h0m2-345h0m1 49h0m3 106h0m1-192h0m3-757h0m1 581h0m0-403h0m4 21h0m1-52h0m4 194h0m0 334h0m1-470h0m0 703h0m2-742h0m1 336h0m8 452h0m4-801h0m1 797h0m1-274h0m7-396h0m2 304h0m3 384h0m1-890h0m2 202h0m8 15h0m6-119h0m0-79h0m1 287h0m13-536h0m4 444h0m0-265h0m3 714h0m5-786h0m884 537h0m12-594h0m1 103h0m2 659h0m6-559h0m0-9h0m3-238h0m2 811h0m3 218h0m0-1047h0m0 881h0m2-185h0m0 378h0m1 20h0m1-642h0m2-422h0m1 911h0m3-866h0m0-16h0m1 1276h0m2-1149h0m0 1022h0m0-868h0m0 517h0m3-821h0m4 243h0m0 544h0m1-753h0m1 412h0m2 165h0m3 531h0m1-944h0m3 610h0m3 508h0m0-1348h0m2 935h0m3-863h0"/><path id="d135" d="m920 2651h0m12 722h0m22-750h0m21 532h0m11-1120h0m10 755h0m2-303h0m6 13h0m1 895h0m10-283h0m1-741h0m9-162h0m3 201h0m1 771h0m10-785h0m11-53h0m1 383h0m7-64h0m12 459h0m0-268h0m11-520h0m7-289h0m0 344h0m1-68h0m0 219h0m1096 36h0m3 712h0m2-583h0m6 246h0m1-73h0m14-136h0m0 601h0m1-716h0m11 379h0m4 211h0m2-780h0m2 490h0m1-457h0m5 797h0m0-1142h0m1 1244h0m0-352h0m3-668h0m14 579h0m0 154h0m11-167h0m3-879h0m0 807h0m0-772h0m6 730h0m1-252h0m30 556h0m0-27h0m1-332h0m5-438h0m0 469h0m2-274h0m2-212h0m1 806h0m1-1005h0m1 830h0m6-625h0m11 310h0m1 592h0m0-798h0m7-84h0m12 702h0m7-801h0m12-167h0m2 1378h0m1-438h0m1 276h0m8-663h0m33-120h0m44 777h0m0-1116h0m1 470h0m0 313h0m0-390h0m8 433h0m0 349h0m0-929h0m7 420h0m1 552h0m0 72h0m0-1070h0m7 224h0m31-480h0m145 556h0m19-221h0m9 331h0m0-733h0m8 784h0m1132-78h0"/><path id="d136" d="m1060 2652h0m6 364h0m3-142h0m0-188h0m0-541h0m10 502h0m2-449h0m3 149h0m1-109h0m7 225h0m2-161h0m0 500h0m1 376h0m5-59h0m6-112h0m1-760h0m6 967h0m3-928h0m15 671h0m8-888h0m4 54h0m12 262h0m1009 30h0m9 192h0m5-370h0m10 827h0m3-839h0m4 881h0m1 112h0"/><path id="d137" d="m1051 2215h0m0 171h0m3-303h0m3 958h0m3 291h0m0-898h0m11 368h0m0-422h0m6 243h0m3 296h0m2-243h0m4 705h0m0-470h0m5 229h0m11-325h0m0-780h0m7 147h0m2 962h0m0 24h0m3-53h0m1-398h0m0 559h0m0-634h0m10-194h0m12 261h0m1-681h0m1 1255h0m2-613h0m2-307h0m1025 567h0m8-258h0m1 561h0m9-886h0m3 594h0m1 241h0m1-252h0m0-453h0m0 238h0m2-147h0m2 860h0m1-733h0m1 125h0"/><path id="d138" d="m1104 3435h0m8-981h0m3 424h0m6-429h0m15 150h0m9 153h0m11-650h0m1 83h0m7 1190h0m3-1162h0m49 606h0m943-736h0m1 1087h0m5-956h0m5 229h0m3-9h0m6 479h0m10-262h0"/><path id="d139" d="m1087 3118h0m5-523h0m0 484h0m2-887h0m4 640h0m1-575h0m1 104h0m1 912h0m5-193h0m1 109h0m1-17h0m0-911h0m1 805h0m0 110h0m3-393h0m0-520h0m2-209h0m0 552h0m0 216h0m2 328h0m1-714h0m0-81h0m1 140h0m2 511h0m1-395h0m1 184h0m1-745h0m2 717h0m0 668h0m3-387h0m0-164h0m2 410h0m1-1076h0m1 317h0m1 900h0m1-1114h0m0 196h0m1-341h0m0 750h0m4-457h0m2 517h0m0-282h0m2-231h0m3 435h0m1-518h0m0 1040h0m1-1174h0m1 940h0m1-271h0m1-581h0m1 570h0m2-639h0m0 1057h0m1-1073h0m1 31h0m3 298h0m1 236h0m3 47h0m3-195h0m2-118h0m3 537h0m1-864h0m1 222h0m2 844h0m0-867h0m1 708h0m1-82h0m1-256h0m3-220h0m0 132h0m2-526h0m0 1235h0m1-781h0m2 505h0m4-866h0m4 395h0m1 648h0m1-1275h0m1 583h0m1 388h0m0-396h0m0-416h0m0 910h0m3 117h0m1-1032h0m1 732h0m1-21h0m0-38h0m2 428h0m2-212h0m0-150h0m3-289h0m2 358h0m3 9h0m0-88h0m18-386h0m1-118h0m2-351h0m897 1238h0m1-645h0m3-276h0m1 585h0m1-81h0m3-813h0m0 1090h0m1 177h0m1-399h0m2-893h0m1 142h0m1 869h0m1-395h0m3 246h0m2-487h0m1-233h0m0 1077h0m3-741h0m0 257h0m1 417h0m1-129h0m0-686h0m0-175h0m2 517h0m0 360h0m0 342h0m0-1209h0m2 1034h0m0-258h0m1-337h0m0-229h0m1 625h0m1-976h0m2 1303h0m6-925h0m1 79h0m0 471h0m1 173h0m1-163h0m7-758h0m1 517h0"/><path id="d140" d="m1093 2764h0m1 391h0m9 199h0m9-54h0m1-99h0m1-872h0m1 334h0m4-452h0m1 326h0m7-229h0m1 326h0m1 745h0m0-901h0m5 79h0m3-374h0m4 366h0m4-405h0m2 371h0m2 538h0m1-614h0m4 864h0m4-1052h0m2-51h0m3 468h0m0 373h0m22 182h0m0-589h0m0 285h0m7-806h0m2 604h0m3-568h0m6 792h0m1-465h0m4 225h0m15 174h0m1-7h0m911-639h0m1 950h0m8-1092h0m6 669h0m3-223h0m6 506h0m1-631h0m1 889h0m0-918h0m1 491h0m5-559h0m0 132h0m2 965h0m3-193h0m3-431h0m5 217h0m5-514h0m5 334h0m2-502h0"/><path id="d141" d="m1094 2087h0m2 783h0m3-77h0m6-673h0m4 515h0m1-24h0m1 215h0m3-470h0m1 1061h0m1-948h0m1 603h0m3-475h0m0-369h0m9 977h0m10-970h0m10-163h0m1 544h0m3 129h0m1 90h0m5 253h0m1-461h0m12 218h0m2-457h0m18 79h0m10 406h0m9-8h0m12-597h0m904 926h0m9-938h0m3-54h0m5 427h0m0-512h0m1 479h0m6 259h0m0-399h0m0-170h0m2 626h0m2 514h0m1-125h0m3-1076h0m2 474h0m3 189h0m2-366h0m4 261h0m1 190h0m5-805h0m5 1100h0m1-976h0m1 350h0m1 104h0m0-607h0m3 747h0m2 192h0"/><path id="d142" d="m1065 2120h0m1 985h0m31-1012h0m4 841h0m2-788h0m2 843h0m2 408h0m2-634h0m28-36h0m3-521h0m8 739h0m10-684h0m1013-118h0m3 563h0m7 590h0m9-914h0"/><path id="d143" d="m934 3362h0m17-1206h0m0 1262h0m15-651h0m20 146h0m1-447h0m12 680h0m30-474h0m29-279h0m20-119h0m0 811h0m4 356h0m8-1364h0m1134 244h0m6-73h0m18 500h0m3-427h0m4 340h0m3-409h0m10 1048h0m14-744h0m4-526h0m8 460h0m19-381h0m1 866h0m10-355h0m34 666h0m1-154h0m115-439h0m15 446h0m174-305h0m20-747h0m1-55h0m7 305h0m0 595h0m1141-476h0"/></defs><rect x="261.5" y="69.5" width="288.0" height="354.0" fill="#fad524"/><rect x="261.5" y="69.5" width="288.0" height="354.0" fill="#fad524" filter="url(#nt)"/><g transform="translate(0,-436.85) scale(0.25)" stroke-linecap="round" fill="none"><use href="#d0" stroke="#f9dc24" stroke-width="15.6"/><use href="#d1" stroke="#fdb42f" stroke-width="15.6"/><use href="#d2" stroke="#f8df25" stroke-width="8.0"/><use href="#d3" stroke="#fbd324" stroke-width="12.0"/><use href="#d4" stroke="#fcd225" stroke-width="12.0"/><use href="#d5" stroke="#fada24" stroke-width="8.0"/><use href="#d6" stroke="#fcd225" stroke-width="15.6"/><use href="#d7" stroke="#fbd724" stroke-width="12.0"/><use href="#d8" stroke="#fbd724" stroke-width="12.0"/><use href="#d9" stroke="#fccd25" stroke-width="12.0"/><use href="#d10" stroke="#fdc627" stroke-width="12.0"/><use href="#d11" stroke="#fbd524" stroke-width="15.6"/><use href="#d12" stroke="#f9dc24" stroke-width="12.0"/><use href="#d13" stroke="#f8df25" stroke-width="8.0"/><use href="#d14" stroke="#fbd324" stroke-width="12.0"/><use href="#d15" stroke="#f9dc24" stroke-width="12.0"/><use href="#d16" stroke="#fada24" stroke-width="12.0"/><use href="#d17" stroke="#fbd724" stroke-width="8.0"/><use href="#d18" stroke="#fada24" stroke-width="8.0"/><use href="#d19" stroke="#fada24" stroke-width="8.0"/><use href="#d20" stroke="#fcce25" stroke-width="15.6"/><use href="#d21" stroke="#fbd724" stroke-width="12.0"/><use href="#d22" stroke="#fbd324" stroke-width="8.0"/><use href="#d23" stroke="#fbd324" stroke-width="15.6"/><use href="#d24" stroke="#f9dd25" stroke-width="8.0"/><use href="#d25" stroke="#fbd524" stroke-width="15.6"/><use href="#d26" stroke="#fdc627" stroke-width="12.0"/><use href="#d27" stroke="#f9dc24" stroke-width="15.6"/><use href="#d28" stroke="#fbd524" stroke-width="8.0"/><use href="#d29" stroke="#fbd324" stroke-width="8.0"/><use href="#d30" stroke="#f9dd25" stroke-width="8.0"/><use href="#d31" stroke="#f9dd25" stroke-width="8.0"/><use href="#d32" stroke="#fada24" stroke-width="8.0"/><use href="#d33" stroke="#fbd324" stroke-width="12.0"/><use href="#d34" stroke="#f8e125" stroke-width="15.6"/><use href="#d35" stroke="#fbd724" stroke-width="12.0"/><use href="#d36" stroke="#fbd524" stroke-width="15.6"/><use href="#d37" stroke="#fada24" stroke-width="15.6"/><use href="#d38" stroke="#f9dd25" stroke-width="15.6"/><use href="#d39" stroke="#fad824" stroke-width="8.0"/><use href="#d40" stroke="#fbd724" stroke-width="8.0"/><use href="#d41" stroke="#fdc827" stroke-width="15.6"/><use href="#d42" stroke="#f9dd25" stroke-width="8.0"/><use href="#d43" stroke="#fbd724" stroke-width="12.0"/><use href="#d44" stroke="#f9dc24" stroke-width="15.6"/><use href="#d45" stroke="#fad824" stroke-width="12.0"/><use href="#d46" stroke="#fbd524" stroke-width="15.6"/><use href="#d47" stroke="#fcd225" stroke-width="15.6"/><use href="#d48" stroke="#fdc827" stroke-width="12.0"/><use href="#d49" stroke="#fad824" stroke-width="15.6"/><use href="#d50" stroke="#fad824" stroke-width="8.0"/><use href="#d51" stroke="#fbd324" stroke-width="15.6"/><use href="#d52" stroke="#f9dd25" stroke-width="12.0"/><use href="#d53" stroke="#fbd724" stroke-width="8.0"/><use href="#d54" stroke="#fbd324" stroke-width="12.0"/><use href="#d55" stroke="#fdcb26" stroke-width="15.6"/><use href="#d56" stroke="#fbd324" stroke-width="8.0"/><use href="#d57" stroke="#f8df25" stroke-width="12.0"/><use href="#d58" stroke="#fbd524" stroke-width="8.0"/><use href="#d59" stroke="#fbd524" stroke-width="8.0"/><use href="#d60" stroke="#f9dd25" stroke-width="15.6"/><use href="#d61" stroke="#f8df25" stroke-width="12.0"/><use href="#d62" stroke="#fbd724" stroke-width="12.0"/><use href="#d63" stroke="#fbd724" stroke-width="8.0"/><use href="#d64" stroke="#fbd324" stroke-width="12.0"/><use href="#d65" stroke="#fad824" stroke-width="12.0"/><use href="#d66" stroke="#fbd724" stroke-width="8.0"/><use href="#d67" stroke="#fad824" stroke-width="15.6"/><use href="#d68" stroke="#f9dc24" stroke-width="12.0"/><use href="#d69" stroke="#fcd025" stroke-width="8.0"/><use href="#d70" stroke="#fdcb26" stroke-width="15.6"/><use href="#d71" stroke="#fad824" stroke-width="15.6"/><use href="#d72" stroke="#f8e125" stroke-width="8.0"/><use href="#d73" stroke="#fada24" stroke-width="15.6"/><use href="#d74" stroke="#fada24" stroke-width="8.0"/><use href="#d75" stroke="#fad824" stroke-width="15.6"/><use href="#d76" stroke="#fdc527" stroke-width="15.6"/><use href="#d77" stroke="#fada24" stroke-width="15.6"/><use href="#d78" stroke="#fbd524" stroke-width="8.0"/><use href="#d79" stroke="#f9dc24" stroke-width="8.0"/><use href="#d80" stroke="#fbd324" stroke-width="15.6"/><use href="#d81" stroke="#f8e125" stroke-width="12.0"/><use href="#d82" stroke="#fbd724" stroke-width="15.6"/><use href="#d83" stroke="#fad824" stroke-width="12.0"/><use href="#d84" stroke="#f8df25" stroke-width="12.0"/><use href="#d85" stroke="#f9dd25" stroke-width="15.6"/><use href="#d86" stroke="#f9dc24" stroke-width="15.6"/><use href="#d87" stroke="#f9dd25" stroke-width="12.0"/><use href="#d88" stroke="#fbd724" stroke-width="8.0"/><use href="#d89" stroke="#fbd524" stroke-width="8.0"/><use href="#d90" stroke="#f9dd25" stroke-width="8.0"/><use href="#d91" stroke="#fbd324" stroke-width="12.0"/><use href="#d92" stroke="#fbd324" stroke-width="8.0"/><use href="#d93" stroke="#fdae32" stroke-width="12.0"/><use href="#d94" stroke="#f9dd25" stroke-width="15.6"/><use href="#d95" stroke="#f8df25" stroke-width="12.0"/><use href="#d96" stroke="#fada24" stroke-width="8.0"/><use href="#d97" stroke="#fada24" stroke-width="15.6"/><use href="#d98" stroke="#f9dd25" stroke-width="8.0"/><use href="#d99" stroke="#fdc527" stroke-width="8.0"/><use href="#d100" stroke="#fbd524" stroke-width="15.6"/><use href="#d101" stroke="#f9dd25" stroke-width="8.0"/><use href="#d102" stroke="#f8df25" stroke-width="8.0"/><use href="#d103" stroke="#fad824" stroke-width="15.6"/><use href="#d104" stroke="#f9dd25" stroke-width="15.6"/><use href="#d105" stroke="#fdac33" stroke-width="8.0"/><use href="#d106" stroke="#fbd324" stroke-width="12.0"/><use href="#d107" stroke="#f9dc24" stroke-width="12.0"/><use href="#d108" stroke="#fada24" stroke-width="15.6"/><use href="#d109" stroke="#fbd724" stroke-width="8.0"/><use href="#d110" stroke="#fada24" stroke-width="8.0"/><use href="#d111" stroke="#f9dd25" stroke-width="15.6"/><use href="#d112" stroke="#f8e125" stroke-width="12.0"/><use href="#d113" stroke="#fbd724" stroke-width="12.0"/><use href="#d114" stroke="#fada24" stroke-width="12.0"/><use href="#d115" stroke="#fada24" stroke-width="12.0"/><use href="#d116" stroke="#f9dd25" stroke-width="15.6"/><use href="#d117" stroke="#fbd524" stroke-width="12.0"/><use href="#d118" stroke="#fbd324" stroke-width="8.0"/><use href="#d119" stroke="#fbd524" stroke-width="12.0"/><use href="#d120" stroke="#fada24" stroke-width="15.6"/><use href="#d121" stroke="#f9dc24" stroke-width="15.6"/><use href="#d122" stroke="#f9dc24" stroke-width="15.6"/><use href="#d123" stroke="#f9dd25" stroke-width="12.0"/><use href="#d124" stroke="#f9dc24" stroke-width="15.6"/><use href="#d125" stroke="#fad824" stroke-width="15.6"/><use href="#d126" stroke="#fcd225" stroke-width="15.6"/><use href="#d127" stroke="#fbd524" stroke-width="8.0"/><use href="#d128" stroke="#fad824" stroke-width="12.0"/><use href="#d129" stroke="#fada24" stroke-width="12.0"/><use href="#d130" stroke="#f9dc24" stroke-width="15.6"/><use href="#d131" stroke="#fbd324" stroke-width="12.0"/><use href="#d132" stroke="#fada24" stroke-width="12.0"/><use href="#d133" stroke="#fbd324" stroke-width="8.0"/><use href="#d134" stroke="#f8df25" stroke-width="8.0"/><use href="#d135" stroke="#f8df25" stroke-width="15.6"/><use href="#d136" stroke="#fada24" stroke-width="12.0"/><use href="#d137" stroke="#fad824" stroke-width="12.0"/><use href="#d138" stroke="#fccd25" stroke-width="8.0"/><use href="#d139" stroke="#fad824" stroke-width="8.0"/><use href="#d140" stroke="#fbd724" stroke-width="8.0"/><use href="#d141" stroke="#fbd724" stroke-width="8.0"/><use href="#d142" stroke="#f9dd25" stroke-width="12.0"/><use href="#d143" stroke="#fbd724" stroke-width="15.6"/></g><g stroke-linecap="round" stroke-width="4.35" fill="none"><path d="M730.3 249.4h0M765.3 265.4h0M794.8 230.4h0M781.7 260.6h0M802.5 258.6h0M798.8 268.4h0M710.5 271.9h0M702.7 279.9h0M721.7 276.6h0M725.0 277.4h0M742.0 279.4h0M766.3 272.4h0M775.5 283.4h0M823.0 280.9h0M706.5 288.4h0M716.0 293.4h0M725.3 291.4h0M748.3 286.4h0M757.0 296.1h0M836.3 287.4h0M762.2 306.1h0M681.3 321.6h0M678.3 329.1h0M688.5 329.4h0M751.0 327.4h0M791.3 326.4h0M793.3 329.6h0M797.2 325.4h0M821.7 314.6h0M676.0 339.4h0M796.3 356.6h0M682.5 366.9h0M729.8 384.9h0M681.4 393.9h0M682.7 393.9h0M764.1 393.9h0M765.4 393.9h0M884.2 227.4h0M887.0 233.4h0M961.2 210.1h0M983.0 240.9h0M996.5 238.4h0M981.3 245.6h0M951.3 246.9h0M971.8 251.8h0M963.0 259.1h0M878.5 263.9h0M874.0 266.6h0M924.0 283.5h0M940.8 278.4h0M1029.5 252.9h0M1012.0 268.6h0M871.0 285.6h0M893.2 286.4h0M992.7 299.6h0M1001.2 315.1h0M937.5 331.6h0M899.8 338.1h0M1004.8 326.9h0M1033.8 321.1h0M1031.2 325.9h0M1029.2 328.1h0M974.0 337.2h0M973.0 342.4h0M990.0 338.0h0M1004.8 339.4h0M1011.8 340.9h0M956.0 352.1h0M972.0 364.1h0M1022.3 368.6h0M993.0 375.8h0M882.5 393.6h0M901.6 393.6h0M1616.0 393.6h0M640.6 237.2h0M608.4 80.1h0M640.6 255.4h0M658.0 293.9h0M640.2 297.1h0M658.0 341.8h0M640.6 401.0h0M607.5 342.6h0M612.5 320.6h0M598.6 274.9h0M598.2 407.6h0" stroke="#fcd225"/><path d="M739.7 255.6h0M777.3 231.6h0M781.2 248.1h0M797.3 246.5h0M823.8 275.1h0M681.5 294.4h0M869.5 285.1h0M689.2 309.9h0M704.0 326.1h0M766.8 327.4h0M777.5 326.5h0M831.8 325.1h0M842.7 324.5h0M853.5 335.5h0M713.3 367.6h0M676.8 379.4h0M818.3 379.6h0M944.5 229.6h0M941.5 235.4h0M1003.0 229.4h0M978.8 237.6h0M1014.5 240.5h0M955.8 251.4h0M936.0 254.2h0M933.3 261.5h0M946.5 263.4h0M890.5 262.9h0M879.0 266.9h0M891.8 268.6h0M890.3 279.9h0M917.5 273.9h0M963.8 277.4h0M991.0 262.9h0M1028.8 255.6h0M886.5 286.9h0M955.0 289.6h0M986.5 286.9h0M997.7 294.6h0M950.0 296.1h0M965.5 299.6h0M960.5 312.9h0M899.3 323.5h0M909.8 339.4h0M1034.5 323.6h0M1025.8 336.9h0M1025.5 341.4h0M1034.7 363.4h0M992.0 374.8h0M900.0 383.9h0M904.6 393.6h0M911.3 393.6h0M948.3 393.6h0M1011.0 393.6h0M640.6 105.4h0M640.6 163.4h0M607.5 116.5h0M661.1 272.4h0M659.7 274.4h0M638.5 311.6h0M641.7 369.5h0M640.6 385.4h0M609.3 335.5h0M612.8 331.1h0M597.5 265.1h0" stroke="#fdc229"/><path d="M677.5 242.4h0M695.3 249.1h0M719.3 251.6h0M742.0 262.4h0M848.8 253.4h0M732.5 271.0h0M826.3 278.4h0M842.5 275.4h0M790.3 292.4h0M843.2 287.4h0M703.0 329.9h0M726.5 328.1h0M816.5 320.1h0M868.5 334.9h0M789.5 344.5h0M781.8 369.1h0M1025.0 203.9h0M955.2 224.9h0M993.5 247.9h0M926.3 249.9h0M899.0 260.9h0M893.5 277.4h0M978.5 279.9h0M980.0 278.9h0M991.5 258.4h0M993.5 260.1h0M994.5 276.9h0M1027.7 262.6h0M1013.7 266.9h0M1018.5 280.4h0M1033.2 277.9h0M941.0 286.4h0M975.5 285.4h0M996.5 285.4h0M992.0 290.6h0M1026.0 288.9h0M966.8 316.1h0M951.5 319.6h0M1000.6 313.4h0M887.7 318.9h0M880.8 323.1h0M906.0 324.1h0M924.0 319.8h0M884.5 328.6h0M902.0 331.1h0M1006.3 324.4h0M1003.0 331.9h0M1018.5 327.9h0M1021.0 343.6h0M947.8 349.2h0M891.3 394.6h0M925.3 393.4h0M998.3 393.9h0M1616.2 301.4h0M640.6 160.6h0M608.4 141.4h0M634.1 258.1h0M640.6 332.9h0M598.0 252.4h0" stroke="#fdae32"/><path d="M702.0 259.8h0M762.7 259.6h0M703.8 274.9h0M728.2 280.9h0M778.2 272.1h0M682.2 282.5h0M777.3 304.1h0M728.0 326.9h0M761.3 323.6h0M830.5 343.5h0M840.0 350.1h0M954.8 233.9h0M1014.7 245.9h0M886.8 250.1h0M962.5 254.6h0M922.0 258.1h0M946.5 274.1h0M967.5 272.4h0M976.5 270.4h0M966.2 290.4h0M980.8 289.9h0M1000.0 290.9h0M1005.3 294.1h0M1018.3 293.6h0M881.5 301.6h0M979.3 319.9h0M954.3 356.9h0M952.0 377.6h0M936.0 393.6h0M970.2 393.6h0M639.0 233.8h0M651.4 267.4h0M597.8 311.9h0M597.8 337.1h0" stroke="#f9983e"/><path d="M702.0 261.5h0M719.7 254.9h0M752.8 246.4h0M818.3 243.5h0M818.3 272.4h0M829.0 283.1h0M858.3 275.4h0M763.5 334.4h0M828.0 328.6h0M830.0 326.6h0M679.5 359.6h0M737.8 376.4h0M783.0 382.5h0M993.0 238.6h0M927.2 243.9h0M902.5 275.9h0M1010.8 271.6h0M936.0 295.9h0M949.5 313.4h0M926.4 394.5h0M640.6 117.9h0M646.4 117.2h0M640.6 317.9h0M640.6 319.8h0" stroke="#f0804e"/><path d="M770.8 273.4h0M683.5 331.6h0M917.5 221.9h0M928.3 231.2h0M939.8 257.6h0M921.0 259.9h0M883.3 271.9h0M905.0 295.9h0M641.7 299.2h0M640.6 362.9h0M633.2 318.8h0" stroke="#e16462"/></g></g>
<g clip-path="url(#c2)"><rect x="261.5" y="506.5" width="288.0" height="354.0" fill="#7c4e42"/><rect x="261.5" y="506.5" width="288.0" height="354.0" fill="#7c4e42" filter="url(#nb)"/><g mask="url(#mkl)"><rect x="262" y="506.5" width="100" height="354.0" fill="#7c4e42" filter="url(#nc)"/></g><g mask="url(#mkr)"><rect x="470" y="506.5" width="79.5" height="354.0" fill="#7c4e42" filter="url(#nc)"/></g><rect x="261.5" y="506.5" width="288.0" height="354.0" fill="#000" filter="url(#st)" opacity="0.55"/><rect x="261.5" y="506.5" width="288.0" height="354.0" fill="#000" filter="url(#sy)" opacity="0.45"/><g transform="scale(0.25)" stroke-linecap="round" fill="none"><use href="#d0" stroke="#0000d6" stroke-width="15.6"/><use href="#d1" stroke="#ff8600" stroke-width="15.6"/><use href="#d2" stroke="#13fce4" stroke-width="8.0"/><use href="#d3" stroke="#bb0000" stroke-width="12.0"/><use href="#d4" stroke="#0018ff" stroke-width="12.0"/><use href="#d5" stroke="#000080" stroke-width="8.0"/><use href="#d6" stroke="#ff3400" stroke-width="15.6"/><use href="#d7" stroke="#0078ff" stroke-width="12.0"/><use href="#d8" stroke="#0000cd" stroke-width="12.0"/><use href="#d9" stroke="#ff3400" stroke-width="12.0"/><use href="#d10" stroke="#8dff6a" stroke-width="12.0"/><use href="#d11" stroke="#0020ff" stroke-width="15.6"/><use href="#d12" stroke="#f1fc06" stroke-width="12.0"/><use href="#d13" stroke="#ffbd00" stroke-width="8.0"/><use href="#d14" stroke="#000080" stroke-width="12.0"/><use href="#d15" stroke="#b4ff43" stroke-width="12.0"/><use href="#d16" stroke="#4dffaa" stroke-width="12.0"/><use href="#d17" stroke="#49ffad" stroke-width="8.0"/><use href="#d18" stroke="#feed00" stroke-width="8.0"/><use href="#d19" stroke="#ff7300" stroke-width="8.0"/><use href="#d20" stroke="#0068ff" stroke-width="15.6"/><use href="#d21" stroke="#00ccff" stroke-width="12.0"/><use href="#d22" stroke="#00c4ff" stroke-width="8.0"/><use href="#d23" stroke="#d10000" stroke-width="15.6"/><use href="#d24" stroke="#0025ff" stroke-width="8.0"/><use href="#d25" stroke="#800000" stroke-width="15.6"/><use href="#d26" stroke="#800000" stroke-width="12.0"/><use href="#d27" stroke="#f4f802" stroke-width="15.6"/><use href="#d28" stroke="#0000e4" stroke-width="8.0"/><use href="#d29" stroke="#b4ff43" stroke-width="8.0"/><use href="#d30" stroke="#800000" stroke-width="8.0"/><use href="#d31" stroke="#7aff7d" stroke-width="8.0"/><use href="#d32" stroke="#0070ff" stroke-width="8.0"/><use href="#d33" stroke="#7dff7a" stroke-width="12.0"/><use href="#d34" stroke="#94ff63" stroke-width="15.6"/><use href="#d35" stroke="#0ff8e7" stroke-width="12.0"/><use href="#d36" stroke="#00bcff" stroke-width="15.6"/><use href="#d37" stroke="#83ff73" stroke-width="15.6"/><use href="#d38" stroke="#23ffd4" stroke-width="15.6"/><use href="#d39" stroke="#bf0000" stroke-width="8.0"/><use href="#d40" stroke="#94ff63" stroke-width="8.0"/><use href="#d41" stroke="#4dffaa" stroke-width="15.6"/><use href="#d42" stroke="#ff2500" stroke-width="8.0"/><use href="#d43" stroke="#ff6f00" stroke-width="12.0"/><use href="#d44" stroke="#c4ff33" stroke-width="15.6"/><use href="#d45" stroke="#ffc100" stroke-width="12.0"/><use href="#d46" stroke="#ffc100" stroke-width="15.6"/><use href="#d47" stroke="#000080" stroke-width="15.6"/><use href="#d48" stroke="#000080" stroke-width="12.0"/><use href="#d49" stroke="#ffb200" stroke-width="15.6"/><use href="#d50" stroke="#0010ff" stroke-width="8.0"/><use href="#d51" stroke="#d60000" stroke-width="15.6"/><use href="#d52" stroke="#0000da" stroke-width="12.0"/><use href="#d53" stroke="#13fce4" stroke-width="8.0"/><use href="#d54" stroke="#ff8200" stroke-width="12.0"/><use href="#d55" stroke="#e7ff0f" stroke-width="15.6"/><use href="#d56" stroke="#00b4ff" stroke-width="8.0"/><use href="#d57" stroke="#d60000" stroke-width="12.0"/><use href="#d58" stroke="#94ff63" stroke-width="8.0"/><use href="#d59" stroke="#ff2d00" stroke-width="8.0"/><use href="#d60" stroke="#9dff5a" stroke-width="15.6"/><use href="#d61" stroke="#56ffa0" stroke-width="12.0"/><use href="#d62" stroke="#00c8ff" stroke-width="12.0"/><use href="#d63" stroke="#000080" stroke-width="8.0"/><use href="#d64" stroke="#87ff70" stroke-width="12.0"/><use href="#d65" stroke="#ff2200" stroke-width="12.0"/><use href="#d66" stroke="#0075ff" stroke-width="8.0"/><use href="#d67" stroke="#001dff" stroke-width="15.6"/><use href="#d68" stroke="#800000" stroke-width="12.0"/><use href="#d69" stroke="#d60000" stroke-width="8.0"/><use href="#d70" stroke="#0ff8e7" stroke-width="15.6"/><use href="#d71" stroke="#006dff" stroke-width="15.6"/><use href="#d72" stroke="#7aff7d" stroke-width="8.0"/><use href="#d73" stroke="#ff3800" stroke-width="15.6"/><use href="#d74" stroke="#b4ff43" stroke-width="8.0"/><use href="#d75" stroke="#ff8200" stroke-width="15.6"/><use href="#d76" stroke="#7aff7d" stroke-width="15.6"/><use href="#d77" stroke="#000080" stroke-width="15.6"/><use href="#d78" stroke="#5aff9d" stroke-width="8.0"/><use href="#d79" stroke="#0000cd" stroke-width="8.0"/><use href="#d80" stroke="#0000e4" stroke-width="15.6"/><use href="#d81" stroke="#ffb200" stroke-width="12.0"/><use href="#d82" stroke="#c4ff33" stroke-width="15.6"/><use href="#d83" stroke="#19ffde" stroke-width="12.0"/><use href="#d84" stroke="#fbf100" stroke-width="12.0"/><use href="#d85" stroke="#53ffa4" stroke-width="15.6"/><use href="#d86" stroke="#00bcff" stroke-width="15.6"/><use href="#d87" stroke="#7aff7d" stroke-width="12.0"/><use href="#d88" stroke="#ff7300" stroke-width="8.0"/><use href="#d89" stroke="#800000" stroke-width="8.0"/><use href="#d90" stroke="#f1fc06" stroke-width="8.0"/><use href="#d91" stroke="#0068ff" stroke-width="12.0"/><use href="#d92" stroke="#ffb600" stroke-width="8.0"/><use href="#d93" stroke="#0025ff" stroke-width="12.0"/><use href="#d94" stroke="#800000" stroke-width="15.6"/><use href="#d95" stroke="#b7ff40" stroke-width="12.0"/><use href="#d96" stroke="#800000" stroke-width="8.0"/><use href="#d97" stroke="#0ff8e7" stroke-width="15.6"/><use href="#d98" stroke="#73ff83" stroke-width="8.0"/><use href="#d99" stroke="#0000d1" stroke-width="8.0"/><use href="#d100" stroke="#ff7300" stroke-width="15.6"/><use href="#d101" stroke="#16ffe1" stroke-width="8.0"/><use href="#d102" stroke="#00c8ff" stroke-width="8.0"/><use href="#d103" stroke="#f1fc06" stroke-width="15.6"/><use href="#d104" stroke="#ff2500" stroke-width="15.6"/><use href="#d105" stroke="#ebff0c" stroke-width="8.0"/><use href="#d106" stroke="#9aff5d" stroke-width="12.0"/><use href="#d107" stroke="#0070ff" stroke-width="12.0"/><use href="#d108" stroke="#00bcff" stroke-width="15.6"/><use href="#d109" stroke="#ff7e00" stroke-width="8.0"/><use href="#d110" stroke="#0065ff" stroke-width="8.0"/><use href="#d111" stroke="#8dff6a" stroke-width="15.6"/><use href="#d112" stroke="#ffb200" stroke-width="12.0"/><use href="#d113" stroke="#ff3800" stroke-width="12.0"/><use href="#d114" stroke="#0ff8e7" stroke-width="12.0"/><use href="#d115" stroke="#000080" stroke-width="12.0"/><use href="#d116" stroke="#6dff8a" stroke-width="15.6"/><use href="#d117" stroke="#0010ff" stroke-width="12.0"/><use href="#d118" stroke="#ffc400" stroke-width="8.0"/><use href="#d119" stroke="#ff8600" stroke-width="12.0"/><use href="#d120" stroke="#800000" stroke-width="15.6"/><use href="#d121" stroke="#ffc100" stroke-width="15.6"/><use href="#d122" stroke="#beff39" stroke-width="15.6"/><use href="#d123" stroke="#50ffa7" stroke-width="12.0"/><use href="#d124" stroke="#0010ff" stroke-width="15.6"/><use href="#d125" stroke="#0068ff" stroke-width="15.6"/><use href="#d126" stroke="#000080" stroke-width="15.6"/><use href="#d127" stroke="#0018ff" stroke-width="8.0"/><use href="#d128" stroke="#b1ff46" stroke-width="12.0"/><use href="#d129" stroke="#73ff83" stroke-width="12.0"/><use href="#d130" stroke="#0000e8" stroke-width="15.6"/><use href="#d131" stroke="#00c8ff" stroke-width="12.0"/><use href="#d132" stroke="#800000" stroke-width="12.0"/><use href="#d133" stroke="#da0000" stroke-width="8.0"/><use href="#d134" stroke="#90ff66" stroke-width="8.0"/><use href="#d135" stroke="#cd0000" stroke-width="15.6"/><use href="#d136" stroke="#da0000" stroke-width="12.0"/><use href="#d137" stroke="#fbf100" stroke-width="12.0"/><use href="#d138" stroke="#5dff9a" stroke-width="8.0"/><use href="#d139" stroke="#000080" stroke-width="8.0"/><use href="#d140" stroke="#beff39" stroke-width="8.0"/><use href="#d141" stroke="#ff2d00" stroke-width="8.0"/><use href="#d142" stroke="#0000df" stroke-width="12.0"/><use href="#d143" stroke="#5dff9a" stroke-width="15.6"/></g><g stroke-linecap="round" stroke-width="4.35" fill="none"><path d="M677.5 679.3h0M695.3 686.0h0M702.0 696.6h0M702.0 698.4h0M719.3 688.5h0M719.7 691.8h0M730.3 686.3h0M739.7 692.5h0M752.8 683.2h0M765.3 702.2h0M777.3 668.5h0M781.2 685.0h0M797.3 683.4h0M781.7 697.5h0M798.8 705.2h0M818.3 680.4h0M848.8 690.3h0M702.7 716.8h0M732.5 707.9h0M770.8 710.3h0M778.2 709.0h0M823.8 712.0h0M826.3 715.3h0M823.0 717.8h0M829.0 720.0h0M842.5 712.3h0M858.3 712.2h0M682.2 719.4h0M681.5 731.2h0M725.3 728.2h0M748.3 723.2h0M757.0 733.0h0M790.3 729.3h0M836.3 724.3h0M843.2 724.2h0M869.5 722.0h0M762.2 743.0h0M777.3 741.0h0M704.0 763.0h0M678.3 766.0h0M683.5 768.5h0M688.5 766.3h0M726.5 765.0h0M728.0 763.7h0M761.3 760.5h0M766.8 764.2h0M777.5 763.4h0M791.3 763.3h0M793.3 766.5h0M797.2 762.2h0M821.7 751.5h0M816.5 757.0h0M828.0 765.5h0M830.0 763.5h0M831.8 762.0h0M842.7 761.4h0M868.5 771.7h0M676.0 776.3h0M789.5 781.4h0M830.5 780.4h0M840.0 787.0h0M796.3 793.5h0M781.8 806.0h0M783.0 819.4h0M818.3 816.5h0M1025.0 640.7h0M917.5 658.7h0M887.0 670.3h0M928.3 668.1h0M941.5 672.3h0M961.2 647.0h0M955.2 661.8h0M954.8 670.8h0M1003.0 666.2h0M978.8 674.5h0M993.0 675.5h0M996.5 675.3h0M1014.5 677.4h0M1014.7 682.7h0M981.3 682.5h0M993.5 684.8h0M927.2 680.7h0M926.3 686.7h0M886.8 687.0h0M951.3 683.8h0M955.8 688.3h0M971.8 688.6h0M962.5 691.5h0M963.0 696.0h0M936.0 691.1h0M939.8 694.5h0M921.0 696.8h0M933.3 698.4h0M899.0 697.8h0M890.5 699.7h0M878.5 700.8h0M879.0 703.8h0M874.0 703.5h0M891.8 705.5h0M883.3 708.8h0M902.5 712.7h0M890.3 716.8h0M917.5 710.8h0M924.0 720.4h0M940.8 715.3h0M946.5 711.0h0M967.5 709.3h0M963.8 714.3h0M976.5 707.3h0M978.5 716.8h0M980.0 715.8h0M991.5 695.2h0M993.5 697.0h0M994.5 713.8h0M1029.5 689.8h0M1028.8 692.5h0M1027.7 699.5h0M1013.7 703.8h0M1012.0 705.5h0M871.0 722.5h0M886.5 723.8h0M893.2 723.2h0M941.0 723.2h0M955.0 726.5h0M966.2 727.2h0M975.5 722.3h0M980.8 726.8h0M992.0 727.5h0M1000.0 727.8h0M997.7 731.5h0M1005.3 731.0h0M1018.3 730.5h0M1026.0 725.8h0M905.0 732.8h0M936.0 732.7h0M950.0 733.0h0M992.7 736.5h0M881.5 738.5h0M949.5 750.2h0M960.5 749.8h0M966.8 753.0h0M951.5 756.5h0M1000.6 750.2h0M1001.2 752.0h0M887.7 755.7h0M899.3 760.4h0M906.0 761.0h0M924.0 756.6h0M902.0 768.0h0M937.5 768.5h0M899.8 775.0h0M909.8 776.2h0M1006.3 761.3h0M1004.8 763.7h0M1003.0 768.7h0M1018.5 764.8h0M1033.8 758.0h0M1034.5 760.5h0M1031.2 762.8h0M1029.2 765.0h0M973.0 779.2h0M990.0 774.9h0M1004.8 776.2h0M1025.8 773.8h0M1025.5 778.2h0M1021.0 780.5h0M972.0 801.0h0M952.0 814.5h0M882.5 830.5h0M891.3 831.5h0M901.6 830.5h0M904.6 830.5h0M911.3 830.5h0M925.3 830.3h0M926.4 831.4h0M936.0 830.5h0M948.3 830.5h0M970.2 830.5h0M998.3 830.8h0M1011.0 830.5h0M1616.0 830.5h0M1616.2 738.3h0M651.4 704.2h0M661.1 709.2h0M659.7 711.3h0M658.0 730.8h0M638.5 748.5h0M658.0 778.6h0M633.2 755.6h0M607.5 779.5h0M612.8 768.0h0M612.5 757.5h0M597.5 702.0h0M597.8 774.0h0" stroke="#90ff66"/><path d="M742.0 699.2h0M762.7 696.5h0M794.8 667.3h0M802.5 695.5h0M710.5 708.7h0M703.8 711.7h0M721.7 713.5h0M725.0 714.3h0M728.2 717.8h0M742.0 716.2h0M766.3 709.3h0M775.5 720.3h0M818.3 709.3h0M706.5 725.3h0M716.0 730.3h0M689.2 746.8h0M681.3 758.5h0M703.0 766.8h0M751.0 764.3h0M763.5 771.2h0M679.5 796.5h0M682.5 803.8h0M713.3 804.5h0M737.8 813.2h0M676.8 816.3h0M729.8 821.8h0M681.4 830.7h0M682.7 830.7h0M764.1 830.8h0M765.4 830.8h0M884.2 664.2h0M983.0 677.7h0M922.0 695.0h0M946.5 700.3h0M893.5 714.3h0M991.0 699.7h0M1010.8 708.5h0M1018.5 717.2h0M1033.2 714.8h0M996.5 722.3h0M965.5 736.5h0M880.8 760.0h0M974.0 774.1h0M1011.8 777.8h0M947.8 786.1h0M956.0 789.0h0M954.3 793.8h0M1034.7 800.3h0M1022.3 805.5h0M992.0 811.6h0M993.0 812.6h0M900.0 820.8h0M639.0 670.6h0M608.4 517.0h0M634.1 695.0h0M640.2 734.0h0" stroke="#73ff83"/><path d="M853.5 772.4h0M884.5 765.5h0" stroke="#baff3c"/><path d="M944.5 666.5h0M986.5 723.8h0M979.3 756.8h0" stroke="#49ffad"/><path d="M640.6 542.3h0M640.6 674.1h0M598.2 844.5h0" stroke="#ff8600"/><path d="M640.6 554.7h0M641.7 736.1h0M640.6 754.7h0" stroke="#800000"/><path d="M646.4 554.1h0M640.6 756.6h0M641.7 806.4h0" stroke="#0000e4"/><path d="M640.6 597.5h0M640.6 692.2h0" stroke="#ffe600"/><path d="M640.6 600.2h0M598.6 711.8h0" stroke="#0090ff"/><path d="M607.5 553.4h0M640.6 769.7h0M640.6 799.8h0M640.6 822.3h0M609.3 772.4h0M598.0 689.2h0" stroke="#000080"/><path d="M608.4 578.2h0M640.6 837.9h0M597.8 748.8h0" stroke="#ff1300"/></g></g>
<path d="M513.50 69.5V423.5M804.50 69.5V423.5M1095.50 69.5V423.5M1385.50 69.5V423.5M222.5 305.50H1618.5M222.5 187.50H1618.5" stroke="#b0b0b0" stroke-width="1.11" fill="none"/>
<path d="M222.50 423.5v4.86M280.50 423.5v2.78M338.50 423.5v2.78M397.50 423.5v2.78M455.50 423.5v2.78M513.50 423.5v4.86M571.50 423.5v2.78M629.50 423.5v2.78M687.50 423.5v2.78M746.50 423.5v2.78M804.50 423.5v4.86M862.50 423.5v2.78M920.50 423.5v2.78M978.50 423.5v2.78M1036.50 423.5v2.78M1095.50 423.5v4.86M1153.50 423.5v2.78M1211.50 423.5v2.78M1269.50 423.5v2.78M1327.50 423.5v2.78M1385.50 423.5v4.86M1444.50 423.5v2.78M1502.50 423.5v2.78M1560.50 423.5v2.78M1618.50 423.5v2.78M222.5 423.50h-4.86M222.5 399.50h-2.78M222.5 376.50h-2.78M222.5 352.50h-2.78M222.5 329.50h-2.78M222.5 305.50h-4.86M222.5 281.50h-2.78M222.5 258.50h-2.78M222.5 234.50h-2.78M222.5 211.50h-2.78M222.5 187.50h-4.86M222.5 163.50h-2.78M222.5 140.50h-2.78M222.5 116.50h-2.78M222.5 93.50h-2.78M222.5 69.50h-4.86" stroke="#000" stroke-width="1.11" fill="none"/>
<rect x="222.5" y="69.5" width="1396.0" height="354.0" fill="none" stroke="#000" stroke-width="1.11"/>
<path d="M513.50 506.5V860.5M804.50 506.5V860.5M1095.50 506.5V860.5M1385.50 506.5V860.5M222.5 742.50H1618.5M222.5 624.50H1618.5" stroke="#b0b0b0" stroke-width="1.11" fill="none"/>
<path d="M222.50 860.5v4.86M280.50 860.5v2.78M338.50 860.5v2.78M397.50 860.5v2.78M455.50 860.5v2.78M513.50 860.5v4.86M571.50 860.5v2.78M629.50 860.5v2.78M687.50 860.5v2.78M746.50 860.5v2.78M804.50 860.5v4.86M862.50 860.5v2.78M920.50 860.5v2.78M978.50 860.5v2.78M1036.50 860.5v2.78M1095.50 860.5v4.86M1153.50 860.5v2.78M1211.50 860.5v2.78M1269.50 860.5v2.78M1327.50 860.5v2.78M1385.50 860.5v4.86M1444.50 860.5v2.78M1502.50 860.5v2.78M1560.50 860.5v2.78M1618.50 860.5v2.78M222.5 860.50h-4.86M222.5 836.50h-2.78M222.5 813.50h-2.78M222.5 789.50h-2.78M222.5 766.50h-2.78M222.5 742.50h-4.86M222.5 718.50h-2.78M222.5 695.50h-2.78M222.5 671.50h-2.78M222.5 648.50h-2.78M222.5 624.50h-4.86M222.5 600.50h-2.78M222.5 577.50h-2.78M222.5 553.50h-2.78M222.5 530.50h-2.78M222.5 506.50h-4.86" stroke="#000" stroke-width="1.11" fill="none"/>
<rect x="222.5" y="506.5" width="1396.0" height="354.0" fill="none" stroke="#000" stroke-width="1.11"/>
<defs><linearGradient id="g_plasma_r" x1="0" y1="0" x2="0" y2="1"><stop offset="0.0000" stop-color="#0d0887"/><stop offset="0.0159" stop-color="#19068c"/><stop offset="0.0317" stop-color="#220690"/><stop offset="0.0476" stop-color="#2a0593"/><stop offset="0.0635" stop-color="#310597"/><stop offset="0.0794" stop-color="#38049a"/><stop offset="0.0952" stop-color="#3f049c"/><stop offset="0.1111" stop-color="#46039f"/><stop offset="0.1270" stop-color="#4c02a1"/><stop offset="0.1429" stop-color="#5302a3"/><stop offset="0.1587" stop-color="#5901a5"/><stop offset="0.1746" stop-color="#6001a6"/><stop offset="0.1905" stop-color="#6600a7"/><stop offset="0.2063" stop-color="#6c00a8"/><stop offset="0.2222" stop-color="#7201a8"/><stop offset="0.2381" stop-color="#7801a8"/><stop offset="0.2540" stop-color="#8004a8"/><stop offset="0.2698" stop-color="#8606a6"/><stop offset="0.2857" stop-color="#8b0aa5"/><stop offset="0.3016" stop-color="#910ea3"/><stop offset="0.3175" stop-color="#9613a1"/><stop offset="0.3333" stop-color="#9c179e"/><stop offset="0.3492" stop-color="#a11b9b"/><stop offset="0.3651" stop-color="#a62098"/><stop offset="0.3810" stop-color="#ab2494"/><stop offset="0.3968" stop-color="#b02991"/><stop offset="0.4127" stop-color="#b42e8d"/><stop offset="0.4286" stop-color="#b83289"/><stop offset="0.4444" stop-color="#bd3786"/><stop offset="0.4603" stop-color="#c13b82"/><stop offset="0.4762" stop-color="#c5407e"/><stop offset="0.4921" stop-color="#c9447a"/><stop offset="0.5079" stop-color="#cd4a76"/><stop offset="0.5238" stop-color="#d14e72"/><stop offset="0.5397" stop-color="#d5536f"/><stop offset="0.5556" stop-color="#d8576b"/><stop offset="0.5714" stop-color="#db5c68"/><stop offset="0.5873" stop-color="#de6164"/><stop offset="0.6032" stop-color="#e26561"/><stop offset="0.6190" stop-color="#e56a5d"/><stop offset="0.6349" stop-color="#e76f5a"/><stop offset="0.6508" stop-color="#ea7457"/><stop offset="0.6667" stop-color="#ed7953"/><stop offset="0.6825" stop-color="#ef7e50"/><stop offset="0.6984" stop-color="#f1834c"/><stop offset="0.7143" stop-color="#f48849"/><stop offset="0.7302" stop-color="#f68d45"/><stop offset="0.7460" stop-color="#f79342"/><stop offset="0.7619" stop-color="#f99a3e"/><stop offset="0.7778" stop-color="#fb9f3a"/><stop offset="0.7937" stop-color="#fca537"/><stop offset="0.8095" stop-color="#fdab33"/><stop offset="0.8254" stop-color="#fdb130"/><stop offset="0.8413" stop-color="#feb72d"/><stop offset="0.8571" stop-color="#febd2a"/><stop offset="0.8730" stop-color="#fdc328"/><stop offset="0.8889" stop-color="#fdca26"/><stop offset="0.9048" stop-color="#fcd025"/><stop offset="0.9206" stop-color="#fbd724"/><stop offset="0.9365" stop-color="#f9dd25"/><stop offset="0.9524" stop-color="#f7e425"/><stop offset="0.9683" stop-color="#f5eb27"/><stop offset="0.9841" stop-color="#f2f227"/><stop offset="1.0000" stop-color="#f0f921"/></linearGradient></defs>
<rect x="1705.5" y="69.5" width="18.0" height="354.0" fill="url(#g_plasma_r)" stroke="#000" stroke-width="1.11"/>
<path d="M1723.5 423.50h4.86M1723.5 335.50h4.86M1723.5 246.50h4.86M1723.5 158.50h4.86M1723.5 69.50h4.86" stroke="#000" stroke-width="1.11" fill="none"/>
<defs><linearGradient id="g_jet_r" x1="0" y1="0" x2="0" y2="1"><stop offset="0.0000" stop-color="#000080"/><stop offset="0.0159" stop-color="#000092"/><stop offset="0.0317" stop-color="#0000a4"/><stop offset="0.0476" stop-color="#0000b6"/><stop offset="0.0635" stop-color="#0000c8"/><stop offset="0.0794" stop-color="#0000da"/><stop offset="0.0952" stop-color="#0000ed"/><stop offset="0.1111" stop-color="#0000ff"/><stop offset="0.1270" stop-color="#0000ff"/><stop offset="0.1429" stop-color="#0010ff"/><stop offset="0.1587" stop-color="#0020ff"/><stop offset="0.1746" stop-color="#0030ff"/><stop offset="0.1905" stop-color="#0040ff"/><stop offset="0.2063" stop-color="#0050ff"/><stop offset="0.2222" stop-color="#0060ff"/><stop offset="0.2381" stop-color="#0070ff"/><stop offset="0.2540" stop-color="#0084ff"/><stop offset="0.2698" stop-color="#0094ff"/><stop offset="0.2857" stop-color="#00a4ff"/><stop offset="0.3016" stop-color="#00b4ff"/><stop offset="0.3175" stop-color="#00c4ff"/><stop offset="0.3333" stop-color="#00d4ff"/><stop offset="0.3492" stop-color="#00e4f8"/><stop offset="0.3651" stop-color="#0cf4eb"/><stop offset="0.3810" stop-color="#19ffde"/><stop offset="0.3968" stop-color="#26ffd1"/><stop offset="0.4127" stop-color="#33ffc4"/><stop offset="0.4286" stop-color="#40ffb7"/><stop offset="0.4444" stop-color="#4dffaa"/><stop offset="0.4603" stop-color="#5aff9d"/><stop offset="0.4762" stop-color="#66ff90"/><stop offset="0.4921" stop-color="#73ff83"/><stop offset="0.5079" stop-color="#83ff73"/><stop offset="0.5238" stop-color="#90ff66"/><stop offset="0.5397" stop-color="#9dff5a"/><stop offset="0.5556" stop-color="#aaff4d"/><stop offset="0.5714" stop-color="#b7ff40"/><stop offset="0.5873" stop-color="#c4ff33"/><stop offset="0.6032" stop-color="#d1ff26"/><stop offset="0.6190" stop-color="#deff19"/><stop offset="0.6349" stop-color="#ebff0c"/><stop offset="0.6508" stop-color="#f8f500"/><stop offset="0.6667" stop-color="#ffe600"/><stop offset="0.6825" stop-color="#ffd700"/><stop offset="0.6984" stop-color="#ffc800"/><stop offset="0.7143" stop-color="#ffb900"/><stop offset="0.7302" stop-color="#ffab00"/><stop offset="0.7460" stop-color="#ff9c00"/><stop offset="0.7619" stop-color="#ff8900"/><stop offset="0.7778" stop-color="#ff7a00"/><stop offset="0.7937" stop-color="#ff6c00"/><stop offset="0.8095" stop-color="#ff5d00"/><stop offset="0.8254" stop-color="#ff4e00"/><stop offset="0.8413" stop-color="#ff3f00"/><stop offset="0.8571" stop-color="#ff3000"/><stop offset="0.8730" stop-color="#ff2200"/><stop offset="0.8889" stop-color="#ff1300"/><stop offset="0.9048" stop-color="#ed0400"/><stop offset="0.9206" stop-color="#da0000"/><stop offset="0.9365" stop-color="#c80000"/><stop offset="0.9524" stop-color="#b60000"/><stop offset="0.9683" stop-color="#a40000"/><stop offset="0.9841" stop-color="#920000"/><stop offset="1.0000" stop-color="#800000"/></linearGradient></defs>
<rect x="1705.5" y="506.5" width="18.0" height="354.0" fill="url(#g_jet_r)" stroke="#000" stroke-width="1.11"/>
<path d="M1723.5 781.50h4.86M1723.5 683.50h4.86M1723.5 585.50h4.86" stroke="#000" stroke-width="1.11" fill="none"/>
<g style="mix-blend-mode:multiply" stroke="#000" stroke-width="0.35"><g transform="translate(222.50,456.40)" font-size="32.39"><text x="-9.03" y="0" textLength="18.1" lengthAdjust="spacingAndGlyphs">0</text></g><g transform="translate(513.33,456.40)" font-size="32.39"><text x="-9.03" y="0" textLength="18.1" lengthAdjust="spacingAndGlyphs">5</text></g><g transform="translate(804.17,456.40)" font-size="32.39"><text x="-18.75" y="0" textLength="37.5" lengthAdjust="spacingAndGlyphs">10</text></g><g transform="translate(1095.00,456.40)" font-size="32.39"><text x="-18.75" y="0" textLength="37.5" lengthAdjust="spacingAndGlyphs">15</text></g><g transform="translate(1385.83,456.40)" font-size="32.39"><text x="-18.75" y="0" textLength="37.5" lengthAdjust="spacingAndGlyphs">20</text></g><g transform="translate(212.40,435.10)" font-size="32.39"><text x="-18.75" y="0" textLength="18.1" lengthAdjust="spacingAndGlyphs">0</text></g><g transform="translate(212.40,317.10)" font-size="32.39"><text x="-77.08" y="0" textLength="76.4" lengthAdjust="spacingAndGlyphs">1000</text></g><g transform="translate(212.40,199.10)" font-size="32.39"><text x="-77.08" y="0" textLength="76.4" lengthAdjust="spacingAndGlyphs">2000</text></g><g transform="translate(212.40,81.10)" font-size="32.39"><text x="-77.08" y="0" textLength="76.4" lengthAdjust="spacingAndGlyphs">3000</text></g><g transform="translate(222.50,893.40)" font-size="32.39"><text x="-9.03" y="0" textLength="18.1" lengthAdjust="spacingAndGlyphs">0</text></g><g transform="translate(513.33,893.40)" font-size="32.39"><text x="-9.03" y="0" textLength="18.1" lengthAdjust="spacingAndGlyphs">5</text></g><g transform="translate(804.17,893.40)" font-size="32.39"><text x="-18.75" y="0" textLength="37.5" lengthAdjust="spacingAndGlyphs">10</text></g><g transform="translate(1095.00,893.40)" font-size="32.39"><text x="-18.75" y="0" textLength="37.5" lengthAdjust="spacingAndGlyphs">15</text></g><g transform="translate(1385.83,893.40)" font-size="32.39"><text x="-18.75" y="0" textLength="37.5" lengthAdjust="spacingAndGlyphs">20</text></g><g transform="translate(212.40,872.10)" font-size="32.39"><text x="-18.75" y="0" textLength="18.1" lengthAdjust="spacingAndGlyphs">0</text></g><g transform="translate(212.40,754.10)" font-size="32.39"><text x="-77.08" y="0" textLength="76.4" lengthAdjust="spacingAndGlyphs">1000</text></g><g transform="translate(212.40,636.10)" font-size="32.39"><text x="-77.08" y="0" textLength="76.4" lengthAdjust="spacingAndGlyphs">2000</text></g><g transform="translate(212.40,518.10)" font-size="32.39"><text x="-77.08" y="0" textLength="76.4" lengthAdjust="spacingAndGlyphs">3000</text></g><g transform="translate(1732.60,434.90)" font-size="32.39"><text x="0.69" y="0" textLength="18.1" lengthAdjust="spacingAndGlyphs">0</text></g><g transform="translate(1732.60,346.40)" font-size="32.39"><text x="0.69" y="0" textLength="18.1" lengthAdjust="spacingAndGlyphs">5</text></g><g transform="translate(1732.60,257.90)" font-size="32.39"><text x="0.69" y="0" textLength="37.5" lengthAdjust="spacingAndGlyphs">10</text></g><g transform="translate(1732.60,169.40)" font-size="32.39"><text x="0.69" y="0" textLength="37.5" lengthAdjust="spacingAndGlyphs">15</text></g><g transform="translate(1732.60,80.90)" font-size="32.39"><text x="0.69" y="0" textLength="37.5" lengthAdjust="spacingAndGlyphs">20</text></g><g transform="translate(1799.50,246.50) rotate(-90)" font-size="32.39"><text x="-68.01" y="0" textLength="62.1" lengthAdjust="spacingAndGlyphs">SNR</text><text x="5.19" y="0" textLength="62.8" lengthAdjust="spacingAndGlyphs">(dB)</text></g><g transform="translate(1732.60,793.23)" font-size="32.39"><text x="0.69" y="0" textLength="82.5" lengthAdjust="spacingAndGlyphs">−500</text></g><g transform="translate(1732.60,694.90)" font-size="32.39"><text x="0.69" y="0" textLength="18.1" lengthAdjust="spacingAndGlyphs">0</text></g><g transform="translate(1732.60,596.57)" font-size="32.39"><text x="0.69" y="0" textLength="56.9" lengthAdjust="spacingAndGlyphs">500</text></g><g transform="translate(1843.50,683.50) rotate(-90)" font-size="32.39"><text x="-104.51" y="0" textLength="119.5" lengthAdjust="spacingAndGlyphs">Doppler</text><text x="26.07" y="0" textLength="78.4" lengthAdjust="spacingAndGlyphs">(m/s)</text></g><g transform="translate(920.50,61.00)" font-size="38.87"><text x="-325.59" y="0" textLength="211.4" lengthAdjust="spacingAndGlyphs">2025-08-21</text><text x="-100.84" y="0" textLength="156.8" lengthAdjust="spacingAndGlyphs">ICEBEAR</text><text x="69.28" y="0" textLength="175.5" lengthAdjust="spacingAndGlyphs">Summary</text><text x="258.13" y="0" textLength="67.5" lengthAdjust="spacingAndGlyphs">Plot</text></g><g transform="translate(89.00,246.50) rotate(-90)" font-size="32.39"><text x="-130.88" y="0" textLength="37.4" lengthAdjust="spacingAndGlyphs">RF</text><text x="-82.36" y="0" textLength="132.2" lengthAdjust="spacingAndGlyphs">Distance</text><text x="60.96" y="0" textLength="69.9" lengthAdjust="spacingAndGlyphs">(km)</text></g><g transform="translate(89.00,683.50) rotate(-90)" font-size="32.39"><text x="-130.88" y="0" textLength="37.4" lengthAdjust="spacingAndGlyphs">RF</text><text x="-82.36" y="0" textLength="132.2" lengthAdjust="spacingAndGlyphs">Distance</text><text x="60.96" y="0" textLength="69.9" lengthAdjust="spacingAndGlyphs">(km)</text></g><g transform="translate(920.50,960.50)" font-size="32.39"><text x="-96.90" y="0" textLength="74.3" lengthAdjust="spacingAndGlyphs">Time</text><text x="-11.47" y="0" textLength="108.4" lengthAdjust="spacingAndGlyphs">(hours)</text></g><g transform="translate(1548.80,940.20)" font-size="26.50"><text x="0.56" y="0" textLength="134.9" lengthAdjust="spacingAndGlyphs">Calibration</text><text x="144.53" y="0" textLength="67.1" lengthAdjust="spacingAndGlyphs">Date:</text><text x="220.66" y="0" textLength="144.2" lengthAdjust="spacingAndGlyphs">2024-09-12</text></g></g>
</svg>
</body></html>
